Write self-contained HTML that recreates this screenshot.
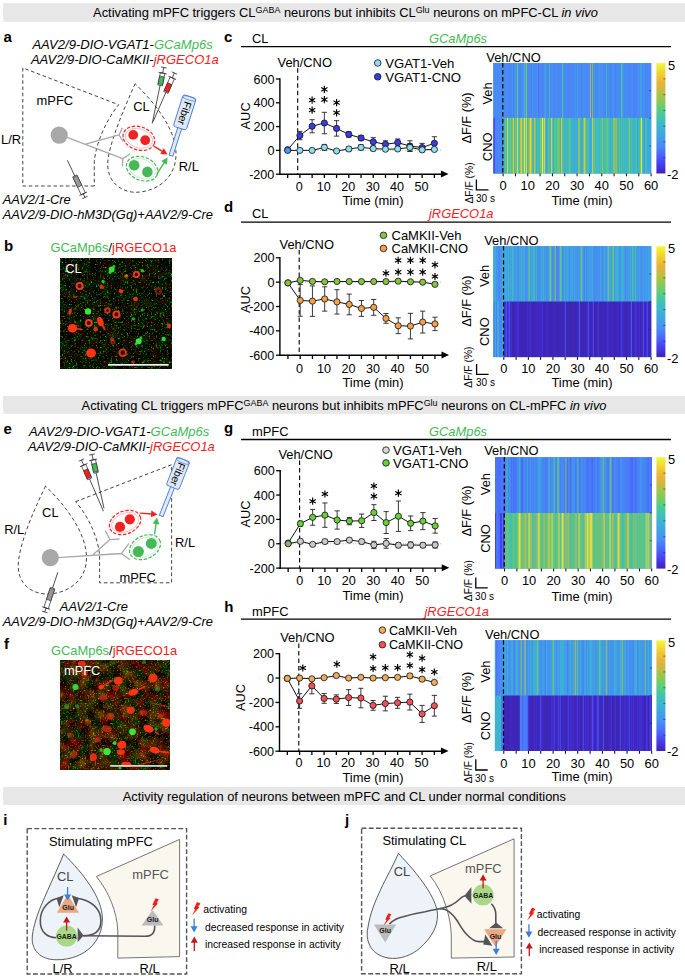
<!DOCTYPE html>
<html><head><meta charset="utf-8"><title>Figure</title>
<style>
html,body{margin:0;padding:0;background:#fff;}
body{width:685px;height:976px;overflow:hidden;font-family:"Liberation Sans",sans-serif;}
svg{display:block;font-family:"Liberation Sans",sans-serif;}
</style></head><body>
<svg width="685" height="976" viewBox="0 0 685 976">
<rect width="685" height="976" fill="#fff"/>
<rect x="3.20" y="3.20" width="682.00" height="18.70" fill="#e7e7e7"/>
<text x="93.10" y="17.15" font-size="12.89">Activating mPFC triggers CL<tspan font-size="8.95" dy="-3.7">GABA</tspan><tspan dy="3.7" font-size="12.89"> neurons but inhibits CL</tspan><tspan font-size="8.95" dy="-3.7">Glu</tspan><tspan dy="3.7" font-size="12.89"> neurons on mPFC-CL <tspan font-style="italic">in vivo</tspan></tspan></text>
<rect x="3.20" y="395.90" width="682.00" height="18.00" fill="#e7e7e7"/>
<text x="81.60" y="409.50" font-size="12.89">Activating CL triggers mPFC<tspan font-size="8.95" dy="-3.7">GABA</tspan><tspan dy="3.7" font-size="12.89"> neurons but inhibits mPFC</tspan><tspan font-size="8.95" dy="-3.7">Glu</tspan><tspan dy="3.7" font-size="12.89"> neurons on CL-mPFC <tspan font-style="italic">in vivo</tspan></tspan></text>
<rect x="3.20" y="787.00" width="682.00" height="17.90" fill="#e7e7e7"/>
<text x="122.70" y="800.55" font-size="12.89">Activity regulation of neurons between mPFC and CL under normal conditions</text>
<text x="224.00" y="42.20" font-size="15" font-weight="bold">c</text>
<text x="252.00" y="42.62" font-size="12.9">CL</text>
<text x="429.00" y="42.62" font-size="12.9" font-style="italic" fill="#45b957">GCaMp6s</text>
<line x1="241.00" y1="46.60" x2="671.00" y2="46.60" stroke="#000" stroke-width="1.3"/>
<line x1="279.90" y1="150.40" x2="441.71" y2="150.40" stroke="#999" stroke-width="0.7" stroke-dasharray="1 1.5"/>
<line x1="279.90" y1="78.30" x2="279.90" y2="174.90" stroke="#000" stroke-width="1.4"/>
<line x1="279.20" y1="174.20" x2="442.93" y2="174.20" stroke="#000" stroke-width="1.4"/>
<path d="M440.93 170.40 L448.53 173.90 L440.93 177.40Z" fill="#000"/>
<line x1="275.90" y1="79.00" x2="279.90" y2="79.00" stroke="#000" stroke-width="1.3"/>
<text x="274.40" y="83.51" font-size="12.6" text-anchor="end">600</text>
<line x1="275.90" y1="102.80" x2="279.90" y2="102.80" stroke="#000" stroke-width="1.3"/>
<text x="274.40" y="107.31" font-size="12.6" text-anchor="end">400</text>
<line x1="275.90" y1="126.60" x2="279.90" y2="126.60" stroke="#000" stroke-width="1.3"/>
<text x="274.40" y="131.11" font-size="12.6" text-anchor="end">200</text>
<line x1="275.90" y1="150.40" x2="279.90" y2="150.40" stroke="#000" stroke-width="1.3"/>
<text x="274.40" y="154.91" font-size="12.6" text-anchor="end">0</text>
<line x1="275.90" y1="174.20" x2="279.90" y2="174.20" stroke="#000" stroke-width="1.3"/>
<text x="274.40" y="178.71" font-size="12.6" text-anchor="end">-200</text>
<line x1="287.67" y1="174.20" x2="287.67" y2="178.00" stroke="#000" stroke-width="1.3"/>
<line x1="299.90" y1="174.20" x2="299.90" y2="178.00" stroke="#000" stroke-width="1.3"/>
<line x1="312.12" y1="174.20" x2="312.12" y2="178.00" stroke="#000" stroke-width="1.3"/>
<line x1="324.35" y1="174.20" x2="324.35" y2="178.00" stroke="#000" stroke-width="1.3"/>
<line x1="336.57" y1="174.20" x2="336.57" y2="178.00" stroke="#000" stroke-width="1.3"/>
<line x1="348.80" y1="174.20" x2="348.80" y2="178.00" stroke="#000" stroke-width="1.3"/>
<line x1="361.02" y1="174.20" x2="361.02" y2="178.00" stroke="#000" stroke-width="1.3"/>
<line x1="373.25" y1="174.20" x2="373.25" y2="178.00" stroke="#000" stroke-width="1.3"/>
<line x1="385.47" y1="174.20" x2="385.47" y2="178.00" stroke="#000" stroke-width="1.3"/>
<line x1="397.70" y1="174.20" x2="397.70" y2="178.00" stroke="#000" stroke-width="1.3"/>
<line x1="409.92" y1="174.20" x2="409.92" y2="178.00" stroke="#000" stroke-width="1.3"/>
<line x1="422.15" y1="174.20" x2="422.15" y2="178.00" stroke="#000" stroke-width="1.3"/>
<line x1="434.38" y1="174.20" x2="434.38" y2="178.00" stroke="#000" stroke-width="1.3"/>
<text x="299.30" y="191.11" font-size="12.6" text-anchor="middle">0</text>
<text x="323.75" y="191.11" font-size="12.6" text-anchor="middle">10</text>
<text x="348.20" y="191.11" font-size="12.6" text-anchor="middle">20</text>
<text x="372.65" y="191.11" font-size="12.6" text-anchor="middle">30</text>
<text x="397.10" y="191.11" font-size="12.6" text-anchor="middle">40</text>
<text x="421.55" y="191.11" font-size="12.6" text-anchor="middle">50</text>
<text x="342.40" y="205.12" font-size="12.9">Time (min)</text>
<text x="249.62" y="115.90" font-size="12.9" text-anchor="middle" transform="rotate(-90 249.62 115.90)">AUC</text>
<text x="277.50" y="66.92" font-size="12.9">Veh/CNO</text>
<line x1="297.70" y1="68.30" x2="297.70" y2="174.20" stroke="#000" stroke-width="1.1" stroke-dasharray="4.5 3"/>
<circle cx="377.70" cy="63.00" r="3.3" fill="#8fe0ee" stroke="#111" stroke-width="0.8"/>
<text x="385.20" y="67.71" font-size="13.15">VGAT1-Veh</text>
<circle cx="377.70" cy="76.80" r="3.3" fill="#3b3be6" stroke="#111" stroke-width="0.8"/>
<text x="385.20" y="81.51" font-size="13.15">VGAT1-CNO</text>
<line x1="299.90" y1="131.36" x2="299.90" y2="139.69" stroke="#222" stroke-width="0.9"/>
<line x1="297.30" y1="131.36" x2="302.50" y2="131.36" stroke="#222" stroke-width="0.9"/>
<line x1="297.30" y1="139.69" x2="302.50" y2="139.69" stroke="#222" stroke-width="0.9"/>
<line x1="312.12" y1="119.70" x2="312.12" y2="132.79" stroke="#222" stroke-width="0.9"/>
<line x1="309.52" y1="119.70" x2="314.73" y2="119.70" stroke="#222" stroke-width="0.9"/>
<line x1="309.52" y1="132.79" x2="314.73" y2="132.79" stroke="#222" stroke-width="0.9"/>
<line x1="324.35" y1="112.32" x2="324.35" y2="133.74" stroke="#222" stroke-width="0.9"/>
<line x1="321.75" y1="112.32" x2="326.95" y2="112.32" stroke="#222" stroke-width="0.9"/>
<line x1="321.75" y1="133.74" x2="326.95" y2="133.74" stroke="#222" stroke-width="0.9"/>
<line x1="336.57" y1="120.65" x2="336.57" y2="136.12" stroke="#222" stroke-width="0.9"/>
<line x1="333.97" y1="120.65" x2="339.18" y2="120.65" stroke="#222" stroke-width="0.9"/>
<line x1="333.97" y1="136.12" x2="339.18" y2="136.12" stroke="#222" stroke-width="0.9"/>
<line x1="348.80" y1="131.84" x2="348.80" y2="137.07" stroke="#222" stroke-width="0.9"/>
<line x1="346.20" y1="131.84" x2="351.40" y2="131.84" stroke="#222" stroke-width="0.9"/>
<line x1="346.20" y1="137.07" x2="351.40" y2="137.07" stroke="#222" stroke-width="0.9"/>
<line x1="361.02" y1="135.41" x2="361.02" y2="140.64" stroke="#222" stroke-width="0.9"/>
<line x1="358.42" y1="135.41" x2="363.62" y2="135.41" stroke="#222" stroke-width="0.9"/>
<line x1="358.42" y1="140.64" x2="363.62" y2="140.64" stroke="#222" stroke-width="0.9"/>
<line x1="373.25" y1="137.67" x2="373.25" y2="146.00" stroke="#222" stroke-width="0.9"/>
<line x1="370.65" y1="137.67" x2="375.85" y2="137.67" stroke="#222" stroke-width="0.9"/>
<line x1="370.65" y1="146.00" x2="375.85" y2="146.00" stroke="#222" stroke-width="0.9"/>
<line x1="385.47" y1="140.76" x2="385.47" y2="147.90" stroke="#222" stroke-width="0.9"/>
<line x1="382.87" y1="140.76" x2="388.07" y2="140.76" stroke="#222" stroke-width="0.9"/>
<line x1="382.87" y1="147.90" x2="388.07" y2="147.90" stroke="#222" stroke-width="0.9"/>
<line x1="397.70" y1="138.98" x2="397.70" y2="146.12" stroke="#222" stroke-width="0.9"/>
<line x1="395.10" y1="138.98" x2="400.30" y2="138.98" stroke="#222" stroke-width="0.9"/>
<line x1="395.10" y1="146.12" x2="400.30" y2="146.12" stroke="#222" stroke-width="0.9"/>
<line x1="409.92" y1="140.76" x2="409.92" y2="151.47" stroke="#222" stroke-width="0.9"/>
<line x1="407.32" y1="140.76" x2="412.52" y2="140.76" stroke="#222" stroke-width="0.9"/>
<line x1="407.32" y1="151.47" x2="412.52" y2="151.47" stroke="#222" stroke-width="0.9"/>
<line x1="422.15" y1="143.38" x2="422.15" y2="151.71" stroke="#222" stroke-width="0.9"/>
<line x1="419.55" y1="143.38" x2="424.75" y2="143.38" stroke="#222" stroke-width="0.9"/>
<line x1="419.55" y1="151.71" x2="424.75" y2="151.71" stroke="#222" stroke-width="0.9"/>
<line x1="434.38" y1="136.72" x2="434.38" y2="149.81" stroke="#222" stroke-width="0.9"/>
<line x1="431.77" y1="136.72" x2="436.98" y2="136.72" stroke="#222" stroke-width="0.9"/>
<line x1="431.77" y1="149.81" x2="436.98" y2="149.81" stroke="#222" stroke-width="0.9"/>
<polyline points="287.67,149.69 299.90,135.52 312.12,126.24 324.35,123.03 336.57,128.38 348.80,134.45 361.02,138.02 373.25,141.83 385.47,144.33 397.70,142.55 409.92,146.12 422.15,147.54 434.38,143.26" fill="none" stroke="#111" stroke-width="1"/>
<circle cx="287.67" cy="149.69" r="3.1" fill="#4a9ae4" stroke="#111" stroke-width="0.8"/>
<circle cx="299.90" cy="135.52" r="3.1" fill="#3b3be6" stroke="#111" stroke-width="0.8"/>
<circle cx="312.12" cy="126.24" r="3.1" fill="#3b3be6" stroke="#111" stroke-width="0.8"/>
<circle cx="324.35" cy="123.03" r="3.1" fill="#3b3be6" stroke="#111" stroke-width="0.8"/>
<circle cx="336.57" cy="128.38" r="3.1" fill="#3b3be6" stroke="#111" stroke-width="0.8"/>
<circle cx="348.80" cy="134.45" r="3.1" fill="#3b3be6" stroke="#111" stroke-width="0.8"/>
<circle cx="361.02" cy="138.02" r="3.1" fill="#3b3be6" stroke="#111" stroke-width="0.8"/>
<circle cx="373.25" cy="141.83" r="3.1" fill="#3b3be6" stroke="#111" stroke-width="0.8"/>
<circle cx="385.47" cy="144.33" r="3.1" fill="#3b3be6" stroke="#111" stroke-width="0.8"/>
<circle cx="397.70" cy="142.55" r="3.1" fill="#3b3be6" stroke="#111" stroke-width="0.8"/>
<circle cx="409.92" cy="146.12" r="3.1" fill="#3b3be6" stroke="#111" stroke-width="0.8"/>
<circle cx="422.15" cy="147.54" r="3.1" fill="#3b3be6" stroke="#111" stroke-width="0.8"/>
<circle cx="434.38" cy="143.26" r="3.1" fill="#3b3be6" stroke="#111" stroke-width="0.8"/>
<line x1="299.90" y1="149.45" x2="299.90" y2="151.35" stroke="#222" stroke-width="0.9"/>
<line x1="297.30" y1="149.45" x2="302.50" y2="149.45" stroke="#222" stroke-width="0.9"/>
<line x1="297.30" y1="151.35" x2="302.50" y2="151.35" stroke="#222" stroke-width="0.9"/>
<line x1="312.12" y1="149.45" x2="312.12" y2="151.35" stroke="#222" stroke-width="0.9"/>
<line x1="309.52" y1="149.45" x2="314.73" y2="149.45" stroke="#222" stroke-width="0.9"/>
<line x1="309.52" y1="151.35" x2="314.73" y2="151.35" stroke="#222" stroke-width="0.9"/>
<line x1="324.35" y1="144.45" x2="324.35" y2="150.40" stroke="#222" stroke-width="0.9"/>
<line x1="321.75" y1="144.45" x2="326.95" y2="144.45" stroke="#222" stroke-width="0.9"/>
<line x1="321.75" y1="150.40" x2="326.95" y2="150.40" stroke="#222" stroke-width="0.9"/>
<line x1="336.57" y1="149.57" x2="336.57" y2="152.42" stroke="#222" stroke-width="0.9"/>
<line x1="333.97" y1="149.57" x2="339.18" y2="149.57" stroke="#222" stroke-width="0.9"/>
<line x1="333.97" y1="152.42" x2="339.18" y2="152.42" stroke="#222" stroke-width="0.9"/>
<line x1="348.80" y1="146.83" x2="348.80" y2="151.11" stroke="#222" stroke-width="0.9"/>
<line x1="346.20" y1="146.83" x2="351.40" y2="146.83" stroke="#222" stroke-width="0.9"/>
<line x1="346.20" y1="151.11" x2="351.40" y2="151.11" stroke="#222" stroke-width="0.9"/>
<line x1="361.02" y1="144.81" x2="361.02" y2="150.04" stroke="#222" stroke-width="0.9"/>
<line x1="358.42" y1="144.81" x2="363.62" y2="144.81" stroke="#222" stroke-width="0.9"/>
<line x1="358.42" y1="150.04" x2="363.62" y2="150.04" stroke="#222" stroke-width="0.9"/>
<line x1="373.25" y1="146.47" x2="373.25" y2="150.76" stroke="#222" stroke-width="0.9"/>
<line x1="370.65" y1="146.47" x2="375.85" y2="146.47" stroke="#222" stroke-width="0.9"/>
<line x1="370.65" y1="150.76" x2="375.85" y2="150.76" stroke="#222" stroke-width="0.9"/>
<line x1="385.47" y1="147.07" x2="385.47" y2="151.35" stroke="#222" stroke-width="0.9"/>
<line x1="382.87" y1="147.07" x2="388.07" y2="147.07" stroke="#222" stroke-width="0.9"/>
<line x1="382.87" y1="151.35" x2="388.07" y2="151.35" stroke="#222" stroke-width="0.9"/>
<line x1="397.70" y1="147.19" x2="397.70" y2="150.76" stroke="#222" stroke-width="0.9"/>
<line x1="395.10" y1="147.19" x2="400.30" y2="147.19" stroke="#222" stroke-width="0.9"/>
<line x1="395.10" y1="150.76" x2="400.30" y2="150.76" stroke="#222" stroke-width="0.9"/>
<line x1="409.92" y1="143.85" x2="409.92" y2="151.00" stroke="#222" stroke-width="0.9"/>
<line x1="407.32" y1="143.85" x2="412.52" y2="143.85" stroke="#222" stroke-width="0.9"/>
<line x1="407.32" y1="151.00" x2="412.52" y2="151.00" stroke="#222" stroke-width="0.9"/>
<line x1="422.15" y1="148.02" x2="422.15" y2="151.59" stroke="#222" stroke-width="0.9"/>
<line x1="419.55" y1="148.02" x2="424.75" y2="148.02" stroke="#222" stroke-width="0.9"/>
<line x1="419.55" y1="151.59" x2="424.75" y2="151.59" stroke="#222" stroke-width="0.9"/>
<line x1="434.38" y1="148.02" x2="434.38" y2="150.88" stroke="#222" stroke-width="0.9"/>
<line x1="431.77" y1="148.02" x2="436.98" y2="148.02" stroke="#222" stroke-width="0.9"/>
<line x1="431.77" y1="150.88" x2="436.98" y2="150.88" stroke="#222" stroke-width="0.9"/>
<polyline points="287.67,150.40 299.90,150.40 312.12,150.40 324.35,147.42 336.57,151.00 348.80,148.97 361.02,147.42 373.25,148.61 385.47,149.21 397.70,148.97 409.92,147.42 422.15,149.81 434.38,149.45" fill="none" stroke="#111" stroke-width="1"/>
<circle cx="287.67" cy="150.40" r="3.1" fill="#4a9ae4" stroke="#111" stroke-width="0.8"/>
<circle cx="299.90" cy="150.40" r="3.1" fill="#8fe0ee" stroke="#111" stroke-width="0.8"/>
<circle cx="312.12" cy="150.40" r="3.1" fill="#8fe0ee" stroke="#111" stroke-width="0.8"/>
<circle cx="324.35" cy="147.42" r="3.1" fill="#8fe0ee" stroke="#111" stroke-width="0.8"/>
<circle cx="336.57" cy="151.00" r="3.1" fill="#8fe0ee" stroke="#111" stroke-width="0.8"/>
<circle cx="348.80" cy="148.97" r="3.1" fill="#8fe0ee" stroke="#111" stroke-width="0.8"/>
<circle cx="361.02" cy="147.42" r="3.1" fill="#8fe0ee" stroke="#111" stroke-width="0.8"/>
<circle cx="373.25" cy="148.61" r="3.1" fill="#8fe0ee" stroke="#111" stroke-width="0.8"/>
<circle cx="385.47" cy="149.21" r="3.1" fill="#8fe0ee" stroke="#111" stroke-width="0.8"/>
<circle cx="397.70" cy="148.97" r="3.1" fill="#8fe0ee" stroke="#111" stroke-width="0.8"/>
<circle cx="409.92" cy="147.42" r="3.1" fill="#8fe0ee" stroke="#111" stroke-width="0.8"/>
<circle cx="422.15" cy="149.81" r="3.1" fill="#8fe0ee" stroke="#111" stroke-width="0.8"/>
<circle cx="434.38" cy="149.45" r="3.1" fill="#8fe0ee" stroke="#111" stroke-width="0.8"/>
<path d="M312.12 96.50 L312.12 103.70 M309.01 98.30 L315.24 101.90 M315.24 98.30 L309.01 101.90 " stroke="#000" stroke-width="1.15" fill="none"/>
<path d="M312.12 106.50 L312.12 113.70 M309.01 108.30 L315.24 111.90 M315.24 108.30 L309.01 111.90 " stroke="#000" stroke-width="1.15" fill="none"/>
<path d="M324.35 85.80 L324.35 93.00 M321.23 87.60 L327.47 91.20 M327.47 87.60 L321.23 91.20 " stroke="#000" stroke-width="1.15" fill="none"/>
<path d="M324.35 96.00 L324.35 103.20 M321.23 97.80 L327.47 101.40 M327.47 97.80 L321.23 101.40 " stroke="#000" stroke-width="1.15" fill="none"/>
<path d="M336.57 99.00 L336.57 106.20 M333.46 100.80 L339.69 104.40 M339.69 100.80 L333.46 104.40 " stroke="#000" stroke-width="1.15" fill="none"/>
<path d="M336.57 109.20 L336.57 116.40 M333.46 111.00 L339.69 114.60 M339.69 111.00 L333.46 114.60 " stroke="#000" stroke-width="1.15" fill="none"/>
<text x="224.00" y="212.20" font-size="15" font-weight="bold">d</text>
<text x="252.00" y="218.42" font-size="12.9">CL</text>
<text x="429.00" y="218.42" font-size="12.9" font-style="italic" fill="#f02222">jRGECO1a</text>
<line x1="241.00" y1="222.20" x2="671.00" y2="222.20" stroke="#000" stroke-width="1.3"/>
<line x1="279.90" y1="282.15" x2="442.30" y2="282.15" stroke="#999" stroke-width="0.7" stroke-dasharray="1 1.5"/>
<line x1="279.90" y1="257.10" x2="279.90" y2="355.90" stroke="#000" stroke-width="1.4"/>
<line x1="279.20" y1="355.20" x2="443.52" y2="355.20" stroke="#000" stroke-width="1.4"/>
<path d="M441.52 351.40 L449.12 354.90 L441.52 358.40Z" fill="#000"/>
<line x1="275.90" y1="257.80" x2="279.90" y2="257.80" stroke="#000" stroke-width="1.3"/>
<text x="274.40" y="262.31" font-size="12.6" text-anchor="end">200</text>
<line x1="275.90" y1="282.15" x2="279.90" y2="282.15" stroke="#000" stroke-width="1.3"/>
<text x="274.40" y="286.66" font-size="12.6" text-anchor="end">0</text>
<line x1="275.90" y1="306.50" x2="279.90" y2="306.50" stroke="#000" stroke-width="1.3"/>
<text x="274.40" y="311.01" font-size="12.6" text-anchor="end">-200</text>
<line x1="275.90" y1="330.85" x2="279.90" y2="330.85" stroke="#000" stroke-width="1.3"/>
<text x="274.40" y="335.36" font-size="12.6" text-anchor="end">-400</text>
<line x1="275.90" y1="355.20" x2="279.90" y2="355.20" stroke="#000" stroke-width="1.3"/>
<text x="274.40" y="359.71" font-size="12.6" text-anchor="end">-600</text>
<line x1="287.95" y1="355.20" x2="287.95" y2="359.00" stroke="#000" stroke-width="1.3"/>
<line x1="300.20" y1="355.20" x2="300.20" y2="359.00" stroke="#000" stroke-width="1.3"/>
<line x1="312.45" y1="355.20" x2="312.45" y2="359.00" stroke="#000" stroke-width="1.3"/>
<line x1="324.70" y1="355.20" x2="324.70" y2="359.00" stroke="#000" stroke-width="1.3"/>
<line x1="336.95" y1="355.20" x2="336.95" y2="359.00" stroke="#000" stroke-width="1.3"/>
<line x1="349.20" y1="355.20" x2="349.20" y2="359.00" stroke="#000" stroke-width="1.3"/>
<line x1="361.45" y1="355.20" x2="361.45" y2="359.00" stroke="#000" stroke-width="1.3"/>
<line x1="373.70" y1="355.20" x2="373.70" y2="359.00" stroke="#000" stroke-width="1.3"/>
<line x1="385.95" y1="355.20" x2="385.95" y2="359.00" stroke="#000" stroke-width="1.3"/>
<line x1="398.20" y1="355.20" x2="398.20" y2="359.00" stroke="#000" stroke-width="1.3"/>
<line x1="410.45" y1="355.20" x2="410.45" y2="359.00" stroke="#000" stroke-width="1.3"/>
<line x1="422.70" y1="355.20" x2="422.70" y2="359.00" stroke="#000" stroke-width="1.3"/>
<line x1="434.95" y1="355.20" x2="434.95" y2="359.00" stroke="#000" stroke-width="1.3"/>
<text x="299.60" y="372.51" font-size="12.6" text-anchor="middle">0</text>
<text x="324.10" y="372.51" font-size="12.6" text-anchor="middle">10</text>
<text x="348.60" y="372.51" font-size="12.6" text-anchor="middle">20</text>
<text x="373.10" y="372.51" font-size="12.6" text-anchor="middle">30</text>
<text x="397.60" y="372.51" font-size="12.6" text-anchor="middle">40</text>
<text x="422.10" y="372.51" font-size="12.6" text-anchor="middle">50</text>
<text x="342.40" y="386.92" font-size="12.9">Time (min)</text>
<text x="249.62" y="299.50" font-size="12.9" text-anchor="middle" transform="rotate(-90 249.62 299.50)">AUC</text>
<text x="279.50" y="248.62" font-size="12.9">Veh/CNO</text>
<line x1="299.20" y1="250.00" x2="299.20" y2="355.20" stroke="#000" stroke-width="1.1" stroke-dasharray="4.5 3"/>
<circle cx="383.50" cy="235.30" r="3.3" fill="#86c440" stroke="#111" stroke-width="0.8"/>
<text x="391.50" y="239.95" font-size="13.0">CaMKII-Veh</text>
<circle cx="383.50" cy="248.40" r="3.3" fill="#f6a04a" stroke="#111" stroke-width="0.8"/>
<text x="391.50" y="253.05" font-size="13.0">CaMKII-CNO</text>
<line x1="300.20" y1="284.59" x2="300.20" y2="316.24" stroke="#222" stroke-width="0.9"/>
<line x1="297.60" y1="284.59" x2="302.80" y2="284.59" stroke="#222" stroke-width="0.9"/>
<line x1="297.60" y1="316.24" x2="302.80" y2="316.24" stroke="#222" stroke-width="0.9"/>
<line x1="312.45" y1="285.92" x2="312.45" y2="316.36" stroke="#222" stroke-width="0.9"/>
<line x1="309.85" y1="285.92" x2="315.05" y2="285.92" stroke="#222" stroke-width="0.9"/>
<line x1="309.85" y1="316.36" x2="315.05" y2="316.36" stroke="#222" stroke-width="0.9"/>
<line x1="324.70" y1="286.78" x2="324.70" y2="311.13" stroke="#222" stroke-width="0.9"/>
<line x1="322.10" y1="286.78" x2="327.30" y2="286.78" stroke="#222" stroke-width="0.9"/>
<line x1="322.10" y1="311.13" x2="327.30" y2="311.13" stroke="#222" stroke-width="0.9"/>
<line x1="336.95" y1="289.70" x2="336.95" y2="314.05" stroke="#222" stroke-width="0.9"/>
<line x1="334.35" y1="289.70" x2="339.55" y2="289.70" stroke="#222" stroke-width="0.9"/>
<line x1="334.35" y1="314.05" x2="339.55" y2="314.05" stroke="#222" stroke-width="0.9"/>
<line x1="349.20" y1="294.08" x2="349.20" y2="314.78" stroke="#222" stroke-width="0.9"/>
<line x1="346.60" y1="294.08" x2="351.80" y2="294.08" stroke="#222" stroke-width="0.9"/>
<line x1="346.60" y1="314.78" x2="351.80" y2="314.78" stroke="#222" stroke-width="0.9"/>
<line x1="361.45" y1="300.53" x2="361.45" y2="316.36" stroke="#222" stroke-width="0.9"/>
<line x1="358.85" y1="300.53" x2="364.05" y2="300.53" stroke="#222" stroke-width="0.9"/>
<line x1="358.85" y1="316.36" x2="364.05" y2="316.36" stroke="#222" stroke-width="0.9"/>
<line x1="373.70" y1="299.44" x2="373.70" y2="315.27" stroke="#222" stroke-width="0.9"/>
<line x1="371.10" y1="299.44" x2="376.30" y2="299.44" stroke="#222" stroke-width="0.9"/>
<line x1="371.10" y1="315.27" x2="376.30" y2="315.27" stroke="#222" stroke-width="0.9"/>
<line x1="385.95" y1="313.56" x2="385.95" y2="323.30" stroke="#222" stroke-width="0.9"/>
<line x1="383.35" y1="313.56" x2="388.55" y2="313.56" stroke="#222" stroke-width="0.9"/>
<line x1="383.35" y1="323.30" x2="388.55" y2="323.30" stroke="#222" stroke-width="0.9"/>
<line x1="398.20" y1="317.82" x2="398.20" y2="333.65" stroke="#222" stroke-width="0.9"/>
<line x1="395.60" y1="317.82" x2="400.80" y2="317.82" stroke="#222" stroke-width="0.9"/>
<line x1="395.60" y1="333.65" x2="400.80" y2="333.65" stroke="#222" stroke-width="0.9"/>
<line x1="410.45" y1="313.32" x2="410.45" y2="338.89" stroke="#222" stroke-width="0.9"/>
<line x1="407.85" y1="313.32" x2="413.05" y2="313.32" stroke="#222" stroke-width="0.9"/>
<line x1="407.85" y1="338.89" x2="413.05" y2="338.89" stroke="#222" stroke-width="0.9"/>
<line x1="422.70" y1="311.13" x2="422.70" y2="333.04" stroke="#222" stroke-width="0.9"/>
<line x1="420.10" y1="311.13" x2="425.30" y2="311.13" stroke="#222" stroke-width="0.9"/>
<line x1="420.10" y1="333.04" x2="425.30" y2="333.04" stroke="#222" stroke-width="0.9"/>
<line x1="434.95" y1="317.21" x2="434.95" y2="330.61" stroke="#222" stroke-width="0.9"/>
<line x1="432.35" y1="317.21" x2="437.55" y2="317.21" stroke="#222" stroke-width="0.9"/>
<line x1="432.35" y1="330.61" x2="437.55" y2="330.61" stroke="#222" stroke-width="0.9"/>
<polyline points="287.95,282.88 300.20,300.41 312.45,301.14 324.70,298.95 336.95,301.87 349.20,304.43 361.45,308.45 373.70,307.35 385.95,318.43 398.20,325.74 410.45,326.10 422.70,322.08 434.95,323.91" fill="none" stroke="#111" stroke-width="1"/>
<circle cx="287.95" cy="282.88" r="3.1" fill="#f6a04a" stroke="#111" stroke-width="0.8"/>
<circle cx="300.20" cy="300.41" r="3.1" fill="#f6a04a" stroke="#111" stroke-width="0.8"/>
<circle cx="312.45" cy="301.14" r="3.1" fill="#f6a04a" stroke="#111" stroke-width="0.8"/>
<circle cx="324.70" cy="298.95" r="3.1" fill="#f6a04a" stroke="#111" stroke-width="0.8"/>
<circle cx="336.95" cy="301.87" r="3.1" fill="#f6a04a" stroke="#111" stroke-width="0.8"/>
<circle cx="349.20" cy="304.43" r="3.1" fill="#f6a04a" stroke="#111" stroke-width="0.8"/>
<circle cx="361.45" cy="308.45" r="3.1" fill="#f6a04a" stroke="#111" stroke-width="0.8"/>
<circle cx="373.70" cy="307.35" r="3.1" fill="#f6a04a" stroke="#111" stroke-width="0.8"/>
<circle cx="385.95" cy="318.43" r="3.1" fill="#f6a04a" stroke="#111" stroke-width="0.8"/>
<circle cx="398.20" cy="325.74" r="3.1" fill="#f6a04a" stroke="#111" stroke-width="0.8"/>
<circle cx="410.45" cy="326.10" r="3.1" fill="#f6a04a" stroke="#111" stroke-width="0.8"/>
<circle cx="422.70" cy="322.08" r="3.1" fill="#f6a04a" stroke="#111" stroke-width="0.8"/>
<circle cx="434.95" cy="323.91" r="3.1" fill="#f6a04a" stroke="#111" stroke-width="0.8"/>
<line x1="300.20" y1="279.11" x2="300.20" y2="281.54" stroke="#222" stroke-width="0.9"/>
<line x1="297.60" y1="279.11" x2="302.80" y2="279.11" stroke="#222" stroke-width="0.9"/>
<line x1="297.60" y1="281.54" x2="302.80" y2="281.54" stroke="#222" stroke-width="0.9"/>
<line x1="312.45" y1="280.45" x2="312.45" y2="282.39" stroke="#222" stroke-width="0.9"/>
<line x1="309.85" y1="280.45" x2="315.05" y2="280.45" stroke="#222" stroke-width="0.9"/>
<line x1="309.85" y1="282.39" x2="315.05" y2="282.39" stroke="#222" stroke-width="0.9"/>
<line x1="324.70" y1="280.81" x2="324.70" y2="282.76" stroke="#222" stroke-width="0.9"/>
<line x1="322.10" y1="280.81" x2="327.30" y2="280.81" stroke="#222" stroke-width="0.9"/>
<line x1="322.10" y1="282.76" x2="327.30" y2="282.76" stroke="#222" stroke-width="0.9"/>
<line x1="336.95" y1="280.45" x2="336.95" y2="282.39" stroke="#222" stroke-width="0.9"/>
<line x1="334.35" y1="280.45" x2="339.55" y2="280.45" stroke="#222" stroke-width="0.9"/>
<line x1="334.35" y1="282.39" x2="339.55" y2="282.39" stroke="#222" stroke-width="0.9"/>
<line x1="349.20" y1="280.57" x2="349.20" y2="282.52" stroke="#222" stroke-width="0.9"/>
<line x1="346.60" y1="280.57" x2="351.80" y2="280.57" stroke="#222" stroke-width="0.9"/>
<line x1="346.60" y1="282.52" x2="351.80" y2="282.52" stroke="#222" stroke-width="0.9"/>
<line x1="361.45" y1="280.57" x2="361.45" y2="282.52" stroke="#222" stroke-width="0.9"/>
<line x1="358.85" y1="280.57" x2="364.05" y2="280.57" stroke="#222" stroke-width="0.9"/>
<line x1="358.85" y1="282.52" x2="364.05" y2="282.52" stroke="#222" stroke-width="0.9"/>
<line x1="373.70" y1="280.57" x2="373.70" y2="282.52" stroke="#222" stroke-width="0.9"/>
<line x1="371.10" y1="280.57" x2="376.30" y2="280.57" stroke="#222" stroke-width="0.9"/>
<line x1="371.10" y1="282.52" x2="376.30" y2="282.52" stroke="#222" stroke-width="0.9"/>
<line x1="385.95" y1="280.57" x2="385.95" y2="282.52" stroke="#222" stroke-width="0.9"/>
<line x1="383.35" y1="280.57" x2="388.55" y2="280.57" stroke="#222" stroke-width="0.9"/>
<line x1="383.35" y1="282.52" x2="388.55" y2="282.52" stroke="#222" stroke-width="0.9"/>
<line x1="398.20" y1="280.20" x2="398.20" y2="282.15" stroke="#222" stroke-width="0.9"/>
<line x1="395.60" y1="280.20" x2="400.80" y2="280.20" stroke="#222" stroke-width="0.9"/>
<line x1="395.60" y1="282.15" x2="400.80" y2="282.15" stroke="#222" stroke-width="0.9"/>
<line x1="410.45" y1="280.81" x2="410.45" y2="282.76" stroke="#222" stroke-width="0.9"/>
<line x1="407.85" y1="280.81" x2="413.05" y2="280.81" stroke="#222" stroke-width="0.9"/>
<line x1="407.85" y1="282.76" x2="413.05" y2="282.76" stroke="#222" stroke-width="0.9"/>
<line x1="422.70" y1="281.18" x2="422.70" y2="283.12" stroke="#222" stroke-width="0.9"/>
<line x1="420.10" y1="281.18" x2="425.30" y2="281.18" stroke="#222" stroke-width="0.9"/>
<line x1="420.10" y1="283.12" x2="425.30" y2="283.12" stroke="#222" stroke-width="0.9"/>
<line x1="434.95" y1="283.12" x2="434.95" y2="285.56" stroke="#222" stroke-width="0.9"/>
<line x1="432.35" y1="283.12" x2="437.55" y2="283.12" stroke="#222" stroke-width="0.9"/>
<line x1="432.35" y1="285.56" x2="437.55" y2="285.56" stroke="#222" stroke-width="0.9"/>
<polyline points="287.95,282.88 300.20,280.32 312.45,281.42 324.70,281.78 336.95,281.42 349.20,281.54 361.45,281.54 373.70,281.54 385.95,281.54 398.20,281.18 410.45,281.78 422.70,282.15 434.95,284.34" fill="none" stroke="#111" stroke-width="1"/>
<circle cx="287.95" cy="282.88" r="3.1" fill="#86c440" stroke="#111" stroke-width="0.8"/>
<circle cx="300.20" cy="280.32" r="3.1" fill="#86c440" stroke="#111" stroke-width="0.8"/>
<circle cx="312.45" cy="281.42" r="3.1" fill="#86c440" stroke="#111" stroke-width="0.8"/>
<circle cx="324.70" cy="281.78" r="3.1" fill="#86c440" stroke="#111" stroke-width="0.8"/>
<circle cx="336.95" cy="281.42" r="3.1" fill="#86c440" stroke="#111" stroke-width="0.8"/>
<circle cx="349.20" cy="281.54" r="3.1" fill="#86c440" stroke="#111" stroke-width="0.8"/>
<circle cx="361.45" cy="281.54" r="3.1" fill="#86c440" stroke="#111" stroke-width="0.8"/>
<circle cx="373.70" cy="281.54" r="3.1" fill="#86c440" stroke="#111" stroke-width="0.8"/>
<circle cx="385.95" cy="281.54" r="3.1" fill="#86c440" stroke="#111" stroke-width="0.8"/>
<circle cx="398.20" cy="281.18" r="3.1" fill="#86c440" stroke="#111" stroke-width="0.8"/>
<circle cx="410.45" cy="281.78" r="3.1" fill="#86c440" stroke="#111" stroke-width="0.8"/>
<circle cx="422.70" cy="282.15" r="3.1" fill="#86c440" stroke="#111" stroke-width="0.8"/>
<circle cx="434.95" cy="284.34" r="3.1" fill="#86c440" stroke="#111" stroke-width="0.8"/>
<path d="M385.95 269.60 L385.95 276.80 M382.83 271.40 L389.07 275.00 M389.07 271.40 L382.83 275.00 " stroke="#000" stroke-width="1.15" fill="none"/>
<path d="M398.20 256.80 L398.20 264.00 M395.08 258.60 L401.32 262.20 M401.32 258.60 L395.08 262.20 " stroke="#000" stroke-width="1.15" fill="none"/>
<path d="M398.20 268.50 L398.20 275.70 M395.08 270.30 L401.32 273.90 M401.32 270.30 L395.08 273.90 " stroke="#000" stroke-width="1.15" fill="none"/>
<path d="M410.45 256.80 L410.45 264.00 M407.33 258.60 L413.57 262.20 M413.57 258.60 L407.33 262.20 " stroke="#000" stroke-width="1.15" fill="none"/>
<path d="M410.45 268.50 L410.45 275.70 M407.33 270.30 L413.57 273.90 M413.57 270.30 L407.33 273.90 " stroke="#000" stroke-width="1.15" fill="none"/>
<path d="M422.70 256.80 L422.70 264.00 M419.58 258.60 L425.82 262.20 M425.82 258.60 L419.58 262.20 " stroke="#000" stroke-width="1.15" fill="none"/>
<path d="M422.70 268.50 L422.70 275.70 M419.58 270.30 L425.82 273.90 M425.82 270.30 L419.58 273.90 " stroke="#000" stroke-width="1.15" fill="none"/>
<path d="M434.95 261.20 L434.95 268.40 M431.83 263.00 L438.07 266.60 M438.07 263.00 L431.83 266.60 " stroke="#000" stroke-width="1.15" fill="none"/>
<path d="M434.95 272.90 L434.95 280.10 M431.83 274.70 L438.07 278.30 M438.07 274.70 L431.83 278.30 " stroke="#000" stroke-width="1.15" fill="none"/>
<text x="224.00" y="433.40" font-size="15" font-weight="bold">g</text>
<text x="252.00" y="435.82" font-size="12.9">mPFC</text>
<text x="429.00" y="435.82" font-size="12.9" font-style="italic" fill="#45b957">GCaMp6s</text>
<line x1="241.00" y1="439.50" x2="671.00" y2="439.50" stroke="#000" stroke-width="1.3"/>
<line x1="280.20" y1="543.75" x2="442.50" y2="543.75" stroke="#999" stroke-width="0.7" stroke-dasharray="1 1.5"/>
<line x1="280.20" y1="470.00" x2="280.20" y2="568.80" stroke="#000" stroke-width="1.4"/>
<line x1="279.50" y1="568.10" x2="443.73" y2="568.10" stroke="#000" stroke-width="1.4"/>
<path d="M441.73 564.30 L449.33 567.80 L441.73 571.30Z" fill="#000"/>
<line x1="276.20" y1="470.70" x2="280.20" y2="470.70" stroke="#000" stroke-width="1.3"/>
<text x="274.70" y="475.21" font-size="12.6" text-anchor="end">600</text>
<line x1="276.20" y1="495.05" x2="280.20" y2="495.05" stroke="#000" stroke-width="1.3"/>
<text x="274.70" y="499.56" font-size="12.6" text-anchor="end">400</text>
<line x1="276.20" y1="519.40" x2="280.20" y2="519.40" stroke="#000" stroke-width="1.3"/>
<text x="274.70" y="523.91" font-size="12.6" text-anchor="end">200</text>
<line x1="276.20" y1="543.75" x2="280.20" y2="543.75" stroke="#000" stroke-width="1.3"/>
<text x="274.70" y="548.26" font-size="12.6" text-anchor="end">0</text>
<line x1="276.20" y1="568.10" x2="280.20" y2="568.10" stroke="#000" stroke-width="1.3"/>
<text x="274.70" y="572.61" font-size="12.6" text-anchor="end">-200</text>
<line x1="288.15" y1="568.10" x2="288.15" y2="571.90" stroke="#000" stroke-width="1.3"/>
<line x1="300.40" y1="568.10" x2="300.40" y2="571.90" stroke="#000" stroke-width="1.3"/>
<line x1="312.65" y1="568.10" x2="312.65" y2="571.90" stroke="#000" stroke-width="1.3"/>
<line x1="324.90" y1="568.10" x2="324.90" y2="571.90" stroke="#000" stroke-width="1.3"/>
<line x1="337.15" y1="568.10" x2="337.15" y2="571.90" stroke="#000" stroke-width="1.3"/>
<line x1="349.40" y1="568.10" x2="349.40" y2="571.90" stroke="#000" stroke-width="1.3"/>
<line x1="361.65" y1="568.10" x2="361.65" y2="571.90" stroke="#000" stroke-width="1.3"/>
<line x1="373.90" y1="568.10" x2="373.90" y2="571.90" stroke="#000" stroke-width="1.3"/>
<line x1="386.15" y1="568.10" x2="386.15" y2="571.90" stroke="#000" stroke-width="1.3"/>
<line x1="398.40" y1="568.10" x2="398.40" y2="571.90" stroke="#000" stroke-width="1.3"/>
<line x1="410.65" y1="568.10" x2="410.65" y2="571.90" stroke="#000" stroke-width="1.3"/>
<line x1="422.90" y1="568.10" x2="422.90" y2="571.90" stroke="#000" stroke-width="1.3"/>
<line x1="435.15" y1="568.10" x2="435.15" y2="571.90" stroke="#000" stroke-width="1.3"/>
<text x="299.80" y="584.91" font-size="12.6" text-anchor="middle">0</text>
<text x="324.30" y="584.91" font-size="12.6" text-anchor="middle">10</text>
<text x="348.80" y="584.91" font-size="12.6" text-anchor="middle">20</text>
<text x="373.30" y="584.91" font-size="12.6" text-anchor="middle">30</text>
<text x="397.80" y="584.91" font-size="12.6" text-anchor="middle">40</text>
<text x="422.30" y="584.91" font-size="12.6" text-anchor="middle">50</text>
<text x="342.40" y="600.02" font-size="12.9">Time (min)</text>
<text x="249.62" y="514.00" font-size="12.9" text-anchor="middle" transform="rotate(-90 249.62 514.00)">AUC</text>
<text x="278.40" y="459.12" font-size="12.9">Veh/CNO</text>
<line x1="299.60" y1="460.50" x2="299.60" y2="568.10" stroke="#000" stroke-width="1.1" stroke-dasharray="4.5 3"/>
<circle cx="386.00" cy="450.10" r="3.3" fill="#d6d6d6" stroke="#111" stroke-width="0.8"/>
<text x="393.00" y="454.79" font-size="13.1">VGAT1-Veh</text>
<circle cx="386.00" cy="462.90" r="3.3" fill="#67d038" stroke="#111" stroke-width="0.8"/>
<text x="393.00" y="467.59" font-size="13.1">VGAT1-CNO</text>
<line x1="300.40" y1="521.23" x2="300.40" y2="526.10" stroke="#222" stroke-width="0.9"/>
<line x1="297.80" y1="521.23" x2="303.00" y2="521.23" stroke="#222" stroke-width="0.9"/>
<line x1="297.80" y1="526.10" x2="303.00" y2="526.10" stroke="#222" stroke-width="0.9"/>
<line x1="312.65" y1="509.42" x2="312.65" y2="525.24" stroke="#222" stroke-width="0.9"/>
<line x1="310.05" y1="509.42" x2="315.25" y2="509.42" stroke="#222" stroke-width="0.9"/>
<line x1="310.05" y1="525.24" x2="315.25" y2="525.24" stroke="#222" stroke-width="0.9"/>
<line x1="324.90" y1="502.96" x2="324.90" y2="527.31" stroke="#222" stroke-width="0.9"/>
<line x1="322.30" y1="502.96" x2="327.50" y2="502.96" stroke="#222" stroke-width="0.9"/>
<line x1="322.30" y1="527.31" x2="327.50" y2="527.31" stroke="#222" stroke-width="0.9"/>
<line x1="337.15" y1="510.88" x2="337.15" y2="529.14" stroke="#222" stroke-width="0.9"/>
<line x1="334.55" y1="510.88" x2="339.75" y2="510.88" stroke="#222" stroke-width="0.9"/>
<line x1="334.55" y1="529.14" x2="339.75" y2="529.14" stroke="#222" stroke-width="0.9"/>
<line x1="349.40" y1="517.45" x2="349.40" y2="524.76" stroke="#222" stroke-width="0.9"/>
<line x1="346.80" y1="517.45" x2="352.00" y2="517.45" stroke="#222" stroke-width="0.9"/>
<line x1="346.80" y1="524.76" x2="352.00" y2="524.76" stroke="#222" stroke-width="0.9"/>
<line x1="361.65" y1="514.04" x2="361.65" y2="527.44" stroke="#222" stroke-width="0.9"/>
<line x1="359.05" y1="514.04" x2="364.25" y2="514.04" stroke="#222" stroke-width="0.9"/>
<line x1="359.05" y1="527.44" x2="364.25" y2="527.44" stroke="#222" stroke-width="0.9"/>
<line x1="373.90" y1="504.67" x2="373.90" y2="520.50" stroke="#222" stroke-width="0.9"/>
<line x1="371.30" y1="504.67" x2="376.50" y2="504.67" stroke="#222" stroke-width="0.9"/>
<line x1="371.30" y1="520.50" x2="376.50" y2="520.50" stroke="#222" stroke-width="0.9"/>
<line x1="386.15" y1="511.61" x2="386.15" y2="533.52" stroke="#222" stroke-width="0.9"/>
<line x1="383.55" y1="511.61" x2="388.75" y2="511.61" stroke="#222" stroke-width="0.9"/>
<line x1="383.55" y1="533.52" x2="388.75" y2="533.52" stroke="#222" stroke-width="0.9"/>
<line x1="398.40" y1="501.02" x2="398.40" y2="531.45" stroke="#222" stroke-width="0.9"/>
<line x1="395.80" y1="501.02" x2="401.00" y2="501.02" stroke="#222" stroke-width="0.9"/>
<line x1="395.80" y1="531.45" x2="401.00" y2="531.45" stroke="#222" stroke-width="0.9"/>
<line x1="410.65" y1="515.99" x2="410.65" y2="530.60" stroke="#222" stroke-width="0.9"/>
<line x1="408.05" y1="515.99" x2="413.25" y2="515.99" stroke="#222" stroke-width="0.9"/>
<line x1="408.05" y1="530.60" x2="413.25" y2="530.60" stroke="#222" stroke-width="0.9"/>
<line x1="422.90" y1="512.58" x2="422.90" y2="529.63" stroke="#222" stroke-width="0.9"/>
<line x1="420.30" y1="512.58" x2="425.50" y2="512.58" stroke="#222" stroke-width="0.9"/>
<line x1="420.30" y1="529.63" x2="425.50" y2="529.63" stroke="#222" stroke-width="0.9"/>
<line x1="435.15" y1="518.55" x2="435.15" y2="533.16" stroke="#222" stroke-width="0.9"/>
<line x1="432.55" y1="518.55" x2="437.75" y2="518.55" stroke="#222" stroke-width="0.9"/>
<line x1="432.55" y1="533.16" x2="437.75" y2="533.16" stroke="#222" stroke-width="0.9"/>
<polyline points="288.15,543.02 300.40,523.66 312.65,517.33 324.90,515.14 337.15,520.01 349.40,521.10 361.65,520.74 373.90,512.58 386.15,522.57 398.40,516.23 410.65,523.30 422.90,521.10 435.15,525.85" fill="none" stroke="#111" stroke-width="1"/>
<circle cx="288.15" cy="543.02" r="3.1" fill="#8fb07a" stroke="#111" stroke-width="0.8"/>
<circle cx="300.40" cy="523.66" r="3.1" fill="#67d038" stroke="#111" stroke-width="0.8"/>
<circle cx="312.65" cy="517.33" r="3.1" fill="#67d038" stroke="#111" stroke-width="0.8"/>
<circle cx="324.90" cy="515.14" r="3.1" fill="#67d038" stroke="#111" stroke-width="0.8"/>
<circle cx="337.15" cy="520.01" r="3.1" fill="#67d038" stroke="#111" stroke-width="0.8"/>
<circle cx="349.40" cy="521.10" r="3.1" fill="#67d038" stroke="#111" stroke-width="0.8"/>
<circle cx="361.65" cy="520.74" r="3.1" fill="#67d038" stroke="#111" stroke-width="0.8"/>
<circle cx="373.90" cy="512.58" r="3.1" fill="#67d038" stroke="#111" stroke-width="0.8"/>
<circle cx="386.15" cy="522.57" r="3.1" fill="#67d038" stroke="#111" stroke-width="0.8"/>
<circle cx="398.40" cy="516.23" r="3.1" fill="#67d038" stroke="#111" stroke-width="0.8"/>
<circle cx="410.65" cy="523.30" r="3.1" fill="#67d038" stroke="#111" stroke-width="0.8"/>
<circle cx="422.90" cy="521.10" r="3.1" fill="#67d038" stroke="#111" stroke-width="0.8"/>
<circle cx="435.15" cy="525.85" r="3.1" fill="#67d038" stroke="#111" stroke-width="0.8"/>
<line x1="300.40" y1="539.49" x2="300.40" y2="543.14" stroke="#222" stroke-width="0.9"/>
<line x1="297.80" y1="539.49" x2="303.00" y2="539.49" stroke="#222" stroke-width="0.9"/>
<line x1="297.80" y1="543.14" x2="303.00" y2="543.14" stroke="#222" stroke-width="0.9"/>
<line x1="312.65" y1="542.90" x2="312.65" y2="545.82" stroke="#222" stroke-width="0.9"/>
<line x1="310.05" y1="542.90" x2="315.25" y2="542.90" stroke="#222" stroke-width="0.9"/>
<line x1="310.05" y1="545.82" x2="315.25" y2="545.82" stroke="#222" stroke-width="0.9"/>
<line x1="324.90" y1="539.73" x2="324.90" y2="543.38" stroke="#222" stroke-width="0.9"/>
<line x1="322.30" y1="539.73" x2="327.50" y2="539.73" stroke="#222" stroke-width="0.9"/>
<line x1="322.30" y1="543.38" x2="327.50" y2="543.38" stroke="#222" stroke-width="0.9"/>
<line x1="337.15" y1="539.73" x2="337.15" y2="543.38" stroke="#222" stroke-width="0.9"/>
<line x1="334.55" y1="539.73" x2="339.75" y2="539.73" stroke="#222" stroke-width="0.9"/>
<line x1="334.55" y1="543.38" x2="339.75" y2="543.38" stroke="#222" stroke-width="0.9"/>
<line x1="349.40" y1="538.27" x2="349.40" y2="541.92" stroke="#222" stroke-width="0.9"/>
<line x1="346.80" y1="538.27" x2="352.00" y2="538.27" stroke="#222" stroke-width="0.9"/>
<line x1="346.80" y1="541.92" x2="352.00" y2="541.92" stroke="#222" stroke-width="0.9"/>
<line x1="361.65" y1="539.37" x2="361.65" y2="543.75" stroke="#222" stroke-width="0.9"/>
<line x1="359.05" y1="539.37" x2="364.25" y2="539.37" stroke="#222" stroke-width="0.9"/>
<line x1="359.05" y1="543.75" x2="364.25" y2="543.75" stroke="#222" stroke-width="0.9"/>
<line x1="373.90" y1="541.32" x2="373.90" y2="548.62" stroke="#222" stroke-width="0.9"/>
<line x1="371.30" y1="541.32" x2="376.50" y2="541.32" stroke="#222" stroke-width="0.9"/>
<line x1="371.30" y1="548.62" x2="376.50" y2="548.62" stroke="#222" stroke-width="0.9"/>
<line x1="386.15" y1="538.51" x2="386.15" y2="548.25" stroke="#222" stroke-width="0.9"/>
<line x1="383.55" y1="538.51" x2="388.75" y2="538.51" stroke="#222" stroke-width="0.9"/>
<line x1="383.55" y1="548.25" x2="388.75" y2="548.25" stroke="#222" stroke-width="0.9"/>
<line x1="398.40" y1="542.78" x2="398.40" y2="547.65" stroke="#222" stroke-width="0.9"/>
<line x1="395.80" y1="542.78" x2="401.00" y2="542.78" stroke="#222" stroke-width="0.9"/>
<line x1="395.80" y1="547.65" x2="401.00" y2="547.65" stroke="#222" stroke-width="0.9"/>
<line x1="410.65" y1="541.92" x2="410.65" y2="548.01" stroke="#222" stroke-width="0.9"/>
<line x1="408.05" y1="541.92" x2="413.25" y2="541.92" stroke="#222" stroke-width="0.9"/>
<line x1="408.05" y1="548.01" x2="413.25" y2="548.01" stroke="#222" stroke-width="0.9"/>
<line x1="422.90" y1="542.78" x2="422.90" y2="547.65" stroke="#222" stroke-width="0.9"/>
<line x1="420.30" y1="542.78" x2="425.50" y2="542.78" stroke="#222" stroke-width="0.9"/>
<line x1="420.30" y1="547.65" x2="425.50" y2="547.65" stroke="#222" stroke-width="0.9"/>
<line x1="435.15" y1="541.92" x2="435.15" y2="548.01" stroke="#222" stroke-width="0.9"/>
<line x1="432.55" y1="541.92" x2="437.75" y2="541.92" stroke="#222" stroke-width="0.9"/>
<line x1="432.55" y1="548.01" x2="437.75" y2="548.01" stroke="#222" stroke-width="0.9"/>
<polyline points="288.15,543.75 300.40,541.32 312.65,544.36 324.90,541.56 337.15,541.56 349.40,540.10 361.65,541.56 373.90,544.97 386.15,543.38 398.40,545.21 410.65,544.97 422.90,545.21 435.15,544.97" fill="none" stroke="#111" stroke-width="1"/>
<circle cx="288.15" cy="543.75" r="3.1" fill="#8fb07a" stroke="#111" stroke-width="0.8"/>
<circle cx="300.40" cy="541.32" r="3.1" fill="#c9c9c9" stroke="#111" stroke-width="0.8"/>
<circle cx="312.65" cy="544.36" r="3.1" fill="#c9c9c9" stroke="#111" stroke-width="0.8"/>
<circle cx="324.90" cy="541.56" r="3.1" fill="#c9c9c9" stroke="#111" stroke-width="0.8"/>
<circle cx="337.15" cy="541.56" r="3.1" fill="#c9c9c9" stroke="#111" stroke-width="0.8"/>
<circle cx="349.40" cy="540.10" r="3.1" fill="#c9c9c9" stroke="#111" stroke-width="0.8"/>
<circle cx="361.65" cy="541.56" r="3.1" fill="#c9c9c9" stroke="#111" stroke-width="0.8"/>
<circle cx="373.90" cy="544.97" r="3.1" fill="#c9c9c9" stroke="#111" stroke-width="0.8"/>
<circle cx="386.15" cy="543.38" r="3.1" fill="#c9c9c9" stroke="#111" stroke-width="0.8"/>
<circle cx="398.40" cy="545.21" r="3.1" fill="#c9c9c9" stroke="#111" stroke-width="0.8"/>
<circle cx="410.65" cy="544.97" r="3.1" fill="#c9c9c9" stroke="#111" stroke-width="0.8"/>
<circle cx="422.90" cy="545.21" r="3.1" fill="#c9c9c9" stroke="#111" stroke-width="0.8"/>
<circle cx="435.15" cy="544.97" r="3.1" fill="#c9c9c9" stroke="#111" stroke-width="0.8"/>
<path d="M312.65 497.60 L312.65 504.80 M309.53 499.40 L315.77 503.00 M315.77 499.40 L309.53 503.00 " stroke="#000" stroke-width="1.15" fill="none"/>
<path d="M324.90 490.40 L324.90 497.60 M321.78 492.20 L328.02 495.80 M328.02 492.20 L321.78 495.80 " stroke="#000" stroke-width="1.15" fill="none"/>
<path d="M373.90 482.40 L373.90 489.60 M370.78 484.20 L377.02 487.80 M377.02 484.20 L370.78 487.80 " stroke="#000" stroke-width="1.15" fill="none"/>
<path d="M373.90 492.60 L373.90 499.80 M370.78 494.40 L377.02 498.00 M377.02 494.40 L370.78 498.00 " stroke="#000" stroke-width="1.15" fill="none"/>
<path d="M398.40 489.60 L398.40 496.80 M395.28 491.40 L401.52 495.00 M401.52 491.40 L395.28 495.00 " stroke="#000" stroke-width="1.15" fill="none"/>
<text x="224.20" y="611.60" font-size="15" font-weight="bold">h</text>
<text x="252.00" y="615.52" font-size="12.9">mPFC</text>
<text x="424.50" y="615.52" font-size="12.9" font-style="italic" fill="#f02222">jRGECO1a</text>
<line x1="241.00" y1="619.20" x2="671.00" y2="619.20" stroke="#000" stroke-width="1.3"/>
<line x1="279.50" y1="678.08" x2="441.70" y2="678.08" stroke="#999" stroke-width="0.7" stroke-dasharray="1 1.5"/>
<line x1="279.50" y1="653.00" x2="279.50" y2="751.90" stroke="#000" stroke-width="1.4"/>
<line x1="278.80" y1="751.20" x2="442.93" y2="751.20" stroke="#000" stroke-width="1.4"/>
<path d="M440.93 747.40 L448.53 750.90 L440.93 754.40Z" fill="#000"/>
<line x1="275.50" y1="653.70" x2="279.50" y2="653.70" stroke="#000" stroke-width="1.3"/>
<text x="274.00" y="658.21" font-size="12.6" text-anchor="end">200</text>
<line x1="275.50" y1="678.08" x2="279.50" y2="678.08" stroke="#000" stroke-width="1.3"/>
<text x="274.00" y="682.59" font-size="12.6" text-anchor="end">0</text>
<line x1="275.50" y1="702.45" x2="279.50" y2="702.45" stroke="#000" stroke-width="1.3"/>
<text x="274.00" y="706.96" font-size="12.6" text-anchor="end">-200</text>
<line x1="275.50" y1="726.83" x2="279.50" y2="726.83" stroke="#000" stroke-width="1.3"/>
<text x="274.00" y="731.34" font-size="12.6" text-anchor="end">-400</text>
<line x1="275.50" y1="751.20" x2="279.50" y2="751.20" stroke="#000" stroke-width="1.3"/>
<text x="274.00" y="755.71" font-size="12.6" text-anchor="end">-600</text>
<line x1="287.35" y1="751.20" x2="287.35" y2="755.00" stroke="#000" stroke-width="1.3"/>
<line x1="299.60" y1="751.20" x2="299.60" y2="755.00" stroke="#000" stroke-width="1.3"/>
<line x1="311.85" y1="751.20" x2="311.85" y2="755.00" stroke="#000" stroke-width="1.3"/>
<line x1="324.10" y1="751.20" x2="324.10" y2="755.00" stroke="#000" stroke-width="1.3"/>
<line x1="336.35" y1="751.20" x2="336.35" y2="755.00" stroke="#000" stroke-width="1.3"/>
<line x1="348.60" y1="751.20" x2="348.60" y2="755.00" stroke="#000" stroke-width="1.3"/>
<line x1="360.85" y1="751.20" x2="360.85" y2="755.00" stroke="#000" stroke-width="1.3"/>
<line x1="373.10" y1="751.20" x2="373.10" y2="755.00" stroke="#000" stroke-width="1.3"/>
<line x1="385.35" y1="751.20" x2="385.35" y2="755.00" stroke="#000" stroke-width="1.3"/>
<line x1="397.60" y1="751.20" x2="397.60" y2="755.00" stroke="#000" stroke-width="1.3"/>
<line x1="409.85" y1="751.20" x2="409.85" y2="755.00" stroke="#000" stroke-width="1.3"/>
<line x1="422.10" y1="751.20" x2="422.10" y2="755.00" stroke="#000" stroke-width="1.3"/>
<line x1="434.35" y1="751.20" x2="434.35" y2="755.00" stroke="#000" stroke-width="1.3"/>
<text x="299.00" y="766.81" font-size="12.6" text-anchor="middle">0</text>
<text x="323.50" y="766.81" font-size="12.6" text-anchor="middle">10</text>
<text x="348.00" y="766.81" font-size="12.6" text-anchor="middle">20</text>
<text x="372.50" y="766.81" font-size="12.6" text-anchor="middle">30</text>
<text x="397.00" y="766.81" font-size="12.6" text-anchor="middle">40</text>
<text x="421.50" y="766.81" font-size="12.6" text-anchor="middle">50</text>
<text x="342.40" y="781.52" font-size="12.9">Time (min)</text>
<text x="244.62" y="697.45" font-size="12.9" text-anchor="middle" transform="rotate(-90 244.62 697.45)">AUC</text>
<text x="280.20" y="642.02" font-size="12.9">Veh/CNO</text>
<line x1="298.80" y1="643.40" x2="298.80" y2="751.20" stroke="#000" stroke-width="1.1" stroke-dasharray="4.5 3"/>
<circle cx="382.40" cy="630.10" r="3.3" fill="#eead58" stroke="#111" stroke-width="0.8"/>
<text x="389.00" y="634.61" font-size="12.6">CaMKII-Veh</text>
<circle cx="382.40" cy="644.70" r="3.3" fill="#f05058" stroke="#111" stroke-width="0.8"/>
<text x="389.00" y="649.21" font-size="12.6">CaMKII-CNO</text>
<line x1="299.60" y1="693.68" x2="299.60" y2="708.30" stroke="#222" stroke-width="0.9"/>
<line x1="297.00" y1="693.68" x2="302.20" y2="693.68" stroke="#222" stroke-width="0.9"/>
<line x1="297.00" y1="708.30" x2="302.20" y2="708.30" stroke="#222" stroke-width="0.9"/>
<line x1="311.85" y1="677.95" x2="311.85" y2="693.80" stroke="#222" stroke-width="0.9"/>
<line x1="309.25" y1="677.95" x2="314.45" y2="677.95" stroke="#222" stroke-width="0.9"/>
<line x1="309.25" y1="693.80" x2="314.45" y2="693.80" stroke="#222" stroke-width="0.9"/>
<line x1="324.10" y1="693.55" x2="324.10" y2="703.30" stroke="#222" stroke-width="0.9"/>
<line x1="321.50" y1="693.55" x2="326.70" y2="693.55" stroke="#222" stroke-width="0.9"/>
<line x1="321.50" y1="703.30" x2="326.70" y2="703.30" stroke="#222" stroke-width="0.9"/>
<line x1="336.35" y1="694.89" x2="336.35" y2="703.43" stroke="#222" stroke-width="0.9"/>
<line x1="333.75" y1="694.89" x2="338.95" y2="694.89" stroke="#222" stroke-width="0.9"/>
<line x1="333.75" y1="703.43" x2="338.95" y2="703.43" stroke="#222" stroke-width="0.9"/>
<line x1="348.60" y1="689.65" x2="348.60" y2="705.50" stroke="#222" stroke-width="0.9"/>
<line x1="346.00" y1="689.65" x2="351.20" y2="689.65" stroke="#222" stroke-width="0.9"/>
<line x1="346.00" y1="705.50" x2="351.20" y2="705.50" stroke="#222" stroke-width="0.9"/>
<line x1="360.85" y1="688.31" x2="360.85" y2="707.81" stroke="#222" stroke-width="0.9"/>
<line x1="358.25" y1="688.31" x2="363.45" y2="688.31" stroke="#222" stroke-width="0.9"/>
<line x1="358.25" y1="707.81" x2="363.45" y2="707.81" stroke="#222" stroke-width="0.9"/>
<line x1="373.10" y1="700.50" x2="373.10" y2="710.25" stroke="#222" stroke-width="0.9"/>
<line x1="370.50" y1="700.50" x2="375.70" y2="700.50" stroke="#222" stroke-width="0.9"/>
<line x1="370.50" y1="710.25" x2="375.70" y2="710.25" stroke="#222" stroke-width="0.9"/>
<line x1="385.35" y1="696.23" x2="385.35" y2="710.86" stroke="#222" stroke-width="0.9"/>
<line x1="382.75" y1="696.23" x2="387.95" y2="696.23" stroke="#222" stroke-width="0.9"/>
<line x1="382.75" y1="710.86" x2="387.95" y2="710.86" stroke="#222" stroke-width="0.9"/>
<line x1="397.60" y1="697.33" x2="397.60" y2="708.30" stroke="#222" stroke-width="0.9"/>
<line x1="395.00" y1="697.33" x2="400.20" y2="697.33" stroke="#222" stroke-width="0.9"/>
<line x1="395.00" y1="708.30" x2="400.20" y2="708.30" stroke="#222" stroke-width="0.9"/>
<line x1="409.85" y1="694.16" x2="409.85" y2="710.01" stroke="#222" stroke-width="0.9"/>
<line x1="407.25" y1="694.16" x2="412.45" y2="694.16" stroke="#222" stroke-width="0.9"/>
<line x1="407.25" y1="710.01" x2="412.45" y2="710.01" stroke="#222" stroke-width="0.9"/>
<line x1="422.10" y1="705.38" x2="422.10" y2="722.44" stroke="#222" stroke-width="0.9"/>
<line x1="419.50" y1="705.38" x2="424.70" y2="705.38" stroke="#222" stroke-width="0.9"/>
<line x1="419.50" y1="722.44" x2="424.70" y2="722.44" stroke="#222" stroke-width="0.9"/>
<line x1="434.35" y1="695.38" x2="434.35" y2="716.10" stroke="#222" stroke-width="0.9"/>
<line x1="431.75" y1="695.38" x2="436.95" y2="695.38" stroke="#222" stroke-width="0.9"/>
<line x1="431.75" y1="716.10" x2="436.95" y2="716.10" stroke="#222" stroke-width="0.9"/>
<polyline points="287.35,678.44 299.60,700.99 311.85,685.88 324.10,698.43 336.35,699.16 348.60,697.58 360.85,698.06 373.10,705.38 385.35,703.55 397.60,702.82 409.85,702.08 422.10,713.91 434.35,705.74" fill="none" stroke="#111" stroke-width="1"/>
<circle cx="287.35" cy="678.44" r="3.1" fill="#f05058" stroke="#111" stroke-width="0.8"/>
<circle cx="299.60" cy="700.99" r="3.1" fill="#f05058" stroke="#111" stroke-width="0.8"/>
<circle cx="311.85" cy="685.88" r="3.1" fill="#f05058" stroke="#111" stroke-width="0.8"/>
<circle cx="324.10" cy="698.43" r="3.1" fill="#f05058" stroke="#111" stroke-width="0.8"/>
<circle cx="336.35" cy="699.16" r="3.1" fill="#f05058" stroke="#111" stroke-width="0.8"/>
<circle cx="348.60" cy="697.58" r="3.1" fill="#f05058" stroke="#111" stroke-width="0.8"/>
<circle cx="360.85" cy="698.06" r="3.1" fill="#f05058" stroke="#111" stroke-width="0.8"/>
<circle cx="373.10" cy="705.38" r="3.1" fill="#f05058" stroke="#111" stroke-width="0.8"/>
<circle cx="385.35" cy="703.55" r="3.1" fill="#f05058" stroke="#111" stroke-width="0.8"/>
<circle cx="397.60" cy="702.82" r="3.1" fill="#f05058" stroke="#111" stroke-width="0.8"/>
<circle cx="409.85" cy="702.08" r="3.1" fill="#f05058" stroke="#111" stroke-width="0.8"/>
<circle cx="422.10" cy="713.91" r="3.1" fill="#f05058" stroke="#111" stroke-width="0.8"/>
<circle cx="434.35" cy="705.74" r="3.1" fill="#f05058" stroke="#111" stroke-width="0.8"/>
<line x1="299.60" y1="676.86" x2="299.60" y2="679.29" stroke="#222" stroke-width="0.9"/>
<line x1="297.00" y1="676.86" x2="302.20" y2="676.86" stroke="#222" stroke-width="0.9"/>
<line x1="297.00" y1="679.29" x2="302.20" y2="679.29" stroke="#222" stroke-width="0.9"/>
<line x1="311.85" y1="677.59" x2="311.85" y2="680.03" stroke="#222" stroke-width="0.9"/>
<line x1="309.25" y1="677.59" x2="314.45" y2="677.59" stroke="#222" stroke-width="0.9"/>
<line x1="309.25" y1="680.03" x2="314.45" y2="680.03" stroke="#222" stroke-width="0.9"/>
<line x1="324.10" y1="676.49" x2="324.10" y2="678.93" stroke="#222" stroke-width="0.9"/>
<line x1="321.50" y1="676.49" x2="326.70" y2="676.49" stroke="#222" stroke-width="0.9"/>
<line x1="321.50" y1="678.93" x2="326.70" y2="678.93" stroke="#222" stroke-width="0.9"/>
<line x1="336.35" y1="673.69" x2="336.35" y2="677.34" stroke="#222" stroke-width="0.9"/>
<line x1="333.75" y1="673.69" x2="338.95" y2="673.69" stroke="#222" stroke-width="0.9"/>
<line x1="333.75" y1="677.34" x2="338.95" y2="677.34" stroke="#222" stroke-width="0.9"/>
<line x1="348.60" y1="676.86" x2="348.60" y2="679.29" stroke="#222" stroke-width="0.9"/>
<line x1="346.00" y1="676.86" x2="351.20" y2="676.86" stroke="#222" stroke-width="0.9"/>
<line x1="346.00" y1="679.29" x2="351.20" y2="679.29" stroke="#222" stroke-width="0.9"/>
<line x1="360.85" y1="676.12" x2="360.85" y2="678.56" stroke="#222" stroke-width="0.9"/>
<line x1="358.25" y1="676.12" x2="363.45" y2="676.12" stroke="#222" stroke-width="0.9"/>
<line x1="358.25" y1="678.56" x2="363.45" y2="678.56" stroke="#222" stroke-width="0.9"/>
<line x1="373.10" y1="676.86" x2="373.10" y2="679.29" stroke="#222" stroke-width="0.9"/>
<line x1="370.50" y1="676.86" x2="375.70" y2="676.86" stroke="#222" stroke-width="0.9"/>
<line x1="370.50" y1="679.29" x2="375.70" y2="679.29" stroke="#222" stroke-width="0.9"/>
<line x1="385.35" y1="676.49" x2="385.35" y2="678.93" stroke="#222" stroke-width="0.9"/>
<line x1="382.75" y1="676.49" x2="387.95" y2="676.49" stroke="#222" stroke-width="0.9"/>
<line x1="382.75" y1="678.93" x2="387.95" y2="678.93" stroke="#222" stroke-width="0.9"/>
<line x1="397.60" y1="676.12" x2="397.60" y2="678.56" stroke="#222" stroke-width="0.9"/>
<line x1="395.00" y1="676.12" x2="400.20" y2="676.12" stroke="#222" stroke-width="0.9"/>
<line x1="395.00" y1="678.56" x2="400.20" y2="678.56" stroke="#222" stroke-width="0.9"/>
<line x1="409.85" y1="673.69" x2="409.85" y2="678.08" stroke="#222" stroke-width="0.9"/>
<line x1="407.25" y1="673.69" x2="412.45" y2="673.69" stroke="#222" stroke-width="0.9"/>
<line x1="407.25" y1="678.08" x2="412.45" y2="678.08" stroke="#222" stroke-width="0.9"/>
<line x1="422.10" y1="677.34" x2="422.10" y2="681.00" stroke="#222" stroke-width="0.9"/>
<line x1="419.50" y1="677.34" x2="424.70" y2="677.34" stroke="#222" stroke-width="0.9"/>
<line x1="419.50" y1="681.00" x2="424.70" y2="681.00" stroke="#222" stroke-width="0.9"/>
<line x1="434.35" y1="680.63" x2="434.35" y2="684.29" stroke="#222" stroke-width="0.9"/>
<line x1="431.75" y1="680.63" x2="436.95" y2="680.63" stroke="#222" stroke-width="0.9"/>
<line x1="431.75" y1="684.29" x2="436.95" y2="684.29" stroke="#222" stroke-width="0.9"/>
<polyline points="287.35,678.44 299.60,678.08 311.85,678.81 324.10,677.71 336.35,675.52 348.60,678.08 360.85,677.34 373.10,678.08 385.35,677.71 397.60,677.34 409.85,675.88 422.10,679.17 434.35,682.46" fill="none" stroke="#111" stroke-width="1"/>
<circle cx="287.35" cy="678.44" r="3.1" fill="#eead58" stroke="#111" stroke-width="0.8"/>
<circle cx="299.60" cy="678.08" r="3.1" fill="#eead58" stroke="#111" stroke-width="0.8"/>
<circle cx="311.85" cy="678.81" r="3.1" fill="#eead58" stroke="#111" stroke-width="0.8"/>
<circle cx="324.10" cy="677.71" r="3.1" fill="#eead58" stroke="#111" stroke-width="0.8"/>
<circle cx="336.35" cy="675.52" r="3.1" fill="#eead58" stroke="#111" stroke-width="0.8"/>
<circle cx="348.60" cy="678.08" r="3.1" fill="#eead58" stroke="#111" stroke-width="0.8"/>
<circle cx="360.85" cy="677.34" r="3.1" fill="#eead58" stroke="#111" stroke-width="0.8"/>
<circle cx="373.10" cy="678.08" r="3.1" fill="#eead58" stroke="#111" stroke-width="0.8"/>
<circle cx="385.35" cy="677.71" r="3.1" fill="#eead58" stroke="#111" stroke-width="0.8"/>
<circle cx="397.60" cy="677.34" r="3.1" fill="#eead58" stroke="#111" stroke-width="0.8"/>
<circle cx="409.85" cy="675.88" r="3.1" fill="#eead58" stroke="#111" stroke-width="0.8"/>
<circle cx="422.10" cy="679.17" r="3.1" fill="#eead58" stroke="#111" stroke-width="0.8"/>
<circle cx="434.35" cy="682.46" r="3.1" fill="#eead58" stroke="#111" stroke-width="0.8"/>
<path d="M302.79 664.40 L302.79 671.60 M299.67 666.20 L305.90 669.80 M305.90 666.20 L299.67 669.80 " stroke="#000" stroke-width="1.15" fill="none"/>
<path d="M336.84 660.50 L336.84 667.70 M333.72 662.30 L339.96 665.90 M339.96 662.30 L333.72 665.90 " stroke="#000" stroke-width="1.15" fill="none"/>
<path d="M373.10 653.20 L373.10 660.40 M369.98 655.00 L376.22 658.60 M376.22 655.00 L369.98 658.60 " stroke="#000" stroke-width="1.15" fill="none"/>
<path d="M373.10 664.90 L373.10 672.10 M369.98 666.70 L376.22 670.30 M376.22 666.70 L369.98 670.30 " stroke="#000" stroke-width="1.15" fill="none"/>
<path d="M385.35 664.10 L385.35 671.30 M382.23 665.90 L388.47 669.50 M388.47 665.90 L382.23 669.50 " stroke="#000" stroke-width="1.15" fill="none"/>
<path d="M397.60 664.10 L397.60 671.30 M394.48 665.90 L400.72 669.50 M400.72 665.90 L394.48 669.50 " stroke="#000" stroke-width="1.15" fill="none"/>
<path d="M409.85 651.00 L409.85 658.20 M406.73 652.80 L412.97 656.40 M412.97 652.80 L406.73 656.40 " stroke="#000" stroke-width="1.15" fill="none"/>
<path d="M409.85 661.90 L409.85 669.10 M406.73 663.70 L412.97 667.30 M412.97 663.70 L406.73 667.30 " stroke="#000" stroke-width="1.15" fill="none"/>
<path d="M422.10 654.60 L422.10 661.80 M418.98 656.40 L425.22 660.00 M425.22 656.40 L418.98 660.00 " stroke="#000" stroke-width="1.15" fill="none"/>
<path d="M422.10 666.00 L422.10 673.20 M418.98 667.80 L425.22 671.40 M425.22 667.80 L418.98 671.40 " stroke="#000" stroke-width="1.15" fill="none"/>
<path d="M434.35 668.40 L434.35 675.60 M431.23 670.20 L437.47 673.80 M437.47 670.20 L431.23 673.80 " stroke="#000" stroke-width="1.15" fill="none"/>
<defs><linearGradient id="pg" x1="0" y1="1" x2="0" y2="0"><stop offset="0.0" stop-color="#3e26b2"/><stop offset="0.03" stop-color="#422acd"/><stop offset="0.07" stop-color="#4638ea"/><stop offset="0.12" stop-color="#484cf8"/><stop offset="0.18" stop-color="#4b6afc"/><stop offset="0.25" stop-color="#4a8af5"/><stop offset="0.33" stop-color="#40a0e8"/><stop offset="0.42" stop-color="#3cb4d2"/><stop offset="0.5" stop-color="#40c3af"/><stop offset="0.58" stop-color="#5acd7d"/><stop offset="0.66" stop-color="#8cc855"/><stop offset="0.74" stop-color="#bebe41"/><stop offset="0.82" stop-color="#e8b23e"/><stop offset="0.9" stop-color="#f0cd32"/><stop offset="1.0" stop-color="#f2f837"/></linearGradient></defs>
<rect x="493.30" y="63.10" width="157.80" height="110.40" fill="#4a8af5"/>
<rect x="493.30" y="63.10" width="0.95" height="54.80" fill="#4a8af5"/>
<rect x="494.00" y="63.10" width="1.25" height="54.80" fill="#498cf4"/>
<rect x="495.00" y="63.10" width="1.25" height="54.80" fill="#4a87f6"/>
<rect x="496.00" y="63.10" width="1.25" height="54.80" fill="#498cf4"/>
<rect x="497.00" y="63.10" width="1.25" height="54.80" fill="#4a89f5"/>
<rect x="498.00" y="63.10" width="1.25" height="54.80" fill="#4a89f5"/>
<rect x="499.00" y="63.10" width="1.25" height="54.80" fill="#498df3"/>
<rect x="500.00" y="63.10" width="1.25" height="54.80" fill="#4a8af5"/>
<rect x="501.00" y="63.10" width="1.25" height="54.80" fill="#4a8af5"/>
<rect x="502.00" y="63.10" width="1.25" height="54.80" fill="#498bf4"/>
<rect x="503.00" y="63.10" width="0.35" height="54.80" fill="#498cf4"/>
<rect x="503.10" y="63.10" width="1.25" height="54.80" fill="#40a0e8"/>
<rect x="504.10" y="63.10" width="1.25" height="54.80" fill="#4a88f5"/>
<rect x="505.10" y="63.10" width="1.25" height="54.80" fill="#4a88f6"/>
<rect x="506.10" y="63.10" width="1.25" height="54.80" fill="#4693f0"/>
<rect x="507.10" y="63.10" width="1.25" height="54.80" fill="#4a89f5"/>
<rect x="508.10" y="63.10" width="1.25" height="54.80" fill="#4a8af5"/>
<rect x="509.10" y="63.10" width="1.25" height="54.80" fill="#4a83f7"/>
<rect x="510.10" y="63.10" width="1.25" height="54.80" fill="#498cf4"/>
<rect x="511.10" y="63.10" width="1.25" height="54.80" fill="#4a85f6"/>
<rect x="512.10" y="63.10" width="1.25" height="54.80" fill="#429cea"/>
<rect x="513.10" y="63.10" width="1.25" height="54.80" fill="#4a7ef8"/>
<rect x="514.10" y="63.10" width="1.25" height="54.80" fill="#488ef3"/>
<rect x="515.10" y="63.10" width="1.25" height="54.80" fill="#3fa5e2"/>
<rect x="516.10" y="63.10" width="1.25" height="54.80" fill="#498cf4"/>
<rect x="517.10" y="63.10" width="1.25" height="54.80" fill="#68cc72"/>
<rect x="518.10" y="63.10" width="1.25" height="54.80" fill="#4a87f6"/>
<rect x="519.10" y="63.10" width="1.25" height="54.80" fill="#4a87f6"/>
<rect x="520.10" y="63.10" width="1.25" height="54.80" fill="#4a86f6"/>
<rect x="521.10" y="63.10" width="1.25" height="54.80" fill="#488ef3"/>
<rect x="522.10" y="63.10" width="1.25" height="54.80" fill="#4498ed"/>
<rect x="523.10" y="63.10" width="1.25" height="54.80" fill="#488ff2"/>
<rect x="524.10" y="63.10" width="1.25" height="54.80" fill="#47c6a1"/>
<rect x="525.10" y="63.10" width="1.25" height="54.80" fill="#429ceb"/>
<rect x="526.10" y="63.10" width="1.25" height="54.80" fill="#8ac856"/>
<rect x="527.10" y="63.10" width="1.25" height="54.80" fill="#4a86f6"/>
<rect x="528.10" y="63.10" width="1.25" height="54.80" fill="#498cf4"/>
<rect x="529.10" y="63.10" width="1.25" height="54.80" fill="#4a84f6"/>
<rect x="530.10" y="63.10" width="1.25" height="54.80" fill="#4790f1"/>
<rect x="531.10" y="63.10" width="1.25" height="54.80" fill="#4a7df8"/>
<rect x="532.10" y="63.10" width="1.25" height="54.80" fill="#429cea"/>
<rect x="533.10" y="63.10" width="1.25" height="54.80" fill="#4a8bf4"/>
<rect x="534.10" y="63.10" width="1.25" height="54.80" fill="#4a8bf5"/>
<rect x="535.10" y="63.10" width="1.25" height="54.80" fill="#4a89f5"/>
<rect x="536.10" y="63.10" width="1.25" height="54.80" fill="#4a89f5"/>
<rect x="537.10" y="63.10" width="1.25" height="54.80" fill="#4399ec"/>
<rect x="538.10" y="63.10" width="1.25" height="54.80" fill="#4b6efb"/>
<rect x="539.10" y="63.10" width="1.25" height="54.80" fill="#4a89f5"/>
<rect x="540.10" y="63.10" width="1.25" height="54.80" fill="#4a89f5"/>
<rect x="541.10" y="63.10" width="1.25" height="54.80" fill="#4a89f5"/>
<rect x="542.10" y="63.10" width="1.25" height="54.80" fill="#4a88f6"/>
<rect x="543.10" y="63.10" width="1.25" height="54.80" fill="#4a88f5"/>
<rect x="544.10" y="63.10" width="1.25" height="54.80" fill="#4498ed"/>
<rect x="545.10" y="63.10" width="1.25" height="54.80" fill="#3dafd7"/>
<rect x="546.10" y="63.10" width="1.25" height="54.80" fill="#4a84f6"/>
<rect x="547.10" y="63.10" width="1.25" height="54.80" fill="#4a8bf4"/>
<rect x="548.10" y="63.10" width="1.25" height="54.80" fill="#4a83f7"/>
<rect x="549.10" y="63.10" width="1.25" height="54.80" fill="#40c3af"/>
<rect x="550.10" y="63.10" width="1.25" height="54.80" fill="#4a82f7"/>
<rect x="551.10" y="63.10" width="1.25" height="54.80" fill="#498cf4"/>
<rect x="552.10" y="63.10" width="1.25" height="54.80" fill="#488ef3"/>
<rect x="553.10" y="63.10" width="1.25" height="54.80" fill="#4a89f5"/>
<rect x="554.10" y="63.10" width="1.25" height="54.80" fill="#4a84f6"/>
<rect x="555.10" y="63.10" width="1.25" height="54.80" fill="#498cf4"/>
<rect x="556.10" y="63.10" width="1.25" height="54.80" fill="#4a89f5"/>
<rect x="557.10" y="63.10" width="1.25" height="54.80" fill="#4a89f5"/>
<rect x="558.10" y="63.10" width="1.25" height="54.80" fill="#4a88f5"/>
<rect x="559.10" y="63.10" width="1.25" height="54.80" fill="#4a85f6"/>
<rect x="560.10" y="63.10" width="1.25" height="54.80" fill="#498bf4"/>
<rect x="561.10" y="63.10" width="1.25" height="54.80" fill="#4a8af5"/>
<rect x="562.10" y="63.10" width="1.25" height="54.80" fill="#50c990"/>
<rect x="563.10" y="63.10" width="1.25" height="54.80" fill="#488ef3"/>
<rect x="564.10" y="63.10" width="1.25" height="54.80" fill="#4a87f6"/>
<rect x="565.10" y="63.10" width="1.25" height="54.80" fill="#498cf4"/>
<rect x="566.10" y="63.10" width="1.25" height="54.80" fill="#4a88f5"/>
<rect x="567.10" y="63.10" width="1.25" height="54.80" fill="#498df3"/>
<rect x="568.10" y="63.10" width="1.25" height="54.80" fill="#4a82f7"/>
<rect x="569.10" y="63.10" width="1.25" height="54.80" fill="#4a86f6"/>
<rect x="570.10" y="63.10" width="1.25" height="54.80" fill="#4a8bf5"/>
<rect x="571.10" y="63.10" width="1.25" height="54.80" fill="#4a86f6"/>
<rect x="572.10" y="63.10" width="1.25" height="54.80" fill="#4a89f5"/>
<rect x="573.10" y="63.10" width="1.25" height="54.80" fill="#4a88f6"/>
<rect x="574.10" y="63.10" width="1.25" height="54.80" fill="#498cf4"/>
<rect x="575.10" y="63.10" width="1.25" height="54.80" fill="#4398ed"/>
<rect x="576.10" y="63.10" width="1.25" height="54.80" fill="#4a86f6"/>
<rect x="577.10" y="63.10" width="1.25" height="54.80" fill="#3ea8df"/>
<rect x="578.10" y="63.10" width="1.25" height="54.80" fill="#4a8af5"/>
<rect x="579.10" y="63.10" width="1.25" height="54.80" fill="#498cf4"/>
<rect x="580.10" y="63.10" width="1.25" height="54.80" fill="#498cf4"/>
<rect x="581.10" y="63.10" width="1.25" height="54.80" fill="#4a80f7"/>
<rect x="582.10" y="63.10" width="1.25" height="54.80" fill="#498cf4"/>
<rect x="583.10" y="63.10" width="1.25" height="54.80" fill="#4595ef"/>
<rect x="584.10" y="63.10" width="1.25" height="54.80" fill="#498cf4"/>
<rect x="585.10" y="63.10" width="1.25" height="54.80" fill="#498cf4"/>
<rect x="586.10" y="63.10" width="1.25" height="54.80" fill="#4a87f6"/>
<rect x="587.10" y="63.10" width="1.25" height="54.80" fill="#498df3"/>
<rect x="588.10" y="63.10" width="1.25" height="54.80" fill="#498cf4"/>
<rect x="589.10" y="63.10" width="1.25" height="54.80" fill="#4a88f5"/>
<rect x="590.10" y="63.10" width="1.25" height="54.80" fill="#cbba40"/>
<rect x="591.10" y="63.10" width="1.25" height="54.80" fill="#4a7ff7"/>
<rect x="592.10" y="63.10" width="1.25" height="54.80" fill="#6fcb6c"/>
<rect x="593.10" y="63.10" width="1.25" height="54.80" fill="#4a88f5"/>
<rect x="594.10" y="63.10" width="1.25" height="54.80" fill="#429beb"/>
<rect x="595.10" y="63.10" width="1.25" height="54.80" fill="#4a84f6"/>
<rect x="596.10" y="63.10" width="1.25" height="54.80" fill="#4a8af5"/>
<rect x="597.10" y="63.10" width="1.25" height="54.80" fill="#498bf4"/>
<rect x="598.10" y="63.10" width="1.25" height="54.80" fill="#4a8af5"/>
<rect x="599.10" y="63.10" width="1.25" height="54.80" fill="#419ee9"/>
<rect x="600.10" y="63.10" width="1.25" height="54.80" fill="#4790f1"/>
<rect x="601.10" y="63.10" width="1.25" height="54.80" fill="#4498ed"/>
<rect x="602.10" y="63.10" width="1.25" height="54.80" fill="#488ff2"/>
<rect x="603.10" y="63.10" width="1.25" height="54.80" fill="#4a8af5"/>
<rect x="604.10" y="63.10" width="1.25" height="54.80" fill="#4a87f6"/>
<rect x="605.10" y="63.10" width="1.25" height="54.80" fill="#4a84f6"/>
<rect x="606.10" y="63.10" width="1.25" height="54.80" fill="#3fbfb8"/>
<rect x="607.10" y="63.10" width="1.25" height="54.80" fill="#4a87f6"/>
<rect x="608.10" y="63.10" width="1.25" height="54.80" fill="#4692f0"/>
<rect x="609.10" y="63.10" width="1.25" height="54.80" fill="#4a8bf5"/>
<rect x="610.10" y="63.10" width="1.25" height="54.80" fill="#4a80f7"/>
<rect x="611.10" y="63.10" width="1.25" height="54.80" fill="#4a88f5"/>
<rect x="612.10" y="63.10" width="1.25" height="54.80" fill="#488ff2"/>
<rect x="613.10" y="63.10" width="1.25" height="54.80" fill="#4399ec"/>
<rect x="614.10" y="63.10" width="1.25" height="54.80" fill="#4a82f7"/>
<rect x="615.10" y="63.10" width="1.25" height="54.80" fill="#4a82f7"/>
<rect x="616.10" y="63.10" width="1.25" height="54.80" fill="#4a89f5"/>
<rect x="617.10" y="63.10" width="1.25" height="54.80" fill="#488ef3"/>
<rect x="618.10" y="63.10" width="1.25" height="54.80" fill="#4a8af5"/>
<rect x="619.10" y="63.10" width="1.25" height="54.80" fill="#4a8af5"/>
<rect x="620.10" y="63.10" width="1.25" height="54.80" fill="#4a8bf4"/>
<rect x="621.10" y="63.10" width="1.25" height="54.80" fill="#59cd7f"/>
<rect x="622.10" y="63.10" width="1.25" height="54.80" fill="#3fa7e1"/>
<rect x="623.10" y="63.10" width="1.25" height="54.80" fill="#498cf4"/>
<rect x="624.10" y="63.10" width="1.25" height="54.80" fill="#4a85f6"/>
<rect x="625.10" y="63.10" width="1.25" height="54.80" fill="#488ef3"/>
<rect x="626.10" y="63.10" width="1.25" height="54.80" fill="#4a8bf4"/>
<rect x="627.10" y="63.10" width="1.25" height="54.80" fill="#498df3"/>
<rect x="628.10" y="63.10" width="1.25" height="54.80" fill="#4a89f5"/>
<rect x="629.10" y="63.10" width="1.25" height="54.80" fill="#4a85f6"/>
<rect x="630.10" y="63.10" width="1.25" height="54.80" fill="#4a85f6"/>
<rect x="631.10" y="63.10" width="1.25" height="54.80" fill="#498df3"/>
<rect x="632.10" y="63.10" width="1.25" height="54.80" fill="#498bf4"/>
<rect x="633.10" y="63.10" width="1.25" height="54.80" fill="#4a83f7"/>
<rect x="634.10" y="63.10" width="1.25" height="54.80" fill="#4a81f7"/>
<rect x="635.10" y="63.10" width="1.25" height="54.80" fill="#4a8af5"/>
<rect x="636.10" y="63.10" width="1.25" height="54.80" fill="#4a86f6"/>
<rect x="637.10" y="63.10" width="1.25" height="54.80" fill="#4a8bf5"/>
<rect x="638.10" y="63.10" width="1.25" height="54.80" fill="#498df3"/>
<rect x="639.10" y="63.10" width="1.25" height="54.80" fill="#498cf4"/>
<rect x="640.10" y="63.10" width="1.25" height="54.80" fill="#3fa6e1"/>
<rect x="641.10" y="63.10" width="1.25" height="54.80" fill="#419dea"/>
<rect x="642.10" y="63.10" width="1.25" height="54.80" fill="#4a8af5"/>
<rect x="643.10" y="63.10" width="1.25" height="54.80" fill="#488ef3"/>
<rect x="644.10" y="63.10" width="1.25" height="54.80" fill="#4497ed"/>
<rect x="645.10" y="63.10" width="1.25" height="54.80" fill="#4a80f7"/>
<rect x="646.10" y="63.10" width="1.25" height="54.80" fill="#4a89f5"/>
<rect x="647.10" y="63.10" width="1.25" height="54.80" fill="#4a83f7"/>
<rect x="648.10" y="63.10" width="1.25" height="54.80" fill="#498cf4"/>
<rect x="649.10" y="63.10" width="1.25" height="54.80" fill="#4a8af5"/>
<rect x="650.10" y="63.10" width="1.25" height="54.80" fill="#498bf4"/>
<rect x="493.30" y="117.90" width="0.95" height="55.60" fill="#484cf8"/>
<rect x="494.00" y="117.90" width="1.25" height="55.60" fill="#484cf8"/>
<rect x="495.00" y="117.90" width="1.25" height="55.60" fill="#4a84f6"/>
<rect x="496.00" y="117.90" width="1.25" height="55.60" fill="#4a85f6"/>
<rect x="497.00" y="117.90" width="1.25" height="55.60" fill="#4a82f7"/>
<rect x="498.00" y="117.90" width="1.25" height="55.60" fill="#4a8af5"/>
<rect x="499.00" y="117.90" width="1.25" height="55.60" fill="#4a84f6"/>
<rect x="500.00" y="117.90" width="1.25" height="55.60" fill="#4a88f5"/>
<rect x="501.00" y="117.90" width="1.25" height="55.60" fill="#4a88f5"/>
<rect x="502.00" y="117.90" width="1.25" height="55.60" fill="#4a80f7"/>
<rect x="503.00" y="117.90" width="0.35" height="55.60" fill="#4a7df8"/>
<rect x="503.10" y="117.90" width="1.25" height="55.60" fill="#3fc0b6"/>
<rect x="504.10" y="117.90" width="1.25" height="55.60" fill="#3ebdbd"/>
<rect x="505.10" y="117.90" width="1.25" height="55.60" fill="#66cc73"/>
<rect x="506.10" y="117.90" width="1.25" height="55.60" fill="#3ebbc1"/>
<rect x="507.10" y="117.90" width="1.25" height="55.60" fill="#f1df34"/>
<rect x="508.10" y="117.90" width="1.25" height="55.60" fill="#44c4a8"/>
<rect x="509.10" y="117.90" width="1.25" height="55.60" fill="#53ca8a"/>
<rect x="510.10" y="117.90" width="1.25" height="55.60" fill="#82c95d"/>
<rect x="511.10" y="117.90" width="1.25" height="55.60" fill="#4ac79c"/>
<rect x="512.10" y="117.90" width="1.25" height="55.60" fill="#60cc78"/>
<rect x="513.10" y="117.90" width="1.25" height="55.60" fill="#f0d233"/>
<rect x="514.10" y="117.90" width="1.25" height="55.60" fill="#3cb5cf"/>
<rect x="515.10" y="117.90" width="1.25" height="55.60" fill="#9ac54f"/>
<rect x="516.10" y="117.90" width="1.25" height="55.60" fill="#49c69e"/>
<rect x="517.10" y="117.90" width="1.25" height="55.60" fill="#f1e535"/>
<rect x="518.10" y="117.90" width="1.25" height="55.60" fill="#45c5a5"/>
<rect x="519.10" y="117.90" width="1.25" height="55.60" fill="#4fc992"/>
<rect x="520.10" y="117.90" width="1.25" height="55.60" fill="#e8b43d"/>
<rect x="521.10" y="117.90" width="1.25" height="55.60" fill="#f0d032"/>
<rect x="522.10" y="117.90" width="1.25" height="55.60" fill="#59cd7f"/>
<rect x="523.10" y="117.90" width="1.25" height="55.60" fill="#77ca66"/>
<rect x="524.10" y="117.90" width="1.25" height="55.60" fill="#f2f036"/>
<rect x="525.10" y="117.90" width="1.25" height="55.60" fill="#62cc77"/>
<rect x="526.10" y="117.90" width="1.25" height="55.60" fill="#f1e234"/>
<rect x="527.10" y="117.90" width="1.25" height="55.60" fill="#3db0d7"/>
<rect x="528.10" y="117.90" width="1.25" height="55.60" fill="#6ecb6d"/>
<rect x="529.10" y="117.90" width="1.25" height="55.60" fill="#b4c045"/>
<rect x="530.10" y="117.90" width="1.25" height="55.60" fill="#f1e134"/>
<rect x="531.10" y="117.90" width="1.25" height="55.60" fill="#d4b83f"/>
<rect x="532.10" y="117.90" width="1.25" height="55.60" fill="#3fbdbc"/>
<rect x="533.10" y="117.90" width="1.25" height="55.60" fill="#3fbfb9"/>
<rect x="534.10" y="117.90" width="1.25" height="55.60" fill="#ecbe38"/>
<rect x="535.10" y="117.90" width="1.25" height="55.60" fill="#64cc75"/>
<rect x="536.10" y="117.90" width="1.25" height="55.60" fill="#3dadda"/>
<rect x="537.10" y="117.90" width="1.25" height="55.60" fill="#47c6a2"/>
<rect x="538.10" y="117.90" width="1.25" height="55.60" fill="#3ebcbf"/>
<rect x="539.10" y="117.90" width="1.25" height="55.60" fill="#40c2b1"/>
<rect x="540.10" y="117.90" width="1.25" height="55.60" fill="#97c651"/>
<rect x="541.10" y="117.90" width="1.25" height="55.60" fill="#5ecd7a"/>
<rect x="542.10" y="117.90" width="1.25" height="55.60" fill="#f2f837"/>
<rect x="543.10" y="117.90" width="1.25" height="55.60" fill="#88c858"/>
<rect x="544.10" y="117.90" width="1.25" height="55.60" fill="#f0d733"/>
<rect x="545.10" y="117.90" width="1.25" height="55.60" fill="#3cb6ce"/>
<rect x="546.10" y="117.90" width="1.25" height="55.60" fill="#40a1e7"/>
<rect x="547.10" y="117.90" width="1.25" height="55.60" fill="#3ebbc2"/>
<rect x="548.10" y="117.90" width="1.25" height="55.60" fill="#62cc76"/>
<rect x="549.10" y="117.90" width="1.25" height="55.60" fill="#3ebac4"/>
<rect x="550.10" y="117.90" width="1.25" height="55.60" fill="#3ebdbd"/>
<rect x="551.10" y="117.90" width="1.25" height="55.60" fill="#f0d433"/>
<rect x="552.10" y="117.90" width="1.25" height="55.60" fill="#58cc80"/>
<rect x="553.10" y="117.90" width="1.25" height="55.60" fill="#3fa6e1"/>
<rect x="554.10" y="117.90" width="1.25" height="55.60" fill="#52ca8c"/>
<rect x="555.10" y="117.90" width="1.25" height="55.60" fill="#57cc82"/>
<rect x="556.10" y="117.90" width="1.25" height="55.60" fill="#44c5a7"/>
<rect x="557.10" y="117.90" width="1.25" height="55.60" fill="#63cc76"/>
<rect x="558.10" y="117.90" width="1.25" height="55.60" fill="#8bc856"/>
<rect x="559.10" y="117.90" width="1.25" height="55.60" fill="#6bcb70"/>
<rect x="560.10" y="117.90" width="1.25" height="55.60" fill="#3ebac3"/>
<rect x="561.10" y="117.90" width="1.25" height="55.60" fill="#eec735"/>
<rect x="562.10" y="117.90" width="1.25" height="55.60" fill="#59cd7f"/>
<rect x="563.10" y="117.90" width="1.25" height="55.60" fill="#45c5a6"/>
<rect x="564.10" y="117.90" width="1.25" height="55.60" fill="#3cb4d2"/>
<rect x="565.10" y="117.90" width="1.25" height="55.60" fill="#3db8c8"/>
<rect x="566.10" y="117.90" width="1.25" height="55.60" fill="#43c4aa"/>
<rect x="567.10" y="117.90" width="1.25" height="55.60" fill="#3db7cb"/>
<rect x="568.10" y="117.90" width="1.25" height="55.60" fill="#3fc1b4"/>
<rect x="569.10" y="117.90" width="1.25" height="55.60" fill="#80c95e"/>
<rect x="570.10" y="117.90" width="1.25" height="55.60" fill="#3fbfb7"/>
<rect x="571.10" y="117.90" width="1.25" height="55.60" fill="#3dadda"/>
<rect x="572.10" y="117.90" width="1.25" height="55.60" fill="#3fbfb9"/>
<rect x="573.10" y="117.90" width="1.25" height="55.60" fill="#3cb3d3"/>
<rect x="574.10" y="117.90" width="1.25" height="55.60" fill="#3fa7e0"/>
<rect x="575.10" y="117.90" width="1.25" height="55.60" fill="#3cb5d0"/>
<rect x="576.10" y="117.90" width="1.25" height="55.60" fill="#3db0d6"/>
<rect x="577.10" y="117.90" width="1.25" height="55.60" fill="#3eaadd"/>
<rect x="578.10" y="117.90" width="1.25" height="55.60" fill="#b0c147"/>
<rect x="579.10" y="117.90" width="1.25" height="55.60" fill="#74ca68"/>
<rect x="580.10" y="117.90" width="1.25" height="55.60" fill="#3db6cc"/>
<rect x="581.10" y="117.90" width="1.25" height="55.60" fill="#3dadda"/>
<rect x="582.10" y="117.90" width="1.25" height="55.60" fill="#3eacdb"/>
<rect x="583.10" y="117.90" width="1.25" height="55.60" fill="#86c959"/>
<rect x="584.10" y="117.90" width="1.25" height="55.60" fill="#efc934"/>
<rect x="585.10" y="117.90" width="1.25" height="55.60" fill="#85c95b"/>
<rect x="586.10" y="117.90" width="1.25" height="55.60" fill="#3ebdbc"/>
<rect x="587.10" y="117.90" width="1.25" height="55.60" fill="#40c1b3"/>
<rect x="588.10" y="117.90" width="1.25" height="55.60" fill="#43c4a9"/>
<rect x="589.10" y="117.90" width="1.25" height="55.60" fill="#3dadd9"/>
<rect x="590.10" y="117.90" width="1.25" height="55.60" fill="#3fa5e3"/>
<rect x="591.10" y="117.90" width="1.25" height="55.60" fill="#3cb2d4"/>
<rect x="592.10" y="117.90" width="1.25" height="55.60" fill="#eec635"/>
<rect x="593.10" y="117.90" width="1.25" height="55.60" fill="#50c990"/>
<rect x="594.10" y="117.90" width="1.25" height="55.60" fill="#4ec993"/>
<rect x="595.10" y="117.90" width="1.25" height="55.60" fill="#42c4ab"/>
<rect x="596.10" y="117.90" width="1.25" height="55.60" fill="#3fbebb"/>
<rect x="597.10" y="117.90" width="1.25" height="55.60" fill="#3fbeba"/>
<rect x="598.10" y="117.90" width="1.25" height="55.60" fill="#46c5a4"/>
<rect x="599.10" y="117.90" width="1.25" height="55.60" fill="#3cb4d2"/>
<rect x="600.10" y="117.90" width="1.25" height="55.60" fill="#41c3ad"/>
<rect x="601.10" y="117.90" width="1.25" height="55.60" fill="#50c98f"/>
<rect x="602.10" y="117.90" width="1.25" height="55.60" fill="#9ec44e"/>
<rect x="603.10" y="117.90" width="1.25" height="55.60" fill="#3fbdbc"/>
<rect x="604.10" y="117.90" width="1.25" height="55.60" fill="#42c4ac"/>
<rect x="605.10" y="117.90" width="1.25" height="55.60" fill="#40c2b1"/>
<rect x="606.10" y="117.90" width="1.25" height="55.60" fill="#51ca8e"/>
<rect x="607.10" y="117.90" width="1.25" height="55.60" fill="#67cc73"/>
<rect x="608.10" y="117.90" width="1.25" height="55.60" fill="#46c5a3"/>
<rect x="609.10" y="117.90" width="1.25" height="55.60" fill="#3db9c7"/>
<rect x="610.10" y="117.90" width="1.25" height="55.60" fill="#3eabdc"/>
<rect x="611.10" y="117.90" width="1.25" height="55.60" fill="#42c4ab"/>
<rect x="612.10" y="117.90" width="1.25" height="55.60" fill="#3cb4d1"/>
<rect x="613.10" y="117.90" width="1.25" height="55.60" fill="#91c753"/>
<rect x="614.10" y="117.90" width="1.25" height="55.60" fill="#c4bc41"/>
<rect x="615.10" y="117.90" width="1.25" height="55.60" fill="#58cc82"/>
<rect x="616.10" y="117.90" width="1.25" height="55.60" fill="#97c651"/>
<rect x="617.10" y="117.90" width="1.25" height="55.60" fill="#3db9c6"/>
<rect x="618.10" y="117.90" width="1.25" height="55.60" fill="#3db8c8"/>
<rect x="619.10" y="117.90" width="1.25" height="55.60" fill="#63cc76"/>
<rect x="620.10" y="117.90" width="1.25" height="55.60" fill="#3dafd7"/>
<rect x="621.10" y="117.90" width="1.25" height="55.60" fill="#54cb88"/>
<rect x="622.10" y="117.90" width="1.25" height="55.60" fill="#3cb6ce"/>
<rect x="623.10" y="117.90" width="1.25" height="55.60" fill="#3fc1b4"/>
<rect x="624.10" y="117.90" width="1.25" height="55.60" fill="#3db6cc"/>
<rect x="625.10" y="117.90" width="1.25" height="55.60" fill="#40c3b0"/>
<rect x="626.10" y="117.90" width="1.25" height="55.60" fill="#3dafd7"/>
<rect x="627.10" y="117.90" width="1.25" height="55.60" fill="#43c4aa"/>
<rect x="628.10" y="117.90" width="1.25" height="55.60" fill="#42c4ab"/>
<rect x="629.10" y="117.90" width="1.25" height="55.60" fill="#97c651"/>
<rect x="630.10" y="117.90" width="1.25" height="55.60" fill="#3ebac4"/>
<rect x="631.10" y="117.90" width="1.25" height="55.60" fill="#47c6a1"/>
<rect x="632.10" y="117.90" width="1.25" height="55.60" fill="#40c2b2"/>
<rect x="633.10" y="117.90" width="1.25" height="55.60" fill="#3cb2d4"/>
<rect x="634.10" y="117.90" width="1.25" height="55.60" fill="#3cb5cf"/>
<rect x="635.10" y="117.90" width="1.25" height="55.60" fill="#45c5a5"/>
<rect x="636.10" y="117.90" width="1.25" height="55.60" fill="#4dc896"/>
<rect x="637.10" y="117.90" width="1.25" height="55.60" fill="#40a2e6"/>
<rect x="638.10" y="117.90" width="1.25" height="55.60" fill="#3db9c7"/>
<rect x="639.10" y="117.90" width="1.25" height="55.60" fill="#44c4a8"/>
<rect x="640.10" y="117.90" width="1.25" height="55.60" fill="#7ec960"/>
<rect x="641.10" y="117.90" width="1.25" height="55.60" fill="#f2ef36"/>
<rect x="642.10" y="117.90" width="1.25" height="55.60" fill="#3db8ca"/>
<rect x="643.10" y="117.90" width="1.25" height="55.60" fill="#3cb3d3"/>
<rect x="644.10" y="117.90" width="1.25" height="55.60" fill="#439aeb"/>
<rect x="645.10" y="117.90" width="1.25" height="55.60" fill="#4bc79a"/>
<rect x="646.10" y="117.90" width="1.25" height="55.60" fill="#3db8c8"/>
<rect x="647.10" y="117.90" width="1.25" height="55.60" fill="#3db1d5"/>
<rect x="648.10" y="117.90" width="1.25" height="55.60" fill="#3dadd9"/>
<rect x="649.10" y="117.90" width="1.25" height="55.60" fill="#3db1d6"/>
<rect x="650.10" y="117.90" width="1.25" height="55.60" fill="#3fa6e1"/>
<line x1="502.80" y1="63.10" x2="502.80" y2="173.50" stroke="#000" stroke-width="1.2" stroke-dasharray="4.4 2.6"/>
<rect x="656.40" y="63.10" width="9.00" height="110.40" fill="url(#pg)"/>
<text x="668.00" y="70.22" font-size="12.9">5</text>
<text x="667.00" y="178.92" font-size="12.9">-2</text>
<line x1="663.40" y1="78.87" x2="665.40" y2="78.87" stroke="#222" stroke-width="0.6"/>
<line x1="663.40" y1="94.64" x2="665.40" y2="94.64" stroke="#222" stroke-width="0.6"/>
<line x1="663.40" y1="110.41" x2="665.40" y2="110.41" stroke="#222" stroke-width="0.6"/>
<line x1="663.40" y1="126.19" x2="665.40" y2="126.19" stroke="#222" stroke-width="0.6"/>
<line x1="663.40" y1="141.96" x2="665.40" y2="141.96" stroke="#222" stroke-width="0.6"/>
<line x1="663.40" y1="157.73" x2="665.40" y2="157.73" stroke="#222" stroke-width="0.6"/>
<line x1="649.30" y1="90.70" x2="651.10" y2="90.70" stroke="#222" stroke-width="0.6"/>
<line x1="649.30" y1="118.30" x2="651.10" y2="118.30" stroke="#222" stroke-width="0.6"/>
<line x1="649.30" y1="145.90" x2="651.10" y2="145.90" stroke="#222" stroke-width="0.6"/>
<line x1="503.10" y1="173.50" x2="503.10" y2="176.30" stroke="#000" stroke-width="1.0"/>
<line x1="515.43" y1="173.50" x2="515.43" y2="176.30" stroke="#000" stroke-width="1.0"/>
<line x1="527.77" y1="173.50" x2="527.77" y2="176.30" stroke="#000" stroke-width="1.0"/>
<line x1="540.10" y1="173.50" x2="540.10" y2="176.30" stroke="#000" stroke-width="1.0"/>
<line x1="552.43" y1="173.50" x2="552.43" y2="176.30" stroke="#000" stroke-width="1.0"/>
<line x1="564.77" y1="173.50" x2="564.77" y2="176.30" stroke="#000" stroke-width="1.0"/>
<line x1="577.10" y1="173.50" x2="577.10" y2="176.30" stroke="#000" stroke-width="1.0"/>
<line x1="589.43" y1="173.50" x2="589.43" y2="176.30" stroke="#000" stroke-width="1.0"/>
<line x1="601.77" y1="173.50" x2="601.77" y2="176.30" stroke="#000" stroke-width="1.0"/>
<line x1="614.10" y1="173.50" x2="614.10" y2="176.30" stroke="#000" stroke-width="1.0"/>
<line x1="626.43" y1="173.50" x2="626.43" y2="176.30" stroke="#000" stroke-width="1.0"/>
<line x1="638.77" y1="173.50" x2="638.77" y2="176.30" stroke="#000" stroke-width="1.0"/>
<line x1="651.10" y1="173.50" x2="651.10" y2="176.30" stroke="#000" stroke-width="1.0"/>
<text x="503.10" y="189.82" font-size="12.9" text-anchor="middle">0</text>
<text x="527.77" y="189.82" font-size="12.9" text-anchor="middle">10</text>
<text x="552.43" y="189.82" font-size="12.9" text-anchor="middle">20</text>
<text x="577.10" y="189.82" font-size="12.9" text-anchor="middle">30</text>
<text x="601.77" y="189.82" font-size="12.9" text-anchor="middle">40</text>
<text x="626.43" y="189.82" font-size="12.9" text-anchor="middle">50</text>
<text x="651.10" y="189.82" font-size="12.9" text-anchor="middle">60</text>
<text x="582.00" y="204.92" font-size="12.9" text-anchor="middle">Time (min)</text>
<text x="486.30" y="61.62" font-size="12.9">Veh/CNO</text>
<text x="471.18" y="118.00" font-size="12.8" text-anchor="middle" transform="rotate(-90 471.18 118.00)">&#916;F/F (%)</text>
<text x="491.62" y="93.40" font-size="12.9" text-anchor="middle" transform="rotate(-90 491.62 93.40)">Veh</text>
<text x="491.62" y="146.80" font-size="12.9" text-anchor="middle" transform="rotate(-90 491.62 146.80)">CNO</text>
<text x="473.19" y="183.00" font-size="10.3" text-anchor="middle" transform="rotate(-90 473.19 183.00)">&#916;F/F (%)</text>
<path d="M476.4 179.6 V189.9 H488.5" fill="none" stroke="#000" stroke-width="1.3"/>
<text x="476.00" y="202.18" font-size="10">30 s</text>
<rect x="493.30" y="246.20" width="157.80" height="110.90" fill="#4a8af5"/>
<rect x="493.30" y="246.20" width="0.95" height="55.40" fill="#3dafd8"/>
<rect x="494.00" y="246.20" width="1.25" height="55.40" fill="#40a0e8"/>
<rect x="495.00" y="246.20" width="1.25" height="55.40" fill="#3db1d5"/>
<rect x="496.00" y="246.20" width="1.25" height="55.40" fill="#498cf4"/>
<rect x="497.00" y="246.20" width="1.25" height="55.40" fill="#3fa4e3"/>
<rect x="498.00" y="246.20" width="1.25" height="55.40" fill="#4a7ff7"/>
<rect x="499.00" y="246.20" width="1.25" height="55.40" fill="#498df3"/>
<rect x="500.00" y="246.20" width="1.25" height="55.40" fill="#4694ef"/>
<rect x="501.00" y="246.20" width="1.25" height="55.40" fill="#488ef3"/>
<rect x="502.00" y="246.20" width="1.25" height="55.40" fill="#3db6cd"/>
<rect x="503.00" y="246.20" width="1.05" height="55.40" fill="#3db7ca"/>
<rect x="503.80" y="246.20" width="1.25" height="55.40" fill="#439aec"/>
<rect x="504.80" y="246.20" width="1.25" height="55.40" fill="#3daed9"/>
<rect x="505.80" y="246.20" width="1.25" height="55.40" fill="#3daed9"/>
<rect x="506.80" y="246.20" width="1.25" height="55.40" fill="#4694ef"/>
<rect x="507.80" y="246.20" width="1.25" height="55.40" fill="#40c3ae"/>
<rect x="508.80" y="246.20" width="1.25" height="55.40" fill="#4498ed"/>
<rect x="509.80" y="246.20" width="1.25" height="55.40" fill="#3eabdc"/>
<rect x="510.80" y="246.20" width="1.25" height="55.40" fill="#4399ec"/>
<rect x="511.80" y="246.20" width="1.25" height="55.40" fill="#42c4ac"/>
<rect x="512.80" y="246.20" width="1.25" height="55.40" fill="#3eabdc"/>
<rect x="513.80" y="246.20" width="1.25" height="55.40" fill="#4596ee"/>
<rect x="514.80" y="246.20" width="1.25" height="55.40" fill="#4595ef"/>
<rect x="515.80" y="246.20" width="1.25" height="55.40" fill="#3db0d6"/>
<rect x="516.80" y="246.20" width="1.25" height="55.40" fill="#498df3"/>
<rect x="517.80" y="246.20" width="1.25" height="55.40" fill="#4a8af5"/>
<rect x="518.80" y="246.20" width="1.25" height="55.40" fill="#3fa6e2"/>
<rect x="519.80" y="246.20" width="1.25" height="55.40" fill="#4790f1"/>
<rect x="520.80" y="246.20" width="1.25" height="55.40" fill="#40c1b3"/>
<rect x="521.80" y="246.20" width="1.25" height="55.40" fill="#4596ee"/>
<rect x="522.80" y="246.20" width="1.25" height="55.40" fill="#3daed8"/>
<rect x="523.80" y="246.20" width="1.25" height="55.40" fill="#3eacdb"/>
<rect x="524.80" y="246.20" width="1.25" height="55.40" fill="#488ff2"/>
<rect x="525.80" y="246.20" width="1.25" height="55.40" fill="#488ff2"/>
<rect x="526.80" y="246.20" width="1.25" height="55.40" fill="#4694ef"/>
<rect x="527.80" y="246.20" width="1.25" height="55.40" fill="#3eacdb"/>
<rect x="528.80" y="246.20" width="1.25" height="55.40" fill="#72cb6a"/>
<rect x="529.80" y="246.20" width="1.25" height="55.40" fill="#498df3"/>
<rect x="530.80" y="246.20" width="1.25" height="55.40" fill="#3daed9"/>
<rect x="531.80" y="246.20" width="1.25" height="55.40" fill="#3ea9de"/>
<rect x="532.80" y="246.20" width="1.25" height="55.40" fill="#3dafd8"/>
<rect x="533.80" y="246.20" width="1.25" height="55.40" fill="#4bc79a"/>
<rect x="534.80" y="246.20" width="1.25" height="55.40" fill="#4a8af5"/>
<rect x="535.80" y="246.20" width="1.25" height="55.40" fill="#3db7cb"/>
<rect x="536.80" y="246.20" width="1.25" height="55.40" fill="#4497ed"/>
<rect x="537.80" y="246.20" width="1.25" height="55.40" fill="#498cf4"/>
<rect x="538.80" y="246.20" width="1.25" height="55.40" fill="#4791f1"/>
<rect x="539.80" y="246.20" width="1.25" height="55.40" fill="#4692f0"/>
<rect x="540.80" y="246.20" width="1.25" height="55.40" fill="#3cb3d4"/>
<rect x="541.80" y="246.20" width="1.25" height="55.40" fill="#488ff2"/>
<rect x="542.80" y="246.20" width="1.25" height="55.40" fill="#3fbdbc"/>
<rect x="543.80" y="246.20" width="1.25" height="55.40" fill="#488ef3"/>
<rect x="544.80" y="246.20" width="1.25" height="55.40" fill="#3cb2d4"/>
<rect x="545.80" y="246.20" width="1.25" height="55.40" fill="#4a88f5"/>
<rect x="546.80" y="246.20" width="1.25" height="55.40" fill="#4791f1"/>
<rect x="547.80" y="246.20" width="1.25" height="55.40" fill="#488ff2"/>
<rect x="548.80" y="246.20" width="1.25" height="55.40" fill="#3db7cc"/>
<rect x="549.80" y="246.20" width="1.25" height="55.40" fill="#83c95d"/>
<rect x="550.80" y="246.20" width="1.25" height="55.40" fill="#3daed8"/>
<rect x="551.80" y="246.20" width="1.25" height="55.40" fill="#498cf4"/>
<rect x="552.80" y="246.20" width="1.25" height="55.40" fill="#4693f0"/>
<rect x="553.80" y="246.20" width="1.25" height="55.40" fill="#4a8bf5"/>
<rect x="554.80" y="246.20" width="1.25" height="55.40" fill="#99c550"/>
<rect x="555.80" y="246.20" width="1.25" height="55.40" fill="#4a7af8"/>
<rect x="556.80" y="246.20" width="1.25" height="55.40" fill="#488ef2"/>
<rect x="557.80" y="246.20" width="1.25" height="55.40" fill="#4a86f6"/>
<rect x="558.80" y="246.20" width="1.25" height="55.40" fill="#4694ef"/>
<rect x="559.80" y="246.20" width="1.25" height="55.40" fill="#6ecb6d"/>
<rect x="560.80" y="246.20" width="1.25" height="55.40" fill="#3fc0b6"/>
<rect x="561.80" y="246.20" width="1.25" height="55.40" fill="#4a8af5"/>
<rect x="562.80" y="246.20" width="1.25" height="55.40" fill="#488ef3"/>
<rect x="563.80" y="246.20" width="1.25" height="55.40" fill="#3ebbc1"/>
<rect x="564.80" y="246.20" width="1.25" height="55.40" fill="#4692f0"/>
<rect x="565.80" y="246.20" width="1.25" height="55.40" fill="#419ee9"/>
<rect x="566.80" y="246.20" width="1.25" height="55.40" fill="#3daed9"/>
<rect x="567.80" y="246.20" width="1.25" height="55.40" fill="#3fa5e3"/>
<rect x="568.80" y="246.20" width="1.25" height="55.40" fill="#4a80f7"/>
<rect x="569.80" y="246.20" width="1.25" height="55.40" fill="#3dafd8"/>
<rect x="570.80" y="246.20" width="1.25" height="55.40" fill="#4399ec"/>
<rect x="571.80" y="246.20" width="1.25" height="55.40" fill="#3ea9de"/>
<rect x="572.80" y="246.20" width="1.25" height="55.40" fill="#4a8bf5"/>
<rect x="573.80" y="246.20" width="1.25" height="55.40" fill="#3eabdb"/>
<rect x="574.80" y="246.20" width="1.25" height="55.40" fill="#4694ef"/>
<rect x="575.80" y="246.20" width="1.25" height="55.40" fill="#40a2e6"/>
<rect x="576.80" y="246.20" width="1.25" height="55.40" fill="#4a88f6"/>
<rect x="577.80" y="246.20" width="1.25" height="55.40" fill="#40a2e6"/>
<rect x="578.80" y="246.20" width="1.25" height="55.40" fill="#4497ed"/>
<rect x="579.80" y="246.20" width="1.25" height="55.40" fill="#419ee9"/>
<rect x="580.80" y="246.20" width="1.25" height="55.40" fill="#81c95d"/>
<rect x="581.80" y="246.20" width="1.25" height="55.40" fill="#3eaadd"/>
<rect x="582.80" y="246.20" width="1.25" height="55.40" fill="#4498ed"/>
<rect x="583.80" y="246.20" width="1.25" height="55.40" fill="#4a7cf8"/>
<rect x="584.80" y="246.20" width="1.25" height="55.40" fill="#3eabdc"/>
<rect x="585.80" y="246.20" width="1.25" height="55.40" fill="#4a81f7"/>
<rect x="586.80" y="246.20" width="1.25" height="55.40" fill="#40a2e6"/>
<rect x="587.80" y="246.20" width="1.25" height="55.40" fill="#4a8bf5"/>
<rect x="588.80" y="246.20" width="1.25" height="55.40" fill="#3dafd7"/>
<rect x="589.80" y="246.20" width="1.25" height="55.40" fill="#40a1e7"/>
<rect x="590.80" y="246.20" width="1.25" height="55.40" fill="#4693ef"/>
<rect x="591.80" y="246.20" width="1.25" height="55.40" fill="#3cb5cf"/>
<rect x="592.80" y="246.20" width="1.25" height="55.40" fill="#498cf4"/>
<rect x="593.80" y="246.20" width="1.25" height="55.40" fill="#4a84f6"/>
<rect x="594.80" y="246.20" width="1.25" height="55.40" fill="#4790f2"/>
<rect x="595.80" y="246.20" width="1.25" height="55.40" fill="#4692f0"/>
<rect x="596.80" y="246.20" width="1.25" height="55.40" fill="#4791f1"/>
<rect x="597.80" y="246.20" width="1.25" height="55.40" fill="#4694ef"/>
<rect x="598.80" y="246.20" width="1.25" height="55.40" fill="#4a88f6"/>
<rect x="599.80" y="246.20" width="1.25" height="55.40" fill="#3cb5cf"/>
<rect x="600.80" y="246.20" width="1.25" height="55.40" fill="#4790f2"/>
<rect x="601.80" y="246.20" width="1.25" height="55.40" fill="#488ff2"/>
<rect x="602.80" y="246.20" width="1.25" height="55.40" fill="#498df3"/>
<rect x="603.80" y="246.20" width="1.25" height="55.40" fill="#3db0d7"/>
<rect x="604.80" y="246.20" width="1.25" height="55.40" fill="#4399ec"/>
<rect x="605.80" y="246.20" width="1.25" height="55.40" fill="#4792f0"/>
<rect x="606.80" y="246.20" width="1.25" height="55.40" fill="#3fa7e0"/>
<rect x="607.80" y="246.20" width="1.25" height="55.40" fill="#7fc95f"/>
<rect x="608.80" y="246.20" width="1.25" height="55.40" fill="#409fe9"/>
<rect x="609.80" y="246.20" width="1.25" height="55.40" fill="#3cb5d0"/>
<rect x="610.80" y="246.20" width="1.25" height="55.40" fill="#4595ee"/>
<rect x="611.80" y="246.20" width="1.25" height="55.40" fill="#3db6cd"/>
<rect x="612.80" y="246.20" width="1.25" height="55.40" fill="#8ac856"/>
<rect x="613.80" y="246.20" width="1.25" height="55.40" fill="#488ef3"/>
<rect x="614.80" y="246.20" width="1.25" height="55.40" fill="#3cb2d5"/>
<rect x="615.80" y="246.20" width="1.25" height="55.40" fill="#3dadd9"/>
<rect x="616.80" y="246.20" width="1.25" height="55.40" fill="#3cb5cf"/>
<rect x="617.80" y="246.20" width="1.25" height="55.40" fill="#3db7cc"/>
<rect x="618.80" y="246.20" width="1.25" height="55.40" fill="#4a8bf4"/>
<rect x="619.80" y="246.20" width="1.25" height="55.40" fill="#4792f1"/>
<rect x="620.80" y="246.20" width="1.25" height="55.40" fill="#3db0d7"/>
<rect x="621.80" y="246.20" width="1.25" height="55.40" fill="#3ebbc1"/>
<rect x="622.80" y="246.20" width="1.25" height="55.40" fill="#3eacdb"/>
<rect x="623.80" y="246.20" width="1.25" height="55.40" fill="#40a2e5"/>
<rect x="624.80" y="246.20" width="1.25" height="55.40" fill="#4a85f6"/>
<rect x="625.80" y="246.20" width="1.25" height="55.40" fill="#40a1e7"/>
<rect x="626.80" y="246.20" width="1.25" height="55.40" fill="#498cf4"/>
<rect x="627.80" y="246.20" width="1.25" height="55.40" fill="#3daed9"/>
<rect x="628.80" y="246.20" width="1.25" height="55.40" fill="#498cf4"/>
<rect x="629.80" y="246.20" width="1.25" height="55.40" fill="#3ebbc2"/>
<rect x="630.80" y="246.20" width="1.25" height="55.40" fill="#4a8af5"/>
<rect x="631.80" y="246.20" width="1.25" height="55.40" fill="#4cc898"/>
<rect x="632.80" y="246.20" width="1.25" height="55.40" fill="#3daed9"/>
<rect x="633.80" y="246.20" width="1.25" height="55.40" fill="#4595ef"/>
<rect x="634.80" y="246.20" width="1.25" height="55.40" fill="#47c6a2"/>
<rect x="635.80" y="246.20" width="1.25" height="55.40" fill="#4399ec"/>
<rect x="636.80" y="246.20" width="1.25" height="55.40" fill="#40a2e6"/>
<rect x="637.80" y="246.20" width="1.25" height="55.40" fill="#4a88f6"/>
<rect x="638.80" y="246.20" width="1.25" height="55.40" fill="#3eaadd"/>
<rect x="639.80" y="246.20" width="1.25" height="55.40" fill="#4498ed"/>
<rect x="640.80" y="246.20" width="1.25" height="55.40" fill="#4a87f6"/>
<rect x="641.80" y="246.20" width="1.25" height="55.40" fill="#488ef3"/>
<rect x="642.80" y="246.20" width="1.25" height="55.40" fill="#3eabdc"/>
<rect x="643.80" y="246.20" width="1.25" height="55.40" fill="#488ef2"/>
<rect x="644.80" y="246.20" width="1.25" height="55.40" fill="#429cea"/>
<rect x="645.80" y="246.20" width="1.25" height="55.40" fill="#3fa4e4"/>
<rect x="646.80" y="246.20" width="1.25" height="55.40" fill="#4791f1"/>
<rect x="647.80" y="246.20" width="1.25" height="55.40" fill="#3fa4e4"/>
<rect x="648.80" y="246.20" width="1.25" height="55.40" fill="#3fa6e1"/>
<rect x="649.80" y="246.20" width="1.25" height="55.40" fill="#3fa6e2"/>
<rect x="650.80" y="246.20" width="0.55" height="55.40" fill="#4a82f7"/>
<rect x="493.30" y="301.60" width="0.95" height="55.50" fill="#488ef3"/>
<rect x="494.00" y="301.60" width="1.25" height="55.50" fill="#4a87f6"/>
<rect x="495.00" y="301.60" width="1.25" height="55.50" fill="#3ea8df"/>
<rect x="496.00" y="301.60" width="1.25" height="55.50" fill="#4a7ff7"/>
<rect x="497.00" y="301.60" width="1.25" height="55.50" fill="#3daed8"/>
<rect x="498.00" y="301.60" width="1.25" height="55.50" fill="#3db1d5"/>
<rect x="499.00" y="301.60" width="1.25" height="55.50" fill="#498cf4"/>
<rect x="500.00" y="301.60" width="1.25" height="55.50" fill="#4a83f7"/>
<rect x="501.00" y="301.60" width="1.25" height="55.50" fill="#4a8af5"/>
<rect x="502.00" y="301.60" width="1.25" height="55.50" fill="#3db1d5"/>
<rect x="503.00" y="301.60" width="1.05" height="55.50" fill="#3daed9"/>
<rect x="503.80" y="301.60" width="1.25" height="55.50" fill="#432dd3"/>
<rect x="504.80" y="301.60" width="1.25" height="55.50" fill="#432cd2"/>
<rect x="505.80" y="301.60" width="1.25" height="55.50" fill="#4a63fb"/>
<rect x="506.80" y="301.60" width="1.25" height="55.50" fill="#3f27b6"/>
<rect x="507.80" y="301.60" width="1.25" height="55.50" fill="#432fd7"/>
<rect x="508.80" y="301.60" width="1.25" height="55.50" fill="#4a61fb"/>
<rect x="509.80" y="301.60" width="1.25" height="55.50" fill="#3f27b9"/>
<rect x="510.80" y="301.60" width="1.25" height="55.50" fill="#4431db"/>
<rect x="511.80" y="301.60" width="1.25" height="55.50" fill="#3e26b2"/>
<rect x="512.80" y="301.60" width="1.25" height="55.50" fill="#3e26b2"/>
<rect x="513.80" y="301.60" width="1.25" height="55.50" fill="#3f27b8"/>
<rect x="514.80" y="301.60" width="1.25" height="55.50" fill="#3f27b6"/>
<rect x="515.80" y="301.60" width="1.25" height="55.50" fill="#4028bc"/>
<rect x="516.80" y="301.60" width="1.25" height="55.50" fill="#4430d9"/>
<rect x="517.80" y="301.60" width="1.25" height="55.50" fill="#4431dc"/>
<rect x="518.80" y="301.60" width="1.25" height="55.50" fill="#3f27ba"/>
<rect x="519.80" y="301.60" width="1.25" height="55.50" fill="#3e26b2"/>
<rect x="520.80" y="301.60" width="1.25" height="55.50" fill="#3f27b6"/>
<rect x="521.80" y="301.60" width="1.25" height="55.50" fill="#3e26b5"/>
<rect x="522.80" y="301.60" width="1.25" height="55.50" fill="#3e26b3"/>
<rect x="523.80" y="301.60" width="1.25" height="55.50" fill="#3f27bb"/>
<rect x="524.80" y="301.60" width="1.25" height="55.50" fill="#3e26b2"/>
<rect x="525.80" y="301.60" width="1.25" height="55.50" fill="#3e26b2"/>
<rect x="526.80" y="301.60" width="1.25" height="55.50" fill="#432cd2"/>
<rect x="527.80" y="301.60" width="1.25" height="55.50" fill="#3f27b8"/>
<rect x="528.80" y="301.60" width="1.25" height="55.50" fill="#3f27b9"/>
<rect x="529.80" y="301.60" width="1.25" height="55.50" fill="#4431dc"/>
<rect x="530.80" y="301.60" width="1.25" height="55.50" fill="#4028bd"/>
<rect x="531.80" y="301.60" width="1.25" height="55.50" fill="#3e26b4"/>
<rect x="532.80" y="301.60" width="1.25" height="55.50" fill="#3e26b4"/>
<rect x="533.80" y="301.60" width="1.25" height="55.50" fill="#3f27b6"/>
<rect x="534.80" y="301.60" width="1.25" height="55.50" fill="#4028c1"/>
<rect x="535.80" y="301.60" width="1.25" height="55.50" fill="#3f27b6"/>
<rect x="536.80" y="301.60" width="1.25" height="55.50" fill="#432cd2"/>
<rect x="537.80" y="301.60" width="1.25" height="55.50" fill="#4028bd"/>
<rect x="538.80" y="301.60" width="1.25" height="55.50" fill="#4028c0"/>
<rect x="539.80" y="301.60" width="1.25" height="55.50" fill="#4028c0"/>
<rect x="540.80" y="301.60" width="1.25" height="55.50" fill="#4028bf"/>
<rect x="541.80" y="301.60" width="1.25" height="55.50" fill="#4432de"/>
<rect x="542.80" y="301.60" width="1.25" height="55.50" fill="#3f27bb"/>
<rect x="543.80" y="301.60" width="1.25" height="55.50" fill="#3e26b2"/>
<rect x="544.80" y="301.60" width="1.25" height="55.50" fill="#3f27bc"/>
<rect x="545.80" y="301.60" width="1.25" height="55.50" fill="#4028bc"/>
<rect x="546.80" y="301.60" width="1.25" height="55.50" fill="#4028bd"/>
<rect x="547.80" y="301.60" width="1.25" height="55.50" fill="#4028be"/>
<rect x="548.80" y="301.60" width="1.25" height="55.50" fill="#3f27ba"/>
<rect x="549.80" y="301.60" width="1.25" height="55.50" fill="#3e26b2"/>
<rect x="550.80" y="301.60" width="1.25" height="55.50" fill="#3e26b2"/>
<rect x="551.80" y="301.60" width="1.25" height="55.50" fill="#3f27b9"/>
<rect x="552.80" y="301.60" width="1.25" height="55.50" fill="#3f27b6"/>
<rect x="553.80" y="301.60" width="1.25" height="55.50" fill="#4028bf"/>
<rect x="554.80" y="301.60" width="1.25" height="55.50" fill="#3f27b7"/>
<rect x="555.80" y="301.60" width="1.25" height="55.50" fill="#3f27bb"/>
<rect x="556.80" y="301.60" width="1.25" height="55.50" fill="#3e26b2"/>
<rect x="557.80" y="301.60" width="1.25" height="55.50" fill="#3f27b8"/>
<rect x="558.80" y="301.60" width="1.25" height="55.50" fill="#3f27b7"/>
<rect x="559.80" y="301.60" width="1.25" height="55.50" fill="#3e26b2"/>
<rect x="560.80" y="301.60" width="1.25" height="55.50" fill="#4028bd"/>
<rect x="561.80" y="301.60" width="1.25" height="55.50" fill="#3e26b5"/>
<rect x="562.80" y="301.60" width="1.25" height="55.50" fill="#3f27b9"/>
<rect x="563.80" y="301.60" width="1.25" height="55.50" fill="#3e26b4"/>
<rect x="564.80" y="301.60" width="1.25" height="55.50" fill="#484cf8"/>
<rect x="565.80" y="301.60" width="1.25" height="55.50" fill="#4028bd"/>
<rect x="566.80" y="301.60" width="1.25" height="55.50" fill="#3e26b2"/>
<rect x="567.80" y="301.60" width="1.25" height="55.50" fill="#3f27b8"/>
<rect x="568.80" y="301.60" width="1.25" height="55.50" fill="#3e26b5"/>
<rect x="569.80" y="301.60" width="1.25" height="55.50" fill="#3e26b2"/>
<rect x="570.80" y="301.60" width="1.25" height="55.50" fill="#3e26b2"/>
<rect x="571.80" y="301.60" width="1.25" height="55.50" fill="#3f27b9"/>
<rect x="572.80" y="301.60" width="1.25" height="55.50" fill="#3f27b6"/>
<rect x="573.80" y="301.60" width="1.25" height="55.50" fill="#3f27bb"/>
<rect x="574.80" y="301.60" width="1.25" height="55.50" fill="#3e26b5"/>
<rect x="575.80" y="301.60" width="1.25" height="55.50" fill="#3e26b4"/>
<rect x="576.80" y="301.60" width="1.25" height="55.50" fill="#4028be"/>
<rect x="577.80" y="301.60" width="1.25" height="55.50" fill="#3f27b6"/>
<rect x="578.80" y="301.60" width="1.25" height="55.50" fill="#4a62fb"/>
<rect x="579.80" y="301.60" width="1.25" height="55.50" fill="#3e26b2"/>
<rect x="580.80" y="301.60" width="1.25" height="55.50" fill="#3f27bc"/>
<rect x="581.80" y="301.60" width="1.25" height="55.50" fill="#3f27b7"/>
<rect x="582.80" y="301.60" width="1.25" height="55.50" fill="#3e26b2"/>
<rect x="583.80" y="301.60" width="1.25" height="55.50" fill="#3f27bc"/>
<rect x="584.80" y="301.60" width="1.25" height="55.50" fill="#3e26b5"/>
<rect x="585.80" y="301.60" width="1.25" height="55.50" fill="#4028c0"/>
<rect x="586.80" y="301.60" width="1.25" height="55.50" fill="#3f27bb"/>
<rect x="587.80" y="301.60" width="1.25" height="55.50" fill="#4957f9"/>
<rect x="588.80" y="301.60" width="1.25" height="55.50" fill="#3f27b7"/>
<rect x="589.80" y="301.60" width="1.25" height="55.50" fill="#3f27b9"/>
<rect x="590.80" y="301.60" width="1.25" height="55.50" fill="#3f27b7"/>
<rect x="591.80" y="301.60" width="1.25" height="55.50" fill="#3f27b7"/>
<rect x="592.80" y="301.60" width="1.25" height="55.50" fill="#484df8"/>
<rect x="593.80" y="301.60" width="1.25" height="55.50" fill="#3e26b2"/>
<rect x="594.80" y="301.60" width="1.25" height="55.50" fill="#3e26b5"/>
<rect x="595.80" y="301.60" width="1.25" height="55.50" fill="#3e26b5"/>
<rect x="596.80" y="301.60" width="1.25" height="55.50" fill="#3f27b8"/>
<rect x="597.80" y="301.60" width="1.25" height="55.50" fill="#4639ea"/>
<rect x="598.80" y="301.60" width="1.25" height="55.50" fill="#3e26b2"/>
<rect x="599.80" y="301.60" width="1.25" height="55.50" fill="#3e26b2"/>
<rect x="600.80" y="301.60" width="1.25" height="55.50" fill="#3e26b4"/>
<rect x="601.80" y="301.60" width="1.25" height="55.50" fill="#3e26b2"/>
<rect x="602.80" y="301.60" width="1.25" height="55.50" fill="#4129c7"/>
<rect x="603.80" y="301.60" width="1.25" height="55.50" fill="#3e26b2"/>
<rect x="604.80" y="301.60" width="1.25" height="55.50" fill="#3f27b9"/>
<rect x="605.80" y="301.60" width="1.25" height="55.50" fill="#3e26b5"/>
<rect x="606.80" y="301.60" width="1.25" height="55.50" fill="#4430d9"/>
<rect x="607.80" y="301.60" width="1.25" height="55.50" fill="#432cd2"/>
<rect x="608.80" y="301.60" width="1.25" height="55.50" fill="#3f27b8"/>
<rect x="609.80" y="301.60" width="1.25" height="55.50" fill="#3f27bb"/>
<rect x="610.80" y="301.60" width="1.25" height="55.50" fill="#3f27b8"/>
<rect x="611.80" y="301.60" width="1.25" height="55.50" fill="#4028bd"/>
<rect x="612.80" y="301.60" width="1.25" height="55.50" fill="#3f27b9"/>
<rect x="613.80" y="301.60" width="1.25" height="55.50" fill="#3e26b4"/>
<rect x="614.80" y="301.60" width="1.25" height="55.50" fill="#3f27bb"/>
<rect x="615.80" y="301.60" width="1.25" height="55.50" fill="#3e26b2"/>
<rect x="616.80" y="301.60" width="1.25" height="55.50" fill="#4028be"/>
<rect x="617.80" y="301.60" width="1.25" height="55.50" fill="#4129c9"/>
<rect x="618.80" y="301.60" width="1.25" height="55.50" fill="#3e26b2"/>
<rect x="619.80" y="301.60" width="1.25" height="55.50" fill="#3f27b9"/>
<rect x="620.80" y="301.60" width="1.25" height="55.50" fill="#463ced"/>
<rect x="621.80" y="301.60" width="1.25" height="55.50" fill="#432cd2"/>
<rect x="622.80" y="301.60" width="1.25" height="55.50" fill="#422acc"/>
<rect x="623.80" y="301.60" width="1.25" height="55.50" fill="#3f27b7"/>
<rect x="624.80" y="301.60" width="1.25" height="55.50" fill="#3f27b7"/>
<rect x="625.80" y="301.60" width="1.25" height="55.50" fill="#3e26b4"/>
<rect x="626.80" y="301.60" width="1.25" height="55.50" fill="#3e26b2"/>
<rect x="627.80" y="301.60" width="1.25" height="55.50" fill="#432cd2"/>
<rect x="628.80" y="301.60" width="1.25" height="55.50" fill="#3e26b5"/>
<rect x="629.80" y="301.60" width="1.25" height="55.50" fill="#3e26b2"/>
<rect x="630.80" y="301.60" width="1.25" height="55.50" fill="#4a63fb"/>
<rect x="631.80" y="301.60" width="1.25" height="55.50" fill="#3f27b6"/>
<rect x="632.80" y="301.60" width="1.25" height="55.50" fill="#3f27bb"/>
<rect x="633.80" y="301.60" width="1.25" height="55.50" fill="#4028bd"/>
<rect x="634.80" y="301.60" width="1.25" height="55.50" fill="#432ed5"/>
<rect x="635.80" y="301.60" width="1.25" height="55.50" fill="#4533df"/>
<rect x="636.80" y="301.60" width="1.25" height="55.50" fill="#3f27b9"/>
<rect x="637.80" y="301.60" width="1.25" height="55.50" fill="#3e26b2"/>
<rect x="638.80" y="301.60" width="1.25" height="55.50" fill="#4432dd"/>
<rect x="639.80" y="301.60" width="1.25" height="55.50" fill="#3e26b2"/>
<rect x="640.80" y="301.60" width="1.25" height="55.50" fill="#4028c1"/>
<rect x="641.80" y="301.60" width="1.25" height="55.50" fill="#3e26b2"/>
<rect x="642.80" y="301.60" width="1.25" height="55.50" fill="#4955f9"/>
<rect x="643.80" y="301.60" width="1.25" height="55.50" fill="#4028bd"/>
<rect x="644.80" y="301.60" width="1.25" height="55.50" fill="#3e26b4"/>
<rect x="645.80" y="301.60" width="1.25" height="55.50" fill="#432cd1"/>
<rect x="646.80" y="301.60" width="1.25" height="55.50" fill="#484ef8"/>
<rect x="647.80" y="301.60" width="1.25" height="55.50" fill="#3e26b2"/>
<rect x="648.80" y="301.60" width="1.25" height="55.50" fill="#422bce"/>
<rect x="649.80" y="301.60" width="1.25" height="55.50" fill="#3f27b7"/>
<rect x="650.80" y="301.60" width="0.55" height="55.50" fill="#3f27ba"/>
<line x1="503.50" y1="246.20" x2="503.50" y2="357.10" stroke="#000" stroke-width="1.2" stroke-dasharray="4.4 2.6"/>
<rect x="656.40" y="246.20" width="9.00" height="110.90" fill="url(#pg)"/>
<text x="668.00" y="253.32" font-size="12.9">5</text>
<text x="667.00" y="362.52" font-size="12.9">-2</text>
<line x1="663.40" y1="262.04" x2="665.40" y2="262.04" stroke="#222" stroke-width="0.6"/>
<line x1="663.40" y1="277.89" x2="665.40" y2="277.89" stroke="#222" stroke-width="0.6"/>
<line x1="663.40" y1="293.73" x2="665.40" y2="293.73" stroke="#222" stroke-width="0.6"/>
<line x1="663.40" y1="309.57" x2="665.40" y2="309.57" stroke="#222" stroke-width="0.6"/>
<line x1="663.40" y1="325.41" x2="665.40" y2="325.41" stroke="#222" stroke-width="0.6"/>
<line x1="663.40" y1="341.26" x2="665.40" y2="341.26" stroke="#222" stroke-width="0.6"/>
<line x1="649.30" y1="273.93" x2="651.10" y2="273.93" stroke="#222" stroke-width="0.6"/>
<line x1="649.30" y1="301.65" x2="651.10" y2="301.65" stroke="#222" stroke-width="0.6"/>
<line x1="649.30" y1="329.38" x2="651.10" y2="329.38" stroke="#222" stroke-width="0.6"/>
<line x1="503.80" y1="357.10" x2="503.80" y2="359.90" stroke="#000" stroke-width="1.0"/>
<line x1="516.08" y1="357.10" x2="516.08" y2="359.90" stroke="#000" stroke-width="1.0"/>
<line x1="528.35" y1="357.10" x2="528.35" y2="359.90" stroke="#000" stroke-width="1.0"/>
<line x1="540.62" y1="357.10" x2="540.62" y2="359.90" stroke="#000" stroke-width="1.0"/>
<line x1="552.90" y1="357.10" x2="552.90" y2="359.90" stroke="#000" stroke-width="1.0"/>
<line x1="565.17" y1="357.10" x2="565.17" y2="359.90" stroke="#000" stroke-width="1.0"/>
<line x1="577.45" y1="357.10" x2="577.45" y2="359.90" stroke="#000" stroke-width="1.0"/>
<line x1="589.73" y1="357.10" x2="589.73" y2="359.90" stroke="#000" stroke-width="1.0"/>
<line x1="602.00" y1="357.10" x2="602.00" y2="359.90" stroke="#000" stroke-width="1.0"/>
<line x1="614.27" y1="357.10" x2="614.27" y2="359.90" stroke="#000" stroke-width="1.0"/>
<line x1="626.55" y1="357.10" x2="626.55" y2="359.90" stroke="#000" stroke-width="1.0"/>
<line x1="638.83" y1="357.10" x2="638.83" y2="359.90" stroke="#000" stroke-width="1.0"/>
<line x1="651.10" y1="357.10" x2="651.10" y2="359.90" stroke="#000" stroke-width="1.0"/>
<text x="503.80" y="372.92" font-size="12.9" text-anchor="middle">0</text>
<text x="528.35" y="372.92" font-size="12.9" text-anchor="middle">10</text>
<text x="552.90" y="372.92" font-size="12.9" text-anchor="middle">20</text>
<text x="577.45" y="372.92" font-size="12.9" text-anchor="middle">30</text>
<text x="602.00" y="372.92" font-size="12.9" text-anchor="middle">40</text>
<text x="626.55" y="372.92" font-size="12.9" text-anchor="middle">50</text>
<text x="651.10" y="372.92" font-size="12.9" text-anchor="middle">60</text>
<text x="582.00" y="387.02" font-size="12.9" text-anchor="middle">Time (min)</text>
<text x="484.20" y="244.62" font-size="12.9">Veh/CNO</text>
<text x="471.28" y="301.10" font-size="12.8" text-anchor="middle" transform="rotate(-90 471.28 301.10)">&#916;F/F (%)</text>
<text x="488.92" y="275.90" font-size="12.9" text-anchor="middle" transform="rotate(-90 488.92 275.90)">Veh</text>
<text x="488.92" y="331.60" font-size="12.9" text-anchor="middle" transform="rotate(-90 488.92 331.60)">CNO</text>
<text x="472.49" y="367.10" font-size="10.3" text-anchor="middle" transform="rotate(-90 472.49 367.10)">&#916;F/F (%)</text>
<path d="M476.6 363.9 V374.4 H488.6" fill="none" stroke="#000" stroke-width="1.3"/>
<text x="476.00" y="386.38" font-size="10">30 s</text>
<rect x="495.10" y="457.20" width="156.60" height="111.40" fill="#4a8af5"/>
<rect x="495.10" y="457.20" width="1.15" height="55.80" fill="#4b71fa"/>
<rect x="496.00" y="457.20" width="1.25" height="55.80" fill="#4b77f9"/>
<rect x="497.00" y="457.20" width="1.25" height="55.80" fill="#4b72fa"/>
<rect x="498.00" y="457.20" width="1.25" height="55.80" fill="#4b71fa"/>
<rect x="499.00" y="457.20" width="1.25" height="55.80" fill="#4b6dfb"/>
<rect x="500.00" y="457.20" width="1.25" height="55.80" fill="#4b72fa"/>
<rect x="501.00" y="457.20" width="1.25" height="55.80" fill="#4a7bf8"/>
<rect x="502.00" y="457.20" width="1.25" height="55.80" fill="#4b76f9"/>
<rect x="503.00" y="457.20" width="1.25" height="55.80" fill="#4a7af8"/>
<rect x="504.00" y="457.20" width="0.85" height="55.80" fill="#4b75fa"/>
<rect x="504.60" y="457.20" width="1.25" height="55.80" fill="#4b74fa"/>
<rect x="505.60" y="457.20" width="1.25" height="55.80" fill="#4a8bf5"/>
<rect x="506.60" y="457.20" width="1.25" height="55.80" fill="#44c4a8"/>
<rect x="507.60" y="457.20" width="1.25" height="55.80" fill="#4a7ff7"/>
<rect x="508.60" y="457.20" width="1.25" height="55.80" fill="#4a86f6"/>
<rect x="509.60" y="457.20" width="1.25" height="55.80" fill="#3eaadd"/>
<rect x="510.60" y="457.20" width="1.25" height="55.80" fill="#4b65fb"/>
<rect x="511.60" y="457.20" width="1.25" height="55.80" fill="#4a7cf8"/>
<rect x="512.60" y="457.20" width="1.25" height="55.80" fill="#4a7ff7"/>
<rect x="513.60" y="457.20" width="1.25" height="55.80" fill="#4a63fb"/>
<rect x="514.60" y="457.20" width="1.25" height="55.80" fill="#4a87f6"/>
<rect x="515.60" y="457.20" width="1.25" height="55.80" fill="#4a5ffb"/>
<rect x="516.60" y="457.20" width="1.25" height="55.80" fill="#3fa6e2"/>
<rect x="517.60" y="457.20" width="1.25" height="55.80" fill="#4a7cf8"/>
<rect x="518.60" y="457.20" width="1.25" height="55.80" fill="#3dadda"/>
<rect x="519.60" y="457.20" width="1.25" height="55.80" fill="#3dafd7"/>
<rect x="520.60" y="457.20" width="1.25" height="55.80" fill="#4b6efb"/>
<rect x="521.60" y="457.20" width="1.25" height="55.80" fill="#4b65fb"/>
<rect x="522.60" y="457.20" width="1.25" height="55.80" fill="#4b73fa"/>
<rect x="523.60" y="457.20" width="1.25" height="55.80" fill="#4692f0"/>
<rect x="524.60" y="457.20" width="1.25" height="55.80" fill="#4693ef"/>
<rect x="525.60" y="457.20" width="1.25" height="55.80" fill="#4b6cfc"/>
<rect x="526.60" y="457.20" width="1.25" height="55.80" fill="#3db0d6"/>
<rect x="527.60" y="457.20" width="1.25" height="55.80" fill="#4a85f6"/>
<rect x="528.60" y="457.20" width="1.25" height="55.80" fill="#4b6efb"/>
<rect x="529.60" y="457.20" width="1.25" height="55.80" fill="#3eacdb"/>
<rect x="530.60" y="457.20" width="1.25" height="55.80" fill="#4b73fa"/>
<rect x="531.60" y="457.20" width="1.25" height="55.80" fill="#40a1e7"/>
<rect x="532.60" y="457.20" width="1.25" height="55.80" fill="#4b77f9"/>
<rect x="533.60" y="457.20" width="1.25" height="55.80" fill="#488ff2"/>
<rect x="534.60" y="457.20" width="1.25" height="55.80" fill="#4a84f6"/>
<rect x="535.60" y="457.20" width="1.25" height="55.80" fill="#498cf4"/>
<rect x="536.60" y="457.20" width="1.25" height="55.80" fill="#4a7bf8"/>
<rect x="537.60" y="457.20" width="1.25" height="55.80" fill="#3dafd7"/>
<rect x="538.60" y="457.20" width="1.25" height="55.80" fill="#3fa5e2"/>
<rect x="539.60" y="457.20" width="1.25" height="55.80" fill="#3fa4e4"/>
<rect x="540.60" y="457.20" width="1.25" height="55.80" fill="#40a0e8"/>
<rect x="541.60" y="457.20" width="1.25" height="55.80" fill="#4a85f6"/>
<rect x="542.60" y="457.20" width="1.25" height="55.80" fill="#4a82f7"/>
<rect x="543.60" y="457.20" width="1.25" height="55.80" fill="#4a88f5"/>
<rect x="544.60" y="457.20" width="1.25" height="55.80" fill="#4a86f6"/>
<rect x="545.60" y="457.20" width="1.25" height="55.80" fill="#4b6efb"/>
<rect x="546.60" y="457.20" width="1.25" height="55.80" fill="#4a83f7"/>
<rect x="547.60" y="457.20" width="1.25" height="55.80" fill="#4a8bf4"/>
<rect x="548.60" y="457.20" width="1.25" height="55.80" fill="#3fc1b4"/>
<rect x="549.60" y="457.20" width="1.25" height="55.80" fill="#4a83f7"/>
<rect x="550.60" y="457.20" width="1.25" height="55.80" fill="#4a86f6"/>
<rect x="551.60" y="457.20" width="1.25" height="55.80" fill="#429ceb"/>
<rect x="552.60" y="457.20" width="1.25" height="55.80" fill="#4a81f7"/>
<rect x="553.60" y="457.20" width="1.25" height="55.80" fill="#63cc76"/>
<rect x="554.60" y="457.20" width="1.25" height="55.80" fill="#3fa6e1"/>
<rect x="555.60" y="457.20" width="1.25" height="55.80" fill="#4b71fb"/>
<rect x="556.60" y="457.20" width="1.25" height="55.80" fill="#3fa4e4"/>
<rect x="557.60" y="457.20" width="1.25" height="55.80" fill="#8dc854"/>
<rect x="558.60" y="457.20" width="1.25" height="55.80" fill="#3dadda"/>
<rect x="559.60" y="457.20" width="1.25" height="55.80" fill="#4b77f9"/>
<rect x="560.60" y="457.20" width="1.25" height="55.80" fill="#4a8af5"/>
<rect x="561.60" y="457.20" width="1.25" height="55.80" fill="#4a82f7"/>
<rect x="562.60" y="457.20" width="1.25" height="55.80" fill="#4595ef"/>
<rect x="563.60" y="457.20" width="1.25" height="55.80" fill="#4b79f9"/>
<rect x="564.60" y="457.20" width="1.25" height="55.80" fill="#4a82f7"/>
<rect x="565.60" y="457.20" width="1.25" height="55.80" fill="#8ec854"/>
<rect x="566.60" y="457.20" width="1.25" height="55.80" fill="#4a62fb"/>
<rect x="567.60" y="457.20" width="1.25" height="55.80" fill="#4b77f9"/>
<rect x="568.60" y="457.20" width="1.25" height="55.80" fill="#3fa7e1"/>
<rect x="569.60" y="457.20" width="1.25" height="55.80" fill="#4a61fb"/>
<rect x="570.60" y="457.20" width="1.25" height="55.80" fill="#4b71fb"/>
<rect x="571.60" y="457.20" width="1.25" height="55.80" fill="#419fe9"/>
<rect x="572.60" y="457.20" width="1.25" height="55.80" fill="#4a87f6"/>
<rect x="573.60" y="457.20" width="1.25" height="55.80" fill="#3eaadd"/>
<rect x="574.60" y="457.20" width="1.25" height="55.80" fill="#4b74fa"/>
<rect x="575.60" y="457.20" width="1.25" height="55.80" fill="#4a80f7"/>
<rect x="576.60" y="457.20" width="1.25" height="55.80" fill="#4a8af5"/>
<rect x="577.60" y="457.20" width="1.25" height="55.80" fill="#58cc81"/>
<rect x="578.60" y="457.20" width="1.25" height="55.80" fill="#4b6cfc"/>
<rect x="579.60" y="457.20" width="1.25" height="55.80" fill="#4a7df8"/>
<rect x="580.60" y="457.20" width="1.25" height="55.80" fill="#4a80f7"/>
<rect x="581.60" y="457.20" width="1.25" height="55.80" fill="#3fa7e0"/>
<rect x="582.60" y="457.20" width="1.25" height="55.80" fill="#4b74fa"/>
<rect x="583.60" y="457.20" width="1.25" height="55.80" fill="#4497ed"/>
<rect x="584.60" y="457.20" width="1.25" height="55.80" fill="#4a80f7"/>
<rect x="585.60" y="457.20" width="1.25" height="55.80" fill="#4a81f7"/>
<rect x="586.60" y="457.20" width="1.25" height="55.80" fill="#4b6efb"/>
<rect x="587.60" y="457.20" width="1.25" height="55.80" fill="#4b71fa"/>
<rect x="588.60" y="457.20" width="1.25" height="55.80" fill="#4b76f9"/>
<rect x="589.60" y="457.20" width="1.25" height="55.80" fill="#4a7df8"/>
<rect x="590.60" y="457.20" width="1.25" height="55.80" fill="#4a82f7"/>
<rect x="591.60" y="457.20" width="1.25" height="55.80" fill="#4a61fb"/>
<rect x="592.60" y="457.20" width="1.25" height="55.80" fill="#4a7bf8"/>
<rect x="593.60" y="457.20" width="1.25" height="55.80" fill="#4a7cf8"/>
<rect x="594.60" y="457.20" width="1.25" height="55.80" fill="#4b71fb"/>
<rect x="595.60" y="457.20" width="1.25" height="55.80" fill="#3eaadd"/>
<rect x="596.60" y="457.20" width="1.25" height="55.80" fill="#4b6ffb"/>
<rect x="597.60" y="457.20" width="1.25" height="55.80" fill="#4a7bf8"/>
<rect x="598.60" y="457.20" width="1.25" height="55.80" fill="#4a85f6"/>
<rect x="599.60" y="457.20" width="1.25" height="55.80" fill="#4a83f7"/>
<rect x="600.60" y="457.20" width="1.25" height="55.80" fill="#3dafd8"/>
<rect x="601.60" y="457.20" width="1.25" height="55.80" fill="#4a8af5"/>
<rect x="602.60" y="457.20" width="1.25" height="55.80" fill="#84c95c"/>
<rect x="603.60" y="457.20" width="1.25" height="55.80" fill="#488ef2"/>
<rect x="604.60" y="457.20" width="1.25" height="55.80" fill="#3eacdb"/>
<rect x="605.60" y="457.20" width="1.25" height="55.80" fill="#4a87f6"/>
<rect x="606.60" y="457.20" width="1.25" height="55.80" fill="#4a81f7"/>
<rect x="607.60" y="457.20" width="1.25" height="55.80" fill="#4a80f7"/>
<rect x="608.60" y="457.20" width="1.25" height="55.80" fill="#4a7bf8"/>
<rect x="609.60" y="457.20" width="1.25" height="55.80" fill="#3fc0b7"/>
<rect x="610.60" y="457.20" width="1.25" height="55.80" fill="#8dc854"/>
<rect x="611.60" y="457.20" width="1.25" height="55.80" fill="#4b6dfb"/>
<rect x="612.60" y="457.20" width="1.25" height="55.80" fill="#4b74fa"/>
<rect x="613.60" y="457.20" width="1.25" height="55.80" fill="#498cf4"/>
<rect x="614.60" y="457.20" width="1.25" height="55.80" fill="#4594ef"/>
<rect x="615.60" y="457.20" width="1.25" height="55.80" fill="#4a7cf8"/>
<rect x="616.60" y="457.20" width="1.25" height="55.80" fill="#498df3"/>
<rect x="617.60" y="457.20" width="1.25" height="55.80" fill="#4b71fa"/>
<rect x="618.60" y="457.20" width="1.25" height="55.80" fill="#4b76f9"/>
<rect x="619.60" y="457.20" width="1.25" height="55.80" fill="#4a86f6"/>
<rect x="620.60" y="457.20" width="1.25" height="55.80" fill="#40a0e8"/>
<rect x="621.60" y="457.20" width="1.25" height="55.80" fill="#4a84f6"/>
<rect x="622.60" y="457.20" width="1.25" height="55.80" fill="#4a85f6"/>
<rect x="623.60" y="457.20" width="1.25" height="55.80" fill="#4a82f7"/>
<rect x="624.60" y="457.20" width="1.25" height="55.80" fill="#4a7df8"/>
<rect x="625.60" y="457.20" width="1.25" height="55.80" fill="#4a81f7"/>
<rect x="626.60" y="457.20" width="1.25" height="55.80" fill="#4a80f7"/>
<rect x="627.60" y="457.20" width="1.25" height="55.80" fill="#4b78f9"/>
<rect x="628.60" y="457.20" width="1.25" height="55.80" fill="#4a87f6"/>
<rect x="629.60" y="457.20" width="1.25" height="55.80" fill="#4a63fb"/>
<rect x="630.60" y="457.20" width="1.25" height="55.80" fill="#4b79f9"/>
<rect x="631.60" y="457.20" width="1.25" height="55.80" fill="#4956f9"/>
<rect x="632.60" y="457.20" width="1.25" height="55.80" fill="#4a7cf8"/>
<rect x="633.60" y="457.20" width="1.25" height="55.80" fill="#4a84f6"/>
<rect x="634.60" y="457.20" width="1.25" height="55.80" fill="#4b6afc"/>
<rect x="635.60" y="457.20" width="1.25" height="55.80" fill="#4b6efb"/>
<rect x="636.60" y="457.20" width="1.25" height="55.80" fill="#4a80f7"/>
<rect x="637.60" y="457.20" width="1.25" height="55.80" fill="#4a86f6"/>
<rect x="638.60" y="457.20" width="1.25" height="55.80" fill="#4a7ff7"/>
<rect x="639.60" y="457.20" width="1.25" height="55.80" fill="#488ff2"/>
<rect x="640.60" y="457.20" width="1.25" height="55.80" fill="#419dea"/>
<rect x="641.60" y="457.20" width="1.25" height="55.80" fill="#4a87f6"/>
<rect x="642.60" y="457.20" width="1.25" height="55.80" fill="#4a83f6"/>
<rect x="643.60" y="457.20" width="1.25" height="55.80" fill="#4a89f5"/>
<rect x="644.60" y="457.20" width="1.25" height="55.80" fill="#4a82f7"/>
<rect x="645.60" y="457.20" width="1.25" height="55.80" fill="#4a81f7"/>
<rect x="646.60" y="457.20" width="1.25" height="55.80" fill="#4a81f7"/>
<rect x="647.60" y="457.20" width="1.25" height="55.80" fill="#4a5ffb"/>
<rect x="648.60" y="457.20" width="1.25" height="55.80" fill="#4a85f6"/>
<rect x="649.60" y="457.20" width="1.25" height="55.80" fill="#4a80f7"/>
<rect x="650.60" y="457.20" width="1.25" height="55.80" fill="#4b71fa"/>
<rect x="651.60" y="457.20" width="0.35" height="55.80" fill="#4a63fb"/>
<rect x="495.10" y="513.00" width="1.15" height="55.60" fill="#4536e6"/>
<rect x="496.00" y="513.00" width="1.25" height="55.60" fill="#4b72fa"/>
<rect x="497.00" y="513.00" width="1.25" height="55.60" fill="#4b79f9"/>
<rect x="498.00" y="513.00" width="1.25" height="55.60" fill="#4b68fc"/>
<rect x="499.00" y="513.00" width="1.25" height="55.60" fill="#4b71fb"/>
<rect x="500.00" y="513.00" width="1.25" height="55.60" fill="#463ced"/>
<rect x="501.00" y="513.00" width="1.25" height="55.60" fill="#4740f0"/>
<rect x="502.00" y="513.00" width="1.25" height="55.60" fill="#4b76f9"/>
<rect x="503.00" y="513.00" width="1.25" height="55.60" fill="#4638ea"/>
<rect x="504.00" y="513.00" width="0.85" height="55.60" fill="#4b6afc"/>
<rect x="504.60" y="513.00" width="1.25" height="55.60" fill="#7bca63"/>
<rect x="505.60" y="513.00" width="1.25" height="55.60" fill="#4dc897"/>
<rect x="506.60" y="513.00" width="1.25" height="55.60" fill="#6bcb6f"/>
<rect x="507.60" y="513.00" width="1.25" height="55.60" fill="#59cc80"/>
<rect x="508.60" y="513.00" width="1.25" height="55.60" fill="#68cc72"/>
<rect x="509.60" y="513.00" width="1.25" height="55.60" fill="#3fc1b4"/>
<rect x="510.60" y="513.00" width="1.25" height="55.60" fill="#42c4ab"/>
<rect x="511.60" y="513.00" width="1.25" height="55.60" fill="#50c991"/>
<rect x="512.60" y="513.00" width="1.25" height="55.60" fill="#6ccb6f"/>
<rect x="513.60" y="513.00" width="1.25" height="55.60" fill="#57cc82"/>
<rect x="514.60" y="513.00" width="1.25" height="55.60" fill="#51ca8e"/>
<rect x="515.60" y="513.00" width="1.25" height="55.60" fill="#50c990"/>
<rect x="516.60" y="513.00" width="1.25" height="55.60" fill="#5fcd79"/>
<rect x="517.60" y="513.00" width="1.25" height="55.60" fill="#70cb6c"/>
<rect x="518.60" y="513.00" width="1.25" height="55.60" fill="#f2f136"/>
<rect x="519.60" y="513.00" width="1.25" height="55.60" fill="#f1e034"/>
<rect x="520.60" y="513.00" width="1.25" height="55.60" fill="#7ec960"/>
<rect x="521.60" y="513.00" width="1.25" height="55.60" fill="#62cc76"/>
<rect x="522.60" y="513.00" width="1.25" height="55.60" fill="#7bca63"/>
<rect x="523.60" y="513.00" width="1.25" height="55.60" fill="#68cc72"/>
<rect x="524.60" y="513.00" width="1.25" height="55.60" fill="#e3b43e"/>
<rect x="525.60" y="513.00" width="1.25" height="55.60" fill="#a8c24a"/>
<rect x="526.60" y="513.00" width="1.25" height="55.60" fill="#50c991"/>
<rect x="527.60" y="513.00" width="1.25" height="55.60" fill="#64cc75"/>
<rect x="528.60" y="513.00" width="1.25" height="55.60" fill="#f2f837"/>
<rect x="529.60" y="513.00" width="1.25" height="55.60" fill="#6dcb6e"/>
<rect x="530.60" y="513.00" width="1.25" height="55.60" fill="#e9b43d"/>
<rect x="531.60" y="513.00" width="1.25" height="55.60" fill="#5fcc79"/>
<rect x="532.60" y="513.00" width="1.25" height="55.60" fill="#3fbebb"/>
<rect x="533.60" y="513.00" width="1.25" height="55.60" fill="#84c95c"/>
<rect x="534.60" y="513.00" width="1.25" height="55.60" fill="#3ebbc1"/>
<rect x="535.60" y="513.00" width="1.25" height="55.60" fill="#adc148"/>
<rect x="536.60" y="513.00" width="1.25" height="55.60" fill="#4ac79b"/>
<rect x="537.60" y="513.00" width="1.25" height="55.60" fill="#edc336"/>
<rect x="538.60" y="513.00" width="1.25" height="55.60" fill="#f2f236"/>
<rect x="539.60" y="513.00" width="1.25" height="55.60" fill="#60cc78"/>
<rect x="540.60" y="513.00" width="1.25" height="55.60" fill="#6dcb6d"/>
<rect x="541.60" y="513.00" width="1.25" height="55.60" fill="#4fc993"/>
<rect x="542.60" y="513.00" width="1.25" height="55.60" fill="#57cc84"/>
<rect x="543.60" y="513.00" width="1.25" height="55.60" fill="#e1b43f"/>
<rect x="544.60" y="513.00" width="1.25" height="55.60" fill="#5fcc79"/>
<rect x="545.60" y="513.00" width="1.25" height="55.60" fill="#59cd7e"/>
<rect x="546.60" y="513.00" width="1.25" height="55.60" fill="#6dcb6e"/>
<rect x="547.60" y="513.00" width="1.25" height="55.60" fill="#a8c24a"/>
<rect x="548.60" y="513.00" width="1.25" height="55.60" fill="#f0d533"/>
<rect x="549.60" y="513.00" width="1.25" height="55.60" fill="#62cc77"/>
<rect x="550.60" y="513.00" width="1.25" height="55.60" fill="#6ecb6d"/>
<rect x="551.60" y="513.00" width="1.25" height="55.60" fill="#f1eb36"/>
<rect x="552.60" y="513.00" width="1.25" height="55.60" fill="#54cb88"/>
<rect x="553.60" y="513.00" width="1.25" height="55.60" fill="#7ec960"/>
<rect x="554.60" y="513.00" width="1.25" height="55.60" fill="#6bcb6f"/>
<rect x="555.60" y="513.00" width="1.25" height="55.60" fill="#40c2b1"/>
<rect x="556.60" y="513.00" width="1.25" height="55.60" fill="#6acb70"/>
<rect x="557.60" y="513.00" width="1.25" height="55.60" fill="#82c95d"/>
<rect x="558.60" y="513.00" width="1.25" height="55.60" fill="#f1e134"/>
<rect x="559.60" y="513.00" width="1.25" height="55.60" fill="#3fbeba"/>
<rect x="560.60" y="513.00" width="1.25" height="55.60" fill="#6ccb6e"/>
<rect x="561.60" y="513.00" width="1.25" height="55.60" fill="#f1de34"/>
<rect x="562.60" y="513.00" width="1.25" height="55.60" fill="#f1eb35"/>
<rect x="563.60" y="513.00" width="1.25" height="55.60" fill="#5acd7e"/>
<rect x="564.60" y="513.00" width="1.25" height="55.60" fill="#53ca8a"/>
<rect x="565.60" y="513.00" width="1.25" height="55.60" fill="#d1b840"/>
<rect x="566.60" y="513.00" width="1.25" height="55.60" fill="#56cb85"/>
<rect x="567.60" y="513.00" width="1.25" height="55.60" fill="#e7b23e"/>
<rect x="568.60" y="513.00" width="1.25" height="55.60" fill="#7cca62"/>
<rect x="569.60" y="513.00" width="1.25" height="55.60" fill="#47c6a1"/>
<rect x="570.60" y="513.00" width="1.25" height="55.60" fill="#49c69f"/>
<rect x="571.60" y="513.00" width="1.25" height="55.60" fill="#59cc80"/>
<rect x="572.60" y="513.00" width="1.25" height="55.60" fill="#63cc76"/>
<rect x="573.60" y="513.00" width="1.25" height="55.60" fill="#4ec895"/>
<rect x="574.60" y="513.00" width="1.25" height="55.60" fill="#6fcb6c"/>
<rect x="575.60" y="513.00" width="1.25" height="55.60" fill="#e9b53d"/>
<rect x="576.60" y="513.00" width="1.25" height="55.60" fill="#46c5a4"/>
<rect x="577.60" y="513.00" width="1.25" height="55.60" fill="#5ecd7a"/>
<rect x="578.60" y="513.00" width="1.25" height="55.60" fill="#f1df34"/>
<rect x="579.60" y="513.00" width="1.25" height="55.60" fill="#64cc75"/>
<rect x="580.60" y="513.00" width="1.25" height="55.60" fill="#7aca63"/>
<rect x="581.60" y="513.00" width="1.25" height="55.60" fill="#45c5a6"/>
<rect x="582.60" y="513.00" width="1.25" height="55.60" fill="#75ca67"/>
<rect x="583.60" y="513.00" width="1.25" height="55.60" fill="#3ebac3"/>
<rect x="584.60" y="513.00" width="1.25" height="55.60" fill="#f0cf32"/>
<rect x="585.60" y="513.00" width="1.25" height="55.60" fill="#5ecd7a"/>
<rect x="586.60" y="513.00" width="1.25" height="55.60" fill="#f1e935"/>
<rect x="587.60" y="513.00" width="1.25" height="55.60" fill="#f1e835"/>
<rect x="588.60" y="513.00" width="1.25" height="55.60" fill="#77ca66"/>
<rect x="589.60" y="513.00" width="1.25" height="55.60" fill="#f1e535"/>
<rect x="590.60" y="513.00" width="1.25" height="55.60" fill="#f1ec36"/>
<rect x="591.60" y="513.00" width="1.25" height="55.60" fill="#f0d333"/>
<rect x="592.60" y="513.00" width="1.25" height="55.60" fill="#5fcd79"/>
<rect x="593.60" y="513.00" width="1.25" height="55.60" fill="#4fc991"/>
<rect x="594.60" y="513.00" width="1.25" height="55.60" fill="#59cd7f"/>
<rect x="595.60" y="513.00" width="1.25" height="55.60" fill="#86c959"/>
<rect x="596.60" y="513.00" width="1.25" height="55.60" fill="#53ca8b"/>
<rect x="597.60" y="513.00" width="1.25" height="55.60" fill="#96c651"/>
<rect x="598.60" y="513.00" width="1.25" height="55.60" fill="#45c5a6"/>
<rect x="599.60" y="513.00" width="1.25" height="55.60" fill="#8ac856"/>
<rect x="600.60" y="513.00" width="1.25" height="55.60" fill="#4dc896"/>
<rect x="601.60" y="513.00" width="1.25" height="55.60" fill="#88c858"/>
<rect x="602.60" y="513.00" width="1.25" height="55.60" fill="#70cb6b"/>
<rect x="603.60" y="513.00" width="1.25" height="55.60" fill="#f1d833"/>
<rect x="604.60" y="513.00" width="1.25" height="55.60" fill="#83c95c"/>
<rect x="605.60" y="513.00" width="1.25" height="55.60" fill="#3ebdbe"/>
<rect x="606.60" y="513.00" width="1.25" height="55.60" fill="#8cc855"/>
<rect x="607.60" y="513.00" width="1.25" height="55.60" fill="#41c3ae"/>
<rect x="608.60" y="513.00" width="1.25" height="55.60" fill="#70cb6b"/>
<rect x="609.60" y="513.00" width="1.25" height="55.60" fill="#f2f236"/>
<rect x="610.60" y="513.00" width="1.25" height="55.60" fill="#4cc898"/>
<rect x="611.60" y="513.00" width="1.25" height="55.60" fill="#7bca63"/>
<rect x="612.60" y="513.00" width="1.25" height="55.60" fill="#e9b63c"/>
<rect x="613.60" y="513.00" width="1.25" height="55.60" fill="#45c5a5"/>
<rect x="614.60" y="513.00" width="1.25" height="55.60" fill="#5fcc79"/>
<rect x="615.60" y="513.00" width="1.25" height="55.60" fill="#3ebcbf"/>
<rect x="616.60" y="513.00" width="1.25" height="55.60" fill="#80c95f"/>
<rect x="617.60" y="513.00" width="1.25" height="55.60" fill="#f1df34"/>
<rect x="618.60" y="513.00" width="1.25" height="55.60" fill="#f1de34"/>
<rect x="619.60" y="513.00" width="1.25" height="55.60" fill="#69cc71"/>
<rect x="620.60" y="513.00" width="1.25" height="55.60" fill="#60cc78"/>
<rect x="621.60" y="513.00" width="1.25" height="55.60" fill="#47c6a2"/>
<rect x="622.60" y="513.00" width="1.25" height="55.60" fill="#3ebdbc"/>
<rect x="623.60" y="513.00" width="1.25" height="55.60" fill="#60cc78"/>
<rect x="624.60" y="513.00" width="1.25" height="55.60" fill="#5ccd7c"/>
<rect x="625.60" y="513.00" width="1.25" height="55.60" fill="#52ca8d"/>
<rect x="626.60" y="513.00" width="1.25" height="55.60" fill="#cdba40"/>
<rect x="627.60" y="513.00" width="1.25" height="55.60" fill="#f0d333"/>
<rect x="628.60" y="513.00" width="1.25" height="55.60" fill="#6ccb6f"/>
<rect x="629.60" y="513.00" width="1.25" height="55.60" fill="#50c990"/>
<rect x="630.60" y="513.00" width="1.25" height="55.60" fill="#49c69e"/>
<rect x="631.60" y="513.00" width="1.25" height="55.60" fill="#40c3ae"/>
<rect x="632.60" y="513.00" width="1.25" height="55.60" fill="#82c95d"/>
<rect x="633.60" y="513.00" width="1.25" height="55.60" fill="#66cc73"/>
<rect x="634.60" y="513.00" width="1.25" height="55.60" fill="#5acd7d"/>
<rect x="635.60" y="513.00" width="1.25" height="55.60" fill="#9dc54e"/>
<rect x="636.60" y="513.00" width="1.25" height="55.60" fill="#3fc1b4"/>
<rect x="637.60" y="513.00" width="1.25" height="55.60" fill="#78ca65"/>
<rect x="638.60" y="513.00" width="1.25" height="55.60" fill="#56cb85"/>
<rect x="639.60" y="513.00" width="1.25" height="55.60" fill="#54cb89"/>
<rect x="640.60" y="513.00" width="1.25" height="55.60" fill="#58cc81"/>
<rect x="641.60" y="513.00" width="1.25" height="55.60" fill="#6fcb6c"/>
<rect x="642.60" y="513.00" width="1.25" height="55.60" fill="#4dc896"/>
<rect x="643.60" y="513.00" width="1.25" height="55.60" fill="#73cb69"/>
<rect x="644.60" y="513.00" width="1.25" height="55.60" fill="#3ebac4"/>
<rect x="645.60" y="513.00" width="1.25" height="55.60" fill="#f1e134"/>
<rect x="646.60" y="513.00" width="1.25" height="55.60" fill="#52ca8c"/>
<rect x="647.60" y="513.00" width="1.25" height="55.60" fill="#f1e835"/>
<rect x="648.60" y="513.00" width="1.25" height="55.60" fill="#5bcd7d"/>
<rect x="649.60" y="513.00" width="1.25" height="55.60" fill="#cfb940"/>
<rect x="650.60" y="513.00" width="1.25" height="55.60" fill="#3cb2d4"/>
<rect x="651.60" y="513.00" width="0.35" height="55.60" fill="#7dc961"/>
<line x1="504.30" y1="457.20" x2="504.30" y2="568.60" stroke="#000" stroke-width="1.2" stroke-dasharray="4.4 2.6"/>
<rect x="656.40" y="457.20" width="9.00" height="111.40" fill="url(#pg)"/>
<text x="668.00" y="464.32" font-size="12.9">5</text>
<text x="667.00" y="574.02" font-size="12.9">-2</text>
<line x1="663.40" y1="473.11" x2="665.40" y2="473.11" stroke="#222" stroke-width="0.6"/>
<line x1="663.40" y1="489.03" x2="665.40" y2="489.03" stroke="#222" stroke-width="0.6"/>
<line x1="663.40" y1="504.94" x2="665.40" y2="504.94" stroke="#222" stroke-width="0.6"/>
<line x1="663.40" y1="520.86" x2="665.40" y2="520.86" stroke="#222" stroke-width="0.6"/>
<line x1="663.40" y1="536.77" x2="665.40" y2="536.77" stroke="#222" stroke-width="0.6"/>
<line x1="663.40" y1="552.69" x2="665.40" y2="552.69" stroke="#222" stroke-width="0.6"/>
<line x1="649.90" y1="485.05" x2="651.70" y2="485.05" stroke="#222" stroke-width="0.6"/>
<line x1="649.90" y1="512.90" x2="651.70" y2="512.90" stroke="#222" stroke-width="0.6"/>
<line x1="649.90" y1="540.75" x2="651.70" y2="540.75" stroke="#222" stroke-width="0.6"/>
<line x1="504.60" y1="568.60" x2="504.60" y2="571.40" stroke="#000" stroke-width="1.0"/>
<line x1="516.86" y1="568.60" x2="516.86" y2="571.40" stroke="#000" stroke-width="1.0"/>
<line x1="529.12" y1="568.60" x2="529.12" y2="571.40" stroke="#000" stroke-width="1.0"/>
<line x1="541.38" y1="568.60" x2="541.38" y2="571.40" stroke="#000" stroke-width="1.0"/>
<line x1="553.63" y1="568.60" x2="553.63" y2="571.40" stroke="#000" stroke-width="1.0"/>
<line x1="565.89" y1="568.60" x2="565.89" y2="571.40" stroke="#000" stroke-width="1.0"/>
<line x1="578.15" y1="568.60" x2="578.15" y2="571.40" stroke="#000" stroke-width="1.0"/>
<line x1="590.41" y1="568.60" x2="590.41" y2="571.40" stroke="#000" stroke-width="1.0"/>
<line x1="602.67" y1="568.60" x2="602.67" y2="571.40" stroke="#000" stroke-width="1.0"/>
<line x1="614.93" y1="568.60" x2="614.93" y2="571.40" stroke="#000" stroke-width="1.0"/>
<line x1="627.18" y1="568.60" x2="627.18" y2="571.40" stroke="#000" stroke-width="1.0"/>
<line x1="639.44" y1="568.60" x2="639.44" y2="571.40" stroke="#000" stroke-width="1.0"/>
<line x1="651.70" y1="568.60" x2="651.70" y2="571.40" stroke="#000" stroke-width="1.0"/>
<text x="504.60" y="585.22" font-size="12.9" text-anchor="middle">0</text>
<text x="529.12" y="585.22" font-size="12.9" text-anchor="middle">10</text>
<text x="553.63" y="585.22" font-size="12.9" text-anchor="middle">20</text>
<text x="578.15" y="585.22" font-size="12.9" text-anchor="middle">30</text>
<text x="602.67" y="585.22" font-size="12.9" text-anchor="middle">40</text>
<text x="627.18" y="585.22" font-size="12.9" text-anchor="middle">50</text>
<text x="651.70" y="585.22" font-size="12.9" text-anchor="middle">60</text>
<text x="582.00" y="600.62" font-size="12.9" text-anchor="middle">Time (min)</text>
<text x="484.20" y="455.32" font-size="12.9">Veh/CNO</text>
<text x="471.28" y="511.00" font-size="12.8" text-anchor="middle" transform="rotate(-90 471.28 511.00)">&#916;F/F (%)</text>
<text x="489.62" y="484.10" font-size="12.9" text-anchor="middle" transform="rotate(-90 489.62 484.10)">Veh</text>
<text x="489.62" y="538.50" font-size="12.9" text-anchor="middle" transform="rotate(-90 489.62 538.50)">CNO</text>
<text x="472.09" y="580.60" font-size="10.3" text-anchor="middle" transform="rotate(-90 472.09 580.60)">&#916;F/F (%)</text>
<path d="M475.8 577.4 V587.9 H487.7" fill="none" stroke="#000" stroke-width="1.3"/>
<text x="475.10" y="599.78" font-size="10">30 s</text>
<rect x="494.90" y="640.30" width="156.80" height="110.70" fill="#4a8af5"/>
<rect x="494.90" y="640.30" width="0.35" height="55.30" fill="#4a82f7"/>
<rect x="495.00" y="640.30" width="1.25" height="55.30" fill="#40a0e8"/>
<rect x="496.00" y="640.30" width="1.25" height="55.30" fill="#4b72fa"/>
<rect x="497.00" y="640.30" width="1.25" height="55.30" fill="#4a85f6"/>
<rect x="498.00" y="640.30" width="1.25" height="55.30" fill="#4a83f6"/>
<rect x="499.00" y="640.30" width="1.25" height="55.30" fill="#4a84f6"/>
<rect x="500.00" y="640.30" width="1.25" height="55.30" fill="#4791f1"/>
<rect x="501.00" y="640.30" width="1.25" height="55.30" fill="#4a8af5"/>
<rect x="502.00" y="640.30" width="1.25" height="55.30" fill="#498cf4"/>
<rect x="503.00" y="640.30" width="1.05" height="55.30" fill="#3fa3e5"/>
<rect x="503.80" y="640.30" width="1.25" height="55.30" fill="#3eacda"/>
<rect x="504.80" y="640.30" width="1.25" height="55.30" fill="#40a2e5"/>
<rect x="505.80" y="640.30" width="1.25" height="55.30" fill="#498df3"/>
<rect x="506.80" y="640.30" width="1.25" height="55.30" fill="#3db7ca"/>
<rect x="507.80" y="640.30" width="1.25" height="55.30" fill="#4594ef"/>
<rect x="508.80" y="640.30" width="1.25" height="55.30" fill="#4692f0"/>
<rect x="509.80" y="640.30" width="1.25" height="55.30" fill="#4791f1"/>
<rect x="510.80" y="640.30" width="1.25" height="55.30" fill="#3fa6e2"/>
<rect x="511.80" y="640.30" width="1.25" height="55.30" fill="#3cb3d3"/>
<rect x="512.80" y="640.30" width="1.25" height="55.30" fill="#4692f0"/>
<rect x="513.80" y="640.30" width="1.25" height="55.30" fill="#4a7df8"/>
<rect x="514.80" y="640.30" width="1.25" height="55.30" fill="#4496ee"/>
<rect x="515.80" y="640.30" width="1.25" height="55.30" fill="#3cb4d2"/>
<rect x="516.80" y="640.30" width="1.25" height="55.30" fill="#3cb3d3"/>
<rect x="517.80" y="640.30" width="1.25" height="55.30" fill="#4692f0"/>
<rect x="518.80" y="640.30" width="1.25" height="55.30" fill="#4790f2"/>
<rect x="519.80" y="640.30" width="1.25" height="55.30" fill="#4496ee"/>
<rect x="520.80" y="640.30" width="1.25" height="55.30" fill="#8cc855"/>
<rect x="521.80" y="640.30" width="1.25" height="55.30" fill="#4a86f6"/>
<rect x="522.80" y="640.30" width="1.25" height="55.30" fill="#4595ee"/>
<rect x="523.80" y="640.30" width="1.25" height="55.30" fill="#3db1d6"/>
<rect x="524.80" y="640.30" width="1.25" height="55.30" fill="#b2c046"/>
<rect x="525.80" y="640.30" width="1.25" height="55.30" fill="#4a84f6"/>
<rect x="526.80" y="640.30" width="1.25" height="55.30" fill="#498cf4"/>
<rect x="527.80" y="640.30" width="1.25" height="55.30" fill="#3fa6e1"/>
<rect x="528.80" y="640.30" width="1.25" height="55.30" fill="#488ff2"/>
<rect x="529.80" y="640.30" width="1.25" height="55.30" fill="#3db1d5"/>
<rect x="530.80" y="640.30" width="1.25" height="55.30" fill="#3ea9de"/>
<rect x="531.80" y="640.30" width="1.25" height="55.30" fill="#4a88f5"/>
<rect x="532.80" y="640.30" width="1.25" height="55.30" fill="#3cb5d0"/>
<rect x="533.80" y="640.30" width="1.25" height="55.30" fill="#3cb2d4"/>
<rect x="534.80" y="640.30" width="1.25" height="55.30" fill="#3dafd7"/>
<rect x="535.80" y="640.30" width="1.25" height="55.30" fill="#3fa3e5"/>
<rect x="536.80" y="640.30" width="1.25" height="55.30" fill="#7aca64"/>
<rect x="537.80" y="640.30" width="1.25" height="55.30" fill="#3ebac4"/>
<rect x="538.80" y="640.30" width="1.25" height="55.30" fill="#4791f1"/>
<rect x="539.80" y="640.30" width="1.25" height="55.30" fill="#4791f1"/>
<rect x="540.80" y="640.30" width="1.25" height="55.30" fill="#4497ed"/>
<rect x="541.80" y="640.30" width="1.25" height="55.30" fill="#498df3"/>
<rect x="542.80" y="640.30" width="1.25" height="55.30" fill="#3ea8df"/>
<rect x="543.80" y="640.30" width="1.25" height="55.30" fill="#4692f0"/>
<rect x="544.80" y="640.30" width="1.25" height="55.30" fill="#4a7ff7"/>
<rect x="545.80" y="640.30" width="1.25" height="55.30" fill="#3eabdc"/>
<rect x="546.80" y="640.30" width="1.25" height="55.30" fill="#429beb"/>
<rect x="547.80" y="640.30" width="1.25" height="55.30" fill="#4496ee"/>
<rect x="548.80" y="640.30" width="1.25" height="55.30" fill="#488ef3"/>
<rect x="549.80" y="640.30" width="1.25" height="55.30" fill="#40a2e6"/>
<rect x="550.80" y="640.30" width="1.25" height="55.30" fill="#4497ed"/>
<rect x="551.80" y="640.30" width="1.25" height="55.30" fill="#3eabdc"/>
<rect x="552.80" y="640.30" width="1.25" height="55.30" fill="#7bca63"/>
<rect x="553.80" y="640.30" width="1.25" height="55.30" fill="#40a2e6"/>
<rect x="554.80" y="640.30" width="1.25" height="55.30" fill="#3fa3e5"/>
<rect x="555.80" y="640.30" width="1.25" height="55.30" fill="#4694ef"/>
<rect x="556.80" y="640.30" width="1.25" height="55.30" fill="#4791f1"/>
<rect x="557.80" y="640.30" width="1.25" height="55.30" fill="#3cb3d3"/>
<rect x="558.80" y="640.30" width="1.25" height="55.30" fill="#488ef3"/>
<rect x="559.80" y="640.30" width="1.25" height="55.30" fill="#3daed9"/>
<rect x="560.80" y="640.30" width="1.25" height="55.30" fill="#3daed9"/>
<rect x="561.80" y="640.30" width="1.25" height="55.30" fill="#3cb4d2"/>
<rect x="562.80" y="640.30" width="1.25" height="55.30" fill="#3dafd7"/>
<rect x="563.80" y="640.30" width="1.25" height="55.30" fill="#419dea"/>
<rect x="564.80" y="640.30" width="1.25" height="55.30" fill="#4399ec"/>
<rect x="565.80" y="640.30" width="1.25" height="55.30" fill="#3daed9"/>
<rect x="566.80" y="640.30" width="1.25" height="55.30" fill="#4a7cf8"/>
<rect x="567.80" y="640.30" width="1.25" height="55.30" fill="#4498ed"/>
<rect x="568.80" y="640.30" width="1.25" height="55.30" fill="#4692f0"/>
<rect x="569.80" y="640.30" width="1.25" height="55.30" fill="#3db8c9"/>
<rect x="570.80" y="640.30" width="1.25" height="55.30" fill="#4596ee"/>
<rect x="571.80" y="640.30" width="1.25" height="55.30" fill="#4693f0"/>
<rect x="572.80" y="640.30" width="1.25" height="55.30" fill="#3cb4d2"/>
<rect x="573.80" y="640.30" width="1.25" height="55.30" fill="#4693f0"/>
<rect x="574.80" y="640.30" width="1.25" height="55.30" fill="#a6c34b"/>
<rect x="575.80" y="640.30" width="1.25" height="55.30" fill="#4791f1"/>
<rect x="576.80" y="640.30" width="1.25" height="55.30" fill="#61cc77"/>
<rect x="577.80" y="640.30" width="1.25" height="55.30" fill="#40a1e7"/>
<rect x="578.80" y="640.30" width="1.25" height="55.30" fill="#498df3"/>
<rect x="579.80" y="640.30" width="1.25" height="55.30" fill="#3db6cc"/>
<rect x="580.80" y="640.30" width="1.25" height="55.30" fill="#4693ef"/>
<rect x="581.80" y="640.30" width="1.25" height="55.30" fill="#488ef3"/>
<rect x="582.80" y="640.30" width="1.25" height="55.30" fill="#4a81f7"/>
<rect x="583.80" y="640.30" width="1.25" height="55.30" fill="#40a1e7"/>
<rect x="584.80" y="640.30" width="1.25" height="55.30" fill="#3daed9"/>
<rect x="585.80" y="640.30" width="1.25" height="55.30" fill="#4a8af5"/>
<rect x="586.80" y="640.30" width="1.25" height="55.30" fill="#3fa6e1"/>
<rect x="587.80" y="640.30" width="1.25" height="55.30" fill="#4594ef"/>
<rect x="588.80" y="640.30" width="1.25" height="55.30" fill="#419ee9"/>
<rect x="589.80" y="640.30" width="1.25" height="55.30" fill="#3db6cd"/>
<rect x="590.80" y="640.30" width="1.25" height="55.30" fill="#3daed9"/>
<rect x="591.80" y="640.30" width="1.25" height="55.30" fill="#3ea8df"/>
<rect x="592.80" y="640.30" width="1.25" height="55.30" fill="#4791f1"/>
<rect x="593.80" y="640.30" width="1.25" height="55.30" fill="#3eacda"/>
<rect x="594.80" y="640.30" width="1.25" height="55.30" fill="#4692f0"/>
<rect x="595.80" y="640.30" width="1.25" height="55.30" fill="#488ef3"/>
<rect x="596.80" y="640.30" width="1.25" height="55.30" fill="#3eabdc"/>
<rect x="597.80" y="640.30" width="1.25" height="55.30" fill="#4790f2"/>
<rect x="598.80" y="640.30" width="1.25" height="55.30" fill="#5ecd79"/>
<rect x="599.80" y="640.30" width="1.25" height="55.30" fill="#40c2b1"/>
<rect x="600.80" y="640.30" width="1.25" height="55.30" fill="#3fa7e0"/>
<rect x="601.80" y="640.30" width="1.25" height="55.30" fill="#498df3"/>
<rect x="602.80" y="640.30" width="1.25" height="55.30" fill="#3db0d6"/>
<rect x="603.80" y="640.30" width="1.25" height="55.30" fill="#4790f1"/>
<rect x="604.80" y="640.30" width="1.25" height="55.30" fill="#4693f0"/>
<rect x="605.80" y="640.30" width="1.25" height="55.30" fill="#a2c44c"/>
<rect x="606.80" y="640.30" width="1.25" height="55.30" fill="#3eaadd"/>
<rect x="607.80" y="640.30" width="1.25" height="55.30" fill="#4a88f5"/>
<rect x="608.80" y="640.30" width="1.25" height="55.30" fill="#3eaadd"/>
<rect x="609.80" y="640.30" width="1.25" height="55.30" fill="#488ff2"/>
<rect x="610.80" y="640.30" width="1.25" height="55.30" fill="#4498ed"/>
<rect x="611.80" y="640.30" width="1.25" height="55.30" fill="#4791f1"/>
<rect x="612.80" y="640.30" width="1.25" height="55.30" fill="#488ff2"/>
<rect x="613.80" y="640.30" width="1.25" height="55.30" fill="#3db1d5"/>
<rect x="614.80" y="640.30" width="1.25" height="55.30" fill="#3daed9"/>
<rect x="615.80" y="640.30" width="1.25" height="55.30" fill="#3eacdb"/>
<rect x="616.80" y="640.30" width="1.25" height="55.30" fill="#4692f0"/>
<rect x="617.80" y="640.30" width="1.25" height="55.30" fill="#4595ee"/>
<rect x="618.80" y="640.30" width="1.25" height="55.30" fill="#4791f1"/>
<rect x="619.80" y="640.30" width="1.25" height="55.30" fill="#3ebac3"/>
<rect x="620.80" y="640.30" width="1.25" height="55.30" fill="#3fa3e4"/>
<rect x="621.80" y="640.30" width="1.25" height="55.30" fill="#94c652"/>
<rect x="622.80" y="640.30" width="1.25" height="55.30" fill="#4693f0"/>
<rect x="623.80" y="640.30" width="1.25" height="55.30" fill="#3fa3e5"/>
<rect x="624.80" y="640.30" width="1.25" height="55.30" fill="#3eacdb"/>
<rect x="625.80" y="640.30" width="1.25" height="55.30" fill="#4791f1"/>
<rect x="626.80" y="640.30" width="1.25" height="55.30" fill="#4595ef"/>
<rect x="627.80" y="640.30" width="1.25" height="55.30" fill="#40a2e5"/>
<rect x="628.80" y="640.30" width="1.25" height="55.30" fill="#498cf4"/>
<rect x="629.80" y="640.30" width="1.25" height="55.30" fill="#488ef3"/>
<rect x="630.80" y="640.30" width="1.25" height="55.30" fill="#4693f0"/>
<rect x="631.80" y="640.30" width="1.25" height="55.30" fill="#498df3"/>
<rect x="632.80" y="640.30" width="1.25" height="55.30" fill="#4a83f7"/>
<rect x="633.80" y="640.30" width="1.25" height="55.30" fill="#3fa6e1"/>
<rect x="634.80" y="640.30" width="1.25" height="55.30" fill="#3cb3d3"/>
<rect x="635.80" y="640.30" width="1.25" height="55.30" fill="#3cb6ce"/>
<rect x="636.80" y="640.30" width="1.25" height="55.30" fill="#4a87f6"/>
<rect x="637.80" y="640.30" width="1.25" height="55.30" fill="#488ff2"/>
<rect x="638.80" y="640.30" width="1.25" height="55.30" fill="#3dadda"/>
<rect x="639.80" y="640.30" width="1.25" height="55.30" fill="#4694ef"/>
<rect x="640.80" y="640.30" width="1.25" height="55.30" fill="#3fa5e2"/>
<rect x="641.80" y="640.30" width="1.25" height="55.30" fill="#4398ed"/>
<rect x="642.80" y="640.30" width="1.25" height="55.30" fill="#4596ee"/>
<rect x="643.80" y="640.30" width="1.25" height="55.30" fill="#4790f1"/>
<rect x="644.80" y="640.30" width="1.25" height="55.30" fill="#6acb70"/>
<rect x="645.80" y="640.30" width="1.25" height="55.30" fill="#4692f0"/>
<rect x="646.80" y="640.30" width="1.25" height="55.30" fill="#4693f0"/>
<rect x="647.80" y="640.30" width="1.25" height="55.30" fill="#3db7ca"/>
<rect x="648.80" y="640.30" width="1.25" height="55.30" fill="#488ff2"/>
<rect x="649.80" y="640.30" width="1.25" height="55.30" fill="#3fa6e1"/>
<rect x="650.80" y="640.30" width="1.15" height="55.30" fill="#3eabdc"/>
<rect x="494.90" y="695.60" width="0.35" height="55.40" fill="#3cb6ce"/>
<rect x="495.00" y="695.60" width="1.25" height="55.40" fill="#3cb6ce"/>
<rect x="496.00" y="695.60" width="1.25" height="55.40" fill="#3cb6ce"/>
<rect x="497.00" y="695.60" width="1.25" height="55.40" fill="#3cb6ce"/>
<rect x="498.00" y="695.60" width="1.25" height="55.40" fill="#3cb6ce"/>
<rect x="499.00" y="695.60" width="1.25" height="55.40" fill="#3cb6ce"/>
<rect x="500.00" y="695.60" width="1.25" height="55.40" fill="#3cb6ce"/>
<rect x="501.00" y="695.60" width="1.25" height="55.40" fill="#4a7cf8"/>
<rect x="502.00" y="695.60" width="1.25" height="55.40" fill="#4a7cf8"/>
<rect x="503.00" y="695.60" width="1.05" height="55.40" fill="#4a7cf8"/>
<rect x="503.80" y="695.60" width="1.25" height="55.40" fill="#3e26b5"/>
<rect x="504.80" y="695.60" width="1.25" height="55.40" fill="#3f27ba"/>
<rect x="505.80" y="695.60" width="1.25" height="55.40" fill="#3e26b2"/>
<rect x="506.80" y="695.60" width="1.25" height="55.40" fill="#3e26b2"/>
<rect x="507.80" y="695.60" width="1.25" height="55.40" fill="#3e26b5"/>
<rect x="508.80" y="695.60" width="1.25" height="55.40" fill="#3e26b5"/>
<rect x="509.80" y="695.60" width="1.25" height="55.40" fill="#4129c9"/>
<rect x="510.80" y="695.60" width="1.25" height="55.40" fill="#3f27bc"/>
<rect x="511.80" y="695.60" width="1.25" height="55.40" fill="#3f27b9"/>
<rect x="512.80" y="695.60" width="1.25" height="55.40" fill="#3f27ba"/>
<rect x="513.80" y="695.60" width="1.25" height="55.40" fill="#3e26b2"/>
<rect x="514.80" y="695.60" width="1.25" height="55.40" fill="#4028bd"/>
<rect x="515.80" y="695.60" width="1.25" height="55.40" fill="#3e26b2"/>
<rect x="516.80" y="695.60" width="1.25" height="55.40" fill="#3e26b2"/>
<rect x="517.80" y="695.60" width="1.25" height="55.40" fill="#3f27b7"/>
<rect x="518.80" y="695.60" width="1.25" height="55.40" fill="#3e26b2"/>
<rect x="519.80" y="695.60" width="1.25" height="55.40" fill="#4a80f7"/>
<rect x="520.80" y="695.60" width="1.25" height="55.40" fill="#4a81f7"/>
<rect x="521.80" y="695.60" width="1.25" height="55.40" fill="#4b69fc"/>
<rect x="522.80" y="695.60" width="1.25" height="55.40" fill="#4b77f9"/>
<rect x="523.80" y="695.60" width="1.25" height="55.40" fill="#4a7ef8"/>
<rect x="524.80" y="695.60" width="1.25" height="55.40" fill="#4a82f7"/>
<rect x="525.80" y="695.60" width="1.25" height="55.40" fill="#4b79f9"/>
<rect x="526.80" y="695.60" width="1.25" height="55.40" fill="#4b73fa"/>
<rect x="527.80" y="695.60" width="1.25" height="55.40" fill="#463aeb"/>
<rect x="528.80" y="695.60" width="1.25" height="55.40" fill="#3f27b6"/>
<rect x="529.80" y="695.60" width="1.25" height="55.40" fill="#4028bf"/>
<rect x="530.80" y="695.60" width="1.25" height="55.40" fill="#3f27b9"/>
<rect x="531.80" y="695.60" width="1.25" height="55.40" fill="#3e26b2"/>
<rect x="532.80" y="695.60" width="1.25" height="55.40" fill="#3e26b2"/>
<rect x="533.80" y="695.60" width="1.25" height="55.40" fill="#4430d9"/>
<rect x="534.80" y="695.60" width="1.25" height="55.40" fill="#3e26b5"/>
<rect x="535.80" y="695.60" width="1.25" height="55.40" fill="#432fd7"/>
<rect x="536.80" y="695.60" width="1.25" height="55.40" fill="#3e26b2"/>
<rect x="537.80" y="695.60" width="1.25" height="55.40" fill="#3f27bc"/>
<rect x="538.80" y="695.60" width="1.25" height="55.40" fill="#3e26b3"/>
<rect x="539.80" y="695.60" width="1.25" height="55.40" fill="#484ef8"/>
<rect x="540.80" y="695.60" width="1.25" height="55.40" fill="#432fd8"/>
<rect x="541.80" y="695.60" width="1.25" height="55.40" fill="#3f27b9"/>
<rect x="542.80" y="695.60" width="1.25" height="55.40" fill="#4028bf"/>
<rect x="543.80" y="695.60" width="1.25" height="55.40" fill="#3e26b5"/>
<rect x="544.80" y="695.60" width="1.25" height="55.40" fill="#3f27b7"/>
<rect x="545.80" y="695.60" width="1.25" height="55.40" fill="#3e26b5"/>
<rect x="546.80" y="695.60" width="1.25" height="55.40" fill="#3f27ba"/>
<rect x="547.80" y="695.60" width="1.25" height="55.40" fill="#3f27ba"/>
<rect x="548.80" y="695.60" width="1.25" height="55.40" fill="#3f27bb"/>
<rect x="549.80" y="695.60" width="1.25" height="55.40" fill="#3e26b2"/>
<rect x="550.80" y="695.60" width="1.25" height="55.40" fill="#432cd2"/>
<rect x="551.80" y="695.60" width="1.25" height="55.40" fill="#4430da"/>
<rect x="552.80" y="695.60" width="1.25" height="55.40" fill="#3e26b4"/>
<rect x="553.80" y="695.60" width="1.25" height="55.40" fill="#4744f3"/>
<rect x="554.80" y="695.60" width="1.25" height="55.40" fill="#3f27b8"/>
<rect x="555.80" y="695.60" width="1.25" height="55.40" fill="#3f27ba"/>
<rect x="556.80" y="695.60" width="1.25" height="55.40" fill="#3e26b2"/>
<rect x="557.80" y="695.60" width="1.25" height="55.40" fill="#4743f2"/>
<rect x="558.80" y="695.60" width="1.25" height="55.40" fill="#3e26b5"/>
<rect x="559.80" y="695.60" width="1.25" height="55.40" fill="#484bf7"/>
<rect x="560.80" y="695.60" width="1.25" height="55.40" fill="#3f27b6"/>
<rect x="561.80" y="695.60" width="1.25" height="55.40" fill="#3e26b2"/>
<rect x="562.80" y="695.60" width="1.25" height="55.40" fill="#432dd3"/>
<rect x="563.80" y="695.60" width="1.25" height="55.40" fill="#3f27bc"/>
<rect x="564.80" y="695.60" width="1.25" height="55.40" fill="#3f27b6"/>
<rect x="565.80" y="695.60" width="1.25" height="55.40" fill="#3f27b6"/>
<rect x="566.80" y="695.60" width="1.25" height="55.40" fill="#3f27b9"/>
<rect x="567.80" y="695.60" width="1.25" height="55.40" fill="#4740f0"/>
<rect x="568.80" y="695.60" width="1.25" height="55.40" fill="#3f27bb"/>
<rect x="569.80" y="695.60" width="1.25" height="55.40" fill="#432cd2"/>
<rect x="570.80" y="695.60" width="1.25" height="55.40" fill="#432dd3"/>
<rect x="571.80" y="695.60" width="1.25" height="55.40" fill="#3f27b7"/>
<rect x="572.80" y="695.60" width="1.25" height="55.40" fill="#432ed5"/>
<rect x="573.80" y="695.60" width="1.25" height="55.40" fill="#3e26b2"/>
<rect x="574.80" y="695.60" width="1.25" height="55.40" fill="#3f27bb"/>
<rect x="575.80" y="695.60" width="1.25" height="55.40" fill="#3e26b3"/>
<rect x="576.80" y="695.60" width="1.25" height="55.40" fill="#463aeb"/>
<rect x="577.80" y="695.60" width="1.25" height="55.40" fill="#3e26b2"/>
<rect x="578.80" y="695.60" width="1.25" height="55.40" fill="#422bcf"/>
<rect x="579.80" y="695.60" width="1.25" height="55.40" fill="#3e26b2"/>
<rect x="580.80" y="695.60" width="1.25" height="55.40" fill="#3e26b2"/>
<rect x="581.80" y="695.60" width="1.25" height="55.40" fill="#3f27b7"/>
<rect x="582.80" y="695.60" width="1.25" height="55.40" fill="#484af7"/>
<rect x="583.80" y="695.60" width="1.25" height="55.40" fill="#3e26b2"/>
<rect x="584.80" y="695.60" width="1.25" height="55.40" fill="#432fd7"/>
<rect x="585.80" y="695.60" width="1.25" height="55.40" fill="#3f27b6"/>
<rect x="586.80" y="695.60" width="1.25" height="55.40" fill="#422bcf"/>
<rect x="587.80" y="695.60" width="1.25" height="55.40" fill="#432cd1"/>
<rect x="588.80" y="695.60" width="1.25" height="55.40" fill="#3e26b2"/>
<rect x="589.80" y="695.60" width="1.25" height="55.40" fill="#4028c2"/>
<rect x="590.80" y="695.60" width="1.25" height="55.40" fill="#3f27bb"/>
<rect x="591.80" y="695.60" width="1.25" height="55.40" fill="#4955f9"/>
<rect x="592.80" y="695.60" width="1.25" height="55.40" fill="#4534e3"/>
<rect x="593.80" y="695.60" width="1.25" height="55.40" fill="#3e26b5"/>
<rect x="594.80" y="695.60" width="1.25" height="55.40" fill="#3f27b6"/>
<rect x="595.80" y="695.60" width="1.25" height="55.40" fill="#4129c3"/>
<rect x="596.80" y="695.60" width="1.25" height="55.40" fill="#4741f0"/>
<rect x="597.80" y="695.60" width="1.25" height="55.40" fill="#484ef8"/>
<rect x="598.80" y="695.60" width="1.25" height="55.40" fill="#3f27b7"/>
<rect x="599.80" y="695.60" width="1.25" height="55.40" fill="#3f27bb"/>
<rect x="600.80" y="695.60" width="1.25" height="55.40" fill="#3f27ba"/>
<rect x="601.80" y="695.60" width="1.25" height="55.40" fill="#3e26b2"/>
<rect x="602.80" y="695.60" width="1.25" height="55.40" fill="#4954f9"/>
<rect x="603.80" y="695.60" width="1.25" height="55.40" fill="#3f27ba"/>
<rect x="604.80" y="695.60" width="1.25" height="55.40" fill="#3e26b2"/>
<rect x="605.80" y="695.60" width="1.25" height="55.40" fill="#3e26b5"/>
<rect x="606.80" y="695.60" width="1.25" height="55.40" fill="#3e26b2"/>
<rect x="607.80" y="695.60" width="1.25" height="55.40" fill="#3e26b2"/>
<rect x="608.80" y="695.60" width="1.25" height="55.40" fill="#4129c9"/>
<rect x="609.80" y="695.60" width="1.25" height="55.40" fill="#3e26b2"/>
<rect x="610.80" y="695.60" width="1.25" height="55.40" fill="#4535e3"/>
<rect x="611.80" y="695.60" width="1.25" height="55.40" fill="#3e26b2"/>
<rect x="612.80" y="695.60" width="1.25" height="55.40" fill="#3e26b2"/>
<rect x="613.80" y="695.60" width="1.25" height="55.40" fill="#3e26b2"/>
<rect x="614.80" y="695.60" width="1.25" height="55.40" fill="#4432df"/>
<rect x="615.80" y="695.60" width="1.25" height="55.40" fill="#3e26b2"/>
<rect x="616.80" y="695.60" width="1.25" height="55.40" fill="#3f27b7"/>
<rect x="617.80" y="695.60" width="1.25" height="55.40" fill="#3e26b2"/>
<rect x="618.80" y="695.60" width="1.25" height="55.40" fill="#3e26b2"/>
<rect x="619.80" y="695.60" width="1.25" height="55.40" fill="#484af7"/>
<rect x="620.80" y="695.60" width="1.25" height="55.40" fill="#3e26b5"/>
<rect x="621.80" y="695.60" width="1.25" height="55.40" fill="#4028c2"/>
<rect x="622.80" y="695.60" width="1.25" height="55.40" fill="#4028bc"/>
<rect x="623.80" y="695.60" width="1.25" height="55.40" fill="#432ed5"/>
<rect x="624.80" y="695.60" width="1.25" height="55.40" fill="#432ed5"/>
<rect x="625.80" y="695.60" width="1.25" height="55.40" fill="#3e26b2"/>
<rect x="626.80" y="695.60" width="1.25" height="55.40" fill="#4430d9"/>
<rect x="627.80" y="695.60" width="1.25" height="55.40" fill="#3f27b6"/>
<rect x="628.80" y="695.60" width="1.25" height="55.40" fill="#4745f3"/>
<rect x="629.80" y="695.60" width="1.25" height="55.40" fill="#3e26b3"/>
<rect x="630.80" y="695.60" width="1.25" height="55.40" fill="#4533e0"/>
<rect x="631.80" y="695.60" width="1.25" height="55.40" fill="#3e26b2"/>
<rect x="632.80" y="695.60" width="1.25" height="55.40" fill="#4534e1"/>
<rect x="633.80" y="695.60" width="1.25" height="55.40" fill="#3f27b8"/>
<rect x="634.80" y="695.60" width="1.25" height="55.40" fill="#4129c4"/>
<rect x="635.80" y="695.60" width="1.25" height="55.40" fill="#3e26b2"/>
<rect x="636.80" y="695.60" width="1.25" height="55.40" fill="#4430da"/>
<rect x="637.80" y="695.60" width="1.25" height="55.40" fill="#3f27b9"/>
<rect x="638.80" y="695.60" width="1.25" height="55.40" fill="#432ed6"/>
<rect x="639.80" y="695.60" width="1.25" height="55.40" fill="#422cd0"/>
<rect x="640.80" y="695.60" width="1.25" height="55.40" fill="#432dd2"/>
<rect x="641.80" y="695.60" width="1.25" height="55.40" fill="#432cd1"/>
<rect x="642.80" y="695.60" width="1.25" height="55.40" fill="#3f27bc"/>
<rect x="643.80" y="695.60" width="1.25" height="55.40" fill="#3e26b5"/>
<rect x="644.80" y="695.60" width="1.25" height="55.40" fill="#3e26b2"/>
<rect x="645.80" y="695.60" width="1.25" height="55.40" fill="#4535e3"/>
<rect x="646.80" y="695.60" width="1.25" height="55.40" fill="#4433df"/>
<rect x="647.80" y="695.60" width="1.25" height="55.40" fill="#3e26b3"/>
<rect x="648.80" y="695.60" width="1.25" height="55.40" fill="#3f27b8"/>
<rect x="649.80" y="695.60" width="1.25" height="55.40" fill="#484bf8"/>
<rect x="650.80" y="695.60" width="1.15" height="55.40" fill="#3e26b2"/>
<line x1="503.50" y1="640.30" x2="503.50" y2="751.00" stroke="#000" stroke-width="1.2" stroke-dasharray="4.4 2.6"/>
<rect x="656.40" y="640.30" width="9.00" height="110.70" fill="url(#pg)"/>
<text x="668.00" y="647.42" font-size="12.9">5</text>
<text x="667.00" y="756.42" font-size="12.9">-2</text>
<line x1="663.40" y1="656.11" x2="665.40" y2="656.11" stroke="#222" stroke-width="0.6"/>
<line x1="663.40" y1="671.93" x2="665.40" y2="671.93" stroke="#222" stroke-width="0.6"/>
<line x1="663.40" y1="687.74" x2="665.40" y2="687.74" stroke="#222" stroke-width="0.6"/>
<line x1="663.40" y1="703.56" x2="665.40" y2="703.56" stroke="#222" stroke-width="0.6"/>
<line x1="663.40" y1="719.37" x2="665.40" y2="719.37" stroke="#222" stroke-width="0.6"/>
<line x1="663.40" y1="735.19" x2="665.40" y2="735.19" stroke="#222" stroke-width="0.6"/>
<line x1="649.90" y1="667.97" x2="651.70" y2="667.97" stroke="#222" stroke-width="0.6"/>
<line x1="649.90" y1="695.65" x2="651.70" y2="695.65" stroke="#222" stroke-width="0.6"/>
<line x1="649.90" y1="723.33" x2="651.70" y2="723.33" stroke="#222" stroke-width="0.6"/>
<line x1="503.80" y1="751.00" x2="503.80" y2="753.80" stroke="#000" stroke-width="1.0"/>
<line x1="516.12" y1="751.00" x2="516.12" y2="753.80" stroke="#000" stroke-width="1.0"/>
<line x1="528.45" y1="751.00" x2="528.45" y2="753.80" stroke="#000" stroke-width="1.0"/>
<line x1="540.77" y1="751.00" x2="540.77" y2="753.80" stroke="#000" stroke-width="1.0"/>
<line x1="553.10" y1="751.00" x2="553.10" y2="753.80" stroke="#000" stroke-width="1.0"/>
<line x1="565.43" y1="751.00" x2="565.43" y2="753.80" stroke="#000" stroke-width="1.0"/>
<line x1="577.75" y1="751.00" x2="577.75" y2="753.80" stroke="#000" stroke-width="1.0"/>
<line x1="590.08" y1="751.00" x2="590.08" y2="753.80" stroke="#000" stroke-width="1.0"/>
<line x1="602.40" y1="751.00" x2="602.40" y2="753.80" stroke="#000" stroke-width="1.0"/>
<line x1="614.73" y1="751.00" x2="614.73" y2="753.80" stroke="#000" stroke-width="1.0"/>
<line x1="627.05" y1="751.00" x2="627.05" y2="753.80" stroke="#000" stroke-width="1.0"/>
<line x1="639.38" y1="751.00" x2="639.38" y2="753.80" stroke="#000" stroke-width="1.0"/>
<line x1="651.70" y1="751.00" x2="651.70" y2="753.80" stroke="#000" stroke-width="1.0"/>
<text x="503.80" y="767.62" font-size="12.9" text-anchor="middle">0</text>
<text x="528.45" y="767.62" font-size="12.9" text-anchor="middle">10</text>
<text x="553.10" y="767.62" font-size="12.9" text-anchor="middle">20</text>
<text x="577.75" y="767.62" font-size="12.9" text-anchor="middle">30</text>
<text x="602.40" y="767.62" font-size="12.9" text-anchor="middle">40</text>
<text x="627.05" y="767.62" font-size="12.9" text-anchor="middle">50</text>
<text x="651.70" y="767.62" font-size="12.9" text-anchor="middle">60</text>
<text x="582.00" y="781.32" font-size="12.9" text-anchor="middle">Time (min)</text>
<text x="485.00" y="639.02" font-size="12.9">Veh/CNO</text>
<text x="470.88" y="697.30" font-size="12.8" text-anchor="middle" transform="rotate(-90 470.88 697.30)">&#916;F/F (%)</text>
<text x="490.42" y="671.60" font-size="12.9" text-anchor="middle" transform="rotate(-90 490.42 671.60)">Veh</text>
<text x="490.42" y="725.90" font-size="12.9" text-anchor="middle" transform="rotate(-90 490.42 725.90)">CNO</text>
<text x="472.09" y="762.70" font-size="10.3" text-anchor="middle" transform="rotate(-90 472.09 762.70)">&#916;F/F (%)</text>
<path d="M475.8 759.2 V770.0 H487.7" fill="none" stroke="#000" stroke-width="1.3"/>
<text x="475.00" y="781.88" font-size="10">30 s</text>
<text x="3.40" y="42.00" font-size="15" font-weight="bold">a</text>
<text x="32.40" y="48.97" font-size="13.05" font-style="italic">AAV2/9-DIO-VGAT1-<tspan fill="#45b957">GCaMp6s</tspan></text>
<text x="30.90" y="63.95" font-size="13.0" font-style="italic">AAV2/9-DIO-CaMKII-<tspan fill="#f02222">jRGECO1a</tspan></text>
<path d="M94.3 186 H22.8 V67.9 L118.6 104.7 C108 118 96.5 140 94.3 161.3 Z" fill="none" stroke="#444" stroke-width="1" stroke-dasharray="3.6 2.6"/>
<path d="M135.1 83.7 C128 100 112 135 108.2 158 C104.5 182 122 192.5 136 192.3 C154 192 176.5 180 176 153 C175.5 132 160 108 135.1 83.7 Z" fill="none" stroke="#444" stroke-width="1" stroke-dasharray="3.6 2.6"/>
<text x="36.60" y="104.72" font-size="12.9">mPFC</text>
<text x="1.00" y="144.42" font-size="12.9">L/R</text>
<text x="133.20" y="110.62" font-size="12.9">CL</text>
<text x="178.80" y="170.82" font-size="12.9">R/L</text>
<path d="M67 137.4 L122.8 158.6 M85.4 144.2 L119 134.9 M122.4 127.7 L119 134.9 L123.1 141.5 M130 154 L122.8 158.6 L122.4 166.4" fill="none" stroke="#a8a8a8" stroke-width="1.3"/>
<circle cx="59.2" cy="135.1" r="8.6" fill="#a8a8a8"/>
<line x1="152.20" y1="123.50" x2="160.32" y2="84.30" stroke="#222" stroke-width="0.8"/>
<path d="M157.84 84.95 L162.34 85.89 L164.89 73.57 L160.39 72.63Z" fill="#fff" stroke="#222" stroke-width="0.7"/>
<path d="M158.07 83.83 L162.57 84.77 L164.20 76.93 L159.69 75.99Z" fill="#45b957" stroke="#222" stroke-width="0.6"/>
<line x1="158.63" y1="72.27" x2="166.65" y2="73.93" stroke="#222" stroke-width="0.8"/>
<line x1="162.64" y1="73.10" x2="163.80" y2="67.50" stroke="#222" stroke-width="0.8"/>
<line x1="160.96" y1="66.91" x2="166.64" y2="68.09" stroke="#222" stroke-width="0.8"/>
<line x1="153.10" y1="121.60" x2="166.31" y2="91.47" stroke="#222" stroke-width="0.8"/>
<path d="M163.77 91.52 L167.99 93.36 L174.38 78.78 L170.16 76.94Z" fill="#fff" stroke="#222" stroke-width="0.7"/>
<path d="M164.20 90.54 L168.41 92.39 L171.82 84.62 L167.61 82.77Z" fill="#f02222" stroke="#222" stroke-width="0.6"/>
<line x1="168.51" y1="76.21" x2="176.03" y2="79.51" stroke="#222" stroke-width="0.8"/>
<line x1="172.27" y1="77.86" x2="174.40" y2="73.00" stroke="#222" stroke-width="0.8"/>
<line x1="171.74" y1="71.84" x2="177.06" y2="74.16" stroke="#222" stroke-width="0.8"/>
<line x1="67.40" y1="160.30" x2="75.14" y2="176.67" stroke="#222" stroke-width="0.8"/>
<path d="M76.87 174.94 L72.71 176.91 L81.16 194.76 L85.32 192.80Z" fill="#fff" stroke="#222" stroke-width="0.7"/>
<path d="M77.22 175.68 L73.06 177.65 L77.64 187.32 L81.80 185.36Z" fill="#999" stroke="#222" stroke-width="0.6"/>
<line x1="86.95" y1="192.03" x2="79.53" y2="195.53" stroke="#222" stroke-width="0.8"/>
<line x1="83.24" y1="193.78" x2="85.00" y2="197.50" stroke="#222" stroke-width="0.8"/>
<line x1="87.62" y1="196.26" x2="82.38" y2="198.74" stroke="#222" stroke-width="0.8"/>
<ellipse cx="138.90" cy="138.30" rx="16.3" ry="11.6" transform="rotate(18 138.90 138.30)" fill="none" stroke="#f02222" stroke-width="1.2" stroke-dasharray="3.4 1.6"/>
<ellipse cx="138.90" cy="138.30" rx="14.100000000000001" ry="9.399999999999999" transform="rotate(18 138.90 138.30)" fill="none" stroke="#f02222" stroke-width="0.5" opacity="0.55"/>
<circle cx="133.20" cy="134.90" r="4.9" fill="#f02222"/>
<circle cx="145.20" cy="140.20" r="4.9" fill="#f02222"/>
<ellipse cx="142.10" cy="168.70" rx="16.3" ry="11.6" transform="rotate(22 142.10 168.70)" fill="none" stroke="#45b957" stroke-width="1.2" stroke-dasharray="3.4 1.6"/>
<ellipse cx="142.10" cy="168.70" rx="14.100000000000001" ry="9.399999999999999" transform="rotate(22 142.10 168.70)" fill="none" stroke="#45b957" stroke-width="0.5" opacity="0.55"/>
<circle cx="134.20" cy="165.20" r="5.3" fill="#45b957"/>
<circle cx="147.40" cy="171.90" r="5.3" fill="#45b957"/>
<line x1="154.10" y1="146.30" x2="162.91" y2="151.72" stroke="#f02222" stroke-width="1.4"/>
<path d="M167.60 154.60 L160.28 154.09 L163.84 148.30Z" fill="#f02222"/>
<line x1="156.90" y1="173.80" x2="164.59" y2="162.01" stroke="#45b957" stroke-width="1.4"/>
<path d="M167.60 157.40 L166.90 164.70 L161.20 160.99Z" fill="#45b957"/>
<g transform="translate(189.80 96.50) rotate(107.67)">
<rect x="32.77" y="-2" width="29.38" height="4" fill="#dfe8f6" stroke="#4f7fd0" stroke-width="0.9"/>
<rect x="0" y="-6.80" width="33.27" height="13.60" rx="2.2" fill="#dfe8f6" stroke="#4f7fd0" stroke-width="0.9"/>
<ellipse cx="2" cy="0" rx="1.8" ry="6.80" fill="none" stroke="#4f7fd0" stroke-width="0.7"/>
<text x="17.64" y="3.6" font-size="10.5" text-anchor="middle">Fiber</text>
</g>
<text x="2.70" y="203.62" font-size="12.9" font-style="italic">AAV2/1-Cre</text>
<text x="2.70" y="218.82" font-size="12.9" font-style="italic">AAV2/9-DIO-hM3D(Gq)+AAV2/9-Cre</text>
<text x="3.90" y="251.00" font-size="15" font-weight="bold">b</text>
<text x="50.40" y="252.32" font-size="12.9"><tspan fill="#45b957">GCaMp6s</tspan>/<tspan fill="#f02222">jRGECO1a</tspan></text>
<defs><clipPath id="cpb"><rect x="60.9" y="258.7" width="110.2" height="110.1"/></clipPath><filter id="nzb" x="0" y="0" width="100%" height="100%" color-interpolation-filters="sRGB"><feTurbulence type="fractalNoise" baseFrequency="0.1" numOctaves="2" seed="4" result="a"/><feColorMatrix in="a" type="matrix" values="0.25 0 0 0 -0.09  0 0.3 0 0 -0.115  0 0 0 0 0  0 0 0 0 1" result="A"/><feTurbulence type="fractalNoise" baseFrequency="0.55" numOctaves="2" seed="11" result="b"/><feColorMatrix in="b" type="matrix" values="2.2 0 0 0 -1.39  0 2.5 0 0 -1.41  0 0 0 0 0  0 0 0 0 1" result="B"/><feComposite in="A" in2="B" operator="arithmetic" k1="0" k2="1" k3="1" k4="0" result="C"/><feGaussianBlur in="C" stdDeviation="0.45"/></filter><filter id="blb" x="-30%" y="-30%" width="160%" height="160%"><feGaussianBlur stdDeviation="0.65"/></filter></defs>
<rect x="60.90" y="258.70" width="110.20" height="110.10" fill="#000"/>
<rect x="60.9" y="258.7" width="110.2" height="110.1" filter="url(#nzb)"/>
<g clip-path="url(#cpb)"><g filter="url(#blb)">
<ellipse cx="72.5" cy="328.2" rx="4.6" ry="4.3" transform="rotate(0 72.5 328.2)" fill="#ff3418" opacity="1"/>
<ellipse cx="100.4" cy="321.6" rx="3.0" ry="4.8" transform="rotate(-20 100.4 321.6)" fill="#ff3418" opacity="1"/>
<ellipse cx="91" cy="353.1" rx="4.9" ry="4.6" transform="rotate(0 91 353.1)" fill="#ff3418" opacity="1"/>
<ellipse cx="120.9" cy="291.3" rx="2.4" ry="2.0" transform="rotate(30 120.9 291.3)" fill="#ff3418" opacity="0.9"/>
<ellipse cx="135.5" cy="299" rx="2.4" ry="2.2" transform="rotate(0 135.5 299)" fill="#ff3418" opacity="0.9"/>
<ellipse cx="101.7" cy="286.8" rx="2.6" ry="1.8" transform="rotate(40 101.7 286.8)" fill="#ff3418" opacity="0.8"/>
<ellipse cx="126.2" cy="276.2" rx="2.2" ry="1.8" transform="rotate(0 126.2 276.2)" fill="#ff3418" opacity="0.8"/>
<ellipse cx="70.1" cy="311.8" rx="1.6" ry="3.0" transform="rotate(10 70.1 311.8)" fill="#ff3418" opacity="0.9"/>
<ellipse cx="95.6" cy="329.2" rx="2.2" ry="2.4" transform="rotate(0 95.6 329.2)" fill="#ff3418" opacity="0.85"/>
<ellipse cx="112" cy="339.4" rx="2.2" ry="2.0" transform="rotate(0 112 339.4)" fill="#ff3418" opacity="0.6"/>
<ellipse cx="169" cy="326" rx="2.0" ry="2.4" transform="rotate(0 169 326)" fill="#ff3418" opacity="0.9"/>
<ellipse cx="78" cy="328.8" rx="5" ry="1.0" transform="rotate(10 78 328.8)" fill="#ff3418" opacity="0.8"/>
<ellipse cx="103.5" cy="327" rx="1.2" ry="3.5" transform="rotate(-25 103.5 327)" fill="#ff3418" opacity="0.8"/>
<ellipse cx="133" cy="362" rx="2" ry="1.6" transform="rotate(0 133 362)" fill="#ff3418" opacity="0.7"/>
<ellipse cx="75" cy="297" rx="2.2" ry="1.2" transform="rotate(0 75 297)" fill="#ff3418" opacity="0.5"/>
<circle cx="79.6" cy="285.9" r="3.0" fill="#3a0a04" stroke="#f83a1c" stroke-width="1.9" opacity="1"/>
<circle cx="136.4" cy="274.4" r="2.7" fill="#3a0a04" stroke="#f83a1c" stroke-width="1.9" opacity="0.9"/>
<circle cx="116.4" cy="314.4" r="3.0" fill="#3a0a04" stroke="#f83a1c" stroke-width="1.9" opacity="1"/>
<circle cx="88.8" cy="323" r="3.0" fill="#3a0a04" stroke="#f83a1c" stroke-width="1.9" opacity="1"/>
<circle cx="122.7" cy="352.7" r="3.3" fill="#3a0a04" stroke="#f83a1c" stroke-width="1.9" opacity="0.9"/>
<circle cx="158.3" cy="291.3" r="2.6" fill="#3a0a04" stroke="#f83a1c" stroke-width="1.9" opacity="0.45"/>
<circle cx="107.5" cy="310.5" r="2.3" fill="#3a0a04" stroke="#f83a1c" stroke-width="1.9" opacity="0.8"/>
<circle cx="113" cy="342" r="1.7" fill="#3a0a04" stroke="#f83a1c" stroke-width="1.9" opacity="0.5"/>
<circle cx="111.6" cy="269.4" r="3.0" fill="#35e83a" opacity="0.95"/>
<circle cx="88" cy="311.4" r="3.2" fill="#35e83a" opacity="1"/>
<circle cx="138.7" cy="341.2" r="3.0" fill="#35e83a" opacity="1"/>
<circle cx="163.6" cy="339" r="2.2" fill="#35e83a" opacity="0.9"/>
<circle cx="142.3" cy="270.8" r="1.8" fill="#35e83a" opacity="0.8"/>
<circle cx="103.1" cy="281.5" r="1.7" fill="#35e83a" opacity="0.8"/>
<circle cx="142.3" cy="310" r="1.6" fill="#35e83a" opacity="0.7"/>
<circle cx="133.4" cy="318.9" r="1.6" fill="#35e83a" opacity="0.7"/>
<circle cx="110" cy="272.5" r="1.6" fill="#35e83a" opacity="0.8"/>
<circle cx="114" cy="266.5" r="1.4" fill="#35e83a" opacity="0.8"/>
<circle cx="136" cy="344" r="1.5" fill="#35e83a" opacity="0.8"/>
<circle cx="141" cy="338" r="1.4" fill="#35e83a" opacity="0.8"/>
<circle cx="164" cy="296" r="1.2" fill="#35e83a" opacity="0.6"/>
<circle cx="126.5" cy="275.5" r="1.2" fill="#35e83a" opacity="0.7"/>
</g></g>
<text x="65.30" y="273.42" font-size="12.9" fill="#fff">CL</text>
<rect x="108.10" y="364.00" width="60.50" height="1.70" fill="#f4f4f4"/>
<text x="3.90" y="648.60" font-size="15" font-weight="bold">f</text>
<text x="51.00" y="655.02" font-size="12.9"><tspan fill="#45b957">GCaMp6s</tspan>/<tspan fill="#f02222">jRGECO1a</tspan></text>
<defs><clipPath id="cpf"><rect x="60" y="660.2" width="109.9" height="109.6"/></clipPath><filter id="nzf" x="0" y="0" width="100%" height="100%" color-interpolation-filters="sRGB"><feTurbulence type="fractalNoise" baseFrequency="0.1" numOctaves="2" seed="9" result="a"/><feColorMatrix in="a" type="matrix" values="0.9 0 0 0 -0.275  0 0.5 0 0 -0.165  0 0 0 0 0  0 0 0 0 1" result="A"/><feTurbulence type="fractalNoise" baseFrequency="0.6" numOctaves="2" seed="16" result="b"/><feColorMatrix in="b" type="matrix" values="2.0 0 0 0 -1.16  0 2.2 0 0 -1.24  0 0 0 0 0  0 0 0 0 1" result="B"/><feComposite in="A" in2="B" operator="arithmetic" k1="0" k2="1" k3="1" k4="0" result="C"/><feGaussianBlur in="C" stdDeviation="0.45"/></filter><filter id="blf" x="-30%" y="-30%" width="160%" height="160%"><feGaussianBlur stdDeviation="0.65"/></filter></defs>
<rect x="60.00" y="660.20" width="109.90" height="109.60" fill="#000"/>
<rect x="60" y="660.2" width="109.9" height="109.6" filter="url(#nzf)"/>
<g clip-path="url(#cpf)"><g filter="url(#blf)">
<ellipse cx="118.2" cy="680.7" rx="4.6" ry="4.0" transform="rotate(0 118.2 680.7)" fill="#ff3418" opacity="0.95"/>
<ellipse cx="153" cy="678" rx="4.8" ry="4.2" transform="rotate(-20 153 678)" fill="#ff3418" opacity="0.9"/>
<ellipse cx="81.7" cy="663.8" rx="4" ry="3.4" transform="rotate(0 81.7 663.8)" fill="#ff3418" opacity="0.85"/>
<ellipse cx="84.4" cy="672.7" rx="3.4" ry="3" transform="rotate(0 84.4 672.7)" fill="#ff3418" opacity="0.6"/>
<ellipse cx="133.4" cy="692.3" rx="5.2" ry="3.2" transform="rotate(-20 133.4 692.3)" fill="#ff3418" opacity="1"/>
<ellipse cx="101.3" cy="687" rx="3" ry="2.2" transform="rotate(-30 101.3 687)" fill="#ff3418" opacity="1"/>
<ellipse cx="108" cy="683" rx="6" ry="0.9" transform="rotate(-28 108 683)" fill="#ff3418" opacity="0.9"/>
<ellipse cx="130.7" cy="710.1" rx="4.2" ry="3.6" transform="rotate(0 130.7 710.1)" fill="#ff3418" opacity="0.9"/>
<ellipse cx="110.2" cy="716.3" rx="4" ry="3.4" transform="rotate(20 110.2 716.3)" fill="#ff3418" opacity="0.6"/>
<ellipse cx="166.3" cy="722.6" rx="4.4" ry="4.2" transform="rotate(0 166.3 722.6)" fill="#ff3418" opacity="1"/>
<ellipse cx="148.5" cy="728.8" rx="5.2" ry="3.6" transform="rotate(25 148.5 728.8)" fill="#ff3418" opacity="1"/>
<ellipse cx="106.6" cy="728.8" rx="4.8" ry="3.4" transform="rotate(10 106.6 728.8)" fill="#ff3418" opacity="0.6"/>
<ellipse cx="121.8" cy="744.8" rx="4.6" ry="4" transform="rotate(-20 121.8 744.8)" fill="#ff3418" opacity="1"/>
<ellipse cx="120.9" cy="752" rx="4" ry="2.8" transform="rotate(0 120.9 752)" fill="#ff3418" opacity="0.9"/>
<ellipse cx="154.7" cy="750.2" rx="5.2" ry="3.2" transform="rotate(15 154.7 750.2)" fill="#ff3418" opacity="1"/>
<ellipse cx="93.3" cy="757.3" rx="3.6" ry="4" transform="rotate(0 93.3 757.3)" fill="#ff3418" opacity="0.85"/>
<ellipse cx="73.7" cy="754.6" rx="4" ry="3.6" transform="rotate(0 73.7 754.6)" fill="#ff3418" opacity="0.55"/>
<ellipse cx="126.2" cy="764.4" rx="5" ry="2.6" transform="rotate(0 126.2 764.4)" fill="#ff3418" opacity="1"/>
<ellipse cx="103.1" cy="697.6" rx="4" ry="3" transform="rotate(0 103.1 697.6)" fill="#ff3418" opacity="0.5"/>
<ellipse cx="143.2" cy="712.8" rx="4" ry="3" transform="rotate(0 143.2 712.8)" fill="#ff3418" opacity="0.5"/>
<ellipse cx="115.6" cy="687.8" rx="3.4" ry="3" transform="rotate(0 115.6 687.8)" fill="#ff3418" opacity="0.55"/>
<ellipse cx="164" cy="752" rx="6" ry="0.9" transform="rotate(8 164 752)" fill="#ff3418" opacity="0.9"/>
<ellipse cx="142" cy="688" rx="4" ry="1.0" transform="rotate(-30 142 688)" fill="#ff3418" opacity="0.8"/>
<ellipse cx="157" cy="733" rx="3" ry="0.9" transform="rotate(35 157 733)" fill="#ff3418" opacity="0.8"/>
<ellipse cx="160" cy="705" rx="9" ry="0.8" transform="rotate(12 160 705)" fill="#ff3418" opacity="0.55"/>
<ellipse cx="150" cy="762" rx="14" ry="0.7" transform="rotate(-14 150 762)" fill="#ff3418" opacity="0.5"/>
<ellipse cx="98" cy="740" rx="3.4" ry="2.8" transform="rotate(0 98 740)" fill="#ff3418" opacity="0.45"/>
<ellipse cx="160" cy="716" rx="3" ry="2.6" transform="rotate(0 160 716)" fill="#ff3418" opacity="0.5"/>
<ellipse cx="88" cy="722" rx="3" ry="2.6" transform="rotate(0 88 722)" fill="#ff3418" opacity="0.4"/>
<ellipse cx="70" cy="735" rx="3" ry="2.4" transform="rotate(0 70 735)" fill="#ff3418" opacity="0.4"/>
<circle cx="75.5" cy="687" r="3.0" fill="#35e83a" opacity="0.9"/>
<circle cx="132.5" cy="731.8" r="3.4" fill="#35e83a" opacity="1"/>
<circle cx="107" cy="751.6" r="3.7" fill="#35e83a" opacity="1"/>
<circle cx="114.7" cy="743" r="1.9" fill="#35e83a" opacity="0.9"/>
<circle cx="66.6" cy="706.5" r="2.6" fill="#35e83a" opacity="0.4"/>
<circle cx="157.4" cy="688.7" r="2.8" fill="#35e83a" opacity="0.4"/>
<circle cx="77.3" cy="706.5" r="2.2" fill="#35e83a" opacity="0.5"/>
<circle cx="101" cy="750" r="1.8" fill="#35e83a" opacity="0.7"/>
<circle cx="144" cy="662" r="2.0" fill="#35e83a" opacity="0.45"/>
<circle cx="87" cy="720" r="1.6" fill="#35e83a" opacity="0.5"/>
<circle cx="156" cy="729" r="1.6" fill="#35e83a" opacity="0.6"/>
<circle cx="120" cy="768" r="1.6" fill="#35e83a" opacity="0.7"/>
</g></g>
<text x="63.90" y="674.82" font-size="12.9" fill="#fff">mPFC</text>
<rect x="110.20" y="765.00" width="57.00" height="1.80" fill="#d4d4d4"/>
<text x="3.40" y="433.70" font-size="15" font-weight="bold">e</text>
<text x="29.00" y="436.07" font-size="13.05" font-style="italic">AAV2/9-DIO-VGAT1-<tspan fill="#45b957">GCaMp6s</tspan></text>
<text x="27.90" y="451.14" font-size="12.95" font-style="italic">AAV2/9-DIO-CaMKII-<tspan fill="#f02222">jRGECO1a</tspan></text>
<path d="M45.5 486.1 C38 502 22 535 18.6 560 C15.5 584 32 594 47 594 C66 594 87 582 86.5 557 C86 535 70 510 45.5 486.1 Z" fill="none" stroke="#444" stroke-width="1" stroke-dasharray="3.6 2.6"/>
<path d="M75.5 501.7 L171.6 464.7 V582.8 H99.6 V556 C98.5 540 90 518 75.5 501.7 Z" fill="none" stroke="#444" stroke-width="1" stroke-dasharray="3.6 2.6"/>
<text x="42.10" y="517.32" font-size="12.9">CL</text>
<text x="4.20" y="533.82" font-size="12.9">R/L</text>
<text x="175.00" y="547.12" font-size="12.9">R/L</text>
<text x="119.40" y="582.22" font-size="12.9">mPFC</text>
<path d="M58 557.7 L121.4 553.5 M93 554.8 L110 539.6 M105.3 530.7 L110 539.6 L119.5 539 M129 543.4 L121.4 553.5 L130 559.8" fill="none" stroke="#a8a8a8" stroke-width="1.3"/>
<circle cx="50.3" cy="557.7" r="8.6" fill="#a8a8a8"/>
<line x1="103.40" y1="511.20" x2="89.17" y2="477.92" stroke="#222" stroke-width="0.8"/>
<path d="M87.49 479.85 L91.72 478.04 L85.80 464.22 L81.58 466.02Z" fill="#fff" stroke="#222" stroke-width="0.7"/>
<path d="M87.05 478.82 L91.28 477.02 L87.78 468.82 L83.55 470.63Z" fill="#f02222" stroke="#222" stroke-width="0.6"/>
<line x1="79.92" y1="466.73" x2="87.46" y2="463.51" stroke="#222" stroke-width="0.8"/>
<line x1="83.69" y1="465.12" x2="81.50" y2="460.00" stroke="#222" stroke-width="0.8"/>
<line x1="78.83" y1="461.14" x2="84.17" y2="458.86" stroke="#222" stroke-width="0.8"/>
<line x1="104.00" y1="508.30" x2="95.84" y2="471.72" stroke="#222" stroke-width="0.8"/>
<path d="M93.84 473.29 L98.32 472.29 L95.44 459.38 L90.96 460.38Z" fill="#fff" stroke="#222" stroke-width="0.7"/>
<path d="M93.60 472.22 L98.08 471.22 L96.28 463.15 L91.80 464.15Z" fill="#45b957" stroke="#222" stroke-width="0.6"/>
<line x1="89.20" y1="460.77" x2="97.20" y2="458.99" stroke="#222" stroke-width="0.8"/>
<line x1="93.20" y1="459.88" x2="92.00" y2="454.50" stroke="#222" stroke-width="0.8"/>
<line x1="89.17" y1="455.13" x2="94.83" y2="453.87" stroke="#222" stroke-width="0.8"/>
<line x1="57.80" y1="572.20" x2="52.34" y2="588.92" stroke="#222" stroke-width="0.8"/>
<path d="M54.79 588.83 L50.41 587.41 L43.91 607.31 L48.29 608.73Z" fill="#fff" stroke="#222" stroke-width="0.7"/>
<path d="M54.53 589.63 L50.15 588.20 L46.51 599.35 L50.89 600.77Z" fill="#999" stroke="#222" stroke-width="0.6"/>
<line x1="50.00" y1="609.29" x2="42.20" y2="606.75" stroke="#222" stroke-width="0.8"/>
<line x1="46.10" y1="608.02" x2="44.80" y2="612.00" stroke="#222" stroke-width="0.8"/>
<line x1="47.56" y1="612.90" x2="42.04" y2="611.10" stroke="#222" stroke-width="0.8"/>
<ellipse cx="125.10" cy="522.50" rx="16.3" ry="11.4" transform="rotate(-22 125.10 522.50)" fill="none" stroke="#f02222" stroke-width="1.2" stroke-dasharray="3.4 1.6"/>
<ellipse cx="125.10" cy="522.50" rx="14.100000000000001" ry="9.2" transform="rotate(-22 125.10 522.50)" fill="none" stroke="#f02222" stroke-width="0.5" opacity="0.55"/>
<circle cx="120.00" cy="526.90" r="5.1" fill="#f02222"/>
<circle cx="129.80" cy="519.30" r="5.1" fill="#f02222"/>
<ellipse cx="145.00" cy="547.20" rx="16.3" ry="11.4" transform="rotate(-26 145.00 547.20)" fill="none" stroke="#45b957" stroke-width="1.2" stroke-dasharray="3.4 1.6"/>
<ellipse cx="145.00" cy="547.20" rx="14.100000000000001" ry="9.2" transform="rotate(-26 145.00 547.20)" fill="none" stroke="#45b957" stroke-width="0.5" opacity="0.55"/>
<circle cx="138.40" cy="551.60" r="5.5" fill="#45b957"/>
<circle cx="151.30" cy="543.40" r="5.5" fill="#45b957"/>
<line x1="139.70" y1="513.10" x2="152.11" y2="514.00" stroke="#f02222" stroke-width="1.4"/>
<path d="M157.60 514.40 L150.87 517.32 L151.36 510.54Z" fill="#f02222"/>
<line x1="154.50" y1="534.50" x2="156.20" y2="523.04" stroke="#45b957" stroke-width="1.4"/>
<path d="M157.00 517.60 L159.41 524.53 L152.69 523.53Z" fill="#45b957"/>
<g transform="translate(183.60 459.40) rotate(111.62)">
<rect x="29.62" y="-2" width="31.13" height="4" fill="#dfe8f6" stroke="#4f7fd0" stroke-width="0.9"/>
<rect x="0" y="-6.80" width="30.12" height="13.60" rx="2.2" fill="#dfe8f6" stroke="#4f7fd0" stroke-width="0.9"/>
<ellipse cx="2" cy="0" rx="1.8" ry="6.80" fill="none" stroke="#4f7fd0" stroke-width="0.7"/>
<text x="16.06" y="3.6" font-size="10.5" text-anchor="middle">Fiber</text>
</g>
<text x="59.80" y="611.02" font-size="12.9" font-style="italic">AAV2/1-Cre</text>
<text x="2.70" y="626.22" font-size="12.9" font-style="italic">AAV2/9-DIO-hM3D(Gq)+AAV2/9-Cre</text>
<text x="3.30" y="825.00" font-size="15" font-weight="bold">i</text>
<rect x="27.2" y="828.6" width="159.4" height="145.4" fill="none" stroke="#555" stroke-width="1.4" stroke-dasharray="4.8 2.4"/>
<text x="49.00" y="845.52" font-size="12.9">Stimulating mPFC</text>
<path d="M63.6 854 C58 868 44 898 39.6 909.2 C35.5 920 32.6 930 32.2 938 C31.8 950 40 959.5 56 959.8 C72 960 84 954 91 947 C98 940 102.6 930 102.4 918 C102 898 84 874 63.6 854 Z" fill="#eef3f9" stroke="#4a4a4a" stroke-width="0.9"/>
<path d="M96.4 876.5 L179.6 839.4 V956.6 L117.8 958.1 V931 C117 912 109 892 96.4 876.5 Z" fill="#faf7ee" stroke="#666" stroke-width="0.9"/>
<text x="56.90" y="880.52" font-size="12.9" fill="#444">CL</text>
<text x="132.30" y="879.12" font-size="12.9" fill="#555">mPFC</text>
<text x="52.60" y="973.12" font-size="12.9">L/R</text>
<text x="139.60" y="973.12" font-size="12.9">R/L</text>
<path d="M58.6 898.2 C50 899 40.3 908 40.3 920.9 C40.3 932 47 937.5 56.4 937.7" fill="none" stroke="#555" stroke-width="1.6"/>
<path d="M76.1 898.2 C90 899.5 100.9 908 100.9 920.9 C100.9 930 96 935.5 83.4 935.8" fill="none" stroke="#555" stroke-width="1.6"/>
<path d="M154.7 925.5 C155.2 931 153.5 936.2 145 936.2 L83 935.8" fill="none" stroke="#555" stroke-width="1.6"/>
<path d="M56.4 897.9 L63.7 895.3 L59.3 907.2 Z M71.7 895.3 L79 897.9 L76.1 907.2 Z" fill="#555"/>
<path d="M77.6 927.4 L83.6 935.6 L77.6 942.2 Z" fill="#555"/>
<path d="M67.70 894.60 L79.00 912.80 L56.80 912.80Z" fill="#eaa982"/>
<text x="68.20" y="909.51" font-size="7" text-anchor="middle" font-weight="bold" fill="#1a1a1a">Glu</text>
<circle cx="66.60" cy="936.20" r="10.6" fill="#a8d888"/>
<text x="66.60" y="938.87" font-size="6.9" text-anchor="middle" font-weight="bold" fill="#1a1a1a">GABA</text>
<line x1="67.60" y1="887.00" x2="67.60" y2="895.40" stroke="#3b7ed6" stroke-width="1.3"/>
<path d="M67.60 900.60 L64.10 894.40 L71.10 894.40Z" fill="#3b7ed6"/>
<line x1="66.60" y1="930.60" x2="66.60" y2="921.60" stroke="#c41a1a" stroke-width="1.3"/>
<path d="M66.60 916.40 L70.10 922.60 L63.10 922.60Z" fill="#c41a1a"/>
<path d="M152.60 909.90 L163.50 925.50 L141.60 925.50Z" fill="#bcbcbc"/>
<text x="152.60" y="922.11" font-size="7" text-anchor="middle" font-weight="bold" fill="#1a1a1a">Glu</text>
<path transform="translate(154.80 904.80) scale(1.0)" d="M0.8 -6.6 L4.2 -5.2 L1.8 -1.9 L3.2 -1.4 L-4.2 6.6 L-0.9 0.4 L-2.4 0 Z" fill="#f0201a"/>
<path transform="translate(196.20 908.80) scale(1.03)" d="M0.8 -6.6 L4.2 -5.2 L1.8 -1.9 L3.2 -1.4 L-4.2 6.6 L-0.9 0.4 L-2.4 0 Z" fill="#f0201a"/>
<text x="203.20" y="912.61" font-size="10.35">activating</text>
<line x1="194.10" y1="918.40" x2="194.10" y2="927.20" stroke="#3b7ed6" stroke-width="1.3"/>
<path d="M194.10 932.40 L190.60 926.20 L197.60 926.20Z" fill="#3b7ed6"/>
<text x="204.90" y="930.81" font-size="10.35">decreased response in activity</text>
<line x1="194.30" y1="951.00" x2="194.30" y2="941.80" stroke="#c41a1a" stroke-width="1.3"/>
<path d="M194.30 936.60 L197.80 942.80 L190.80 942.80Z" fill="#c41a1a"/>
<text x="204.90" y="948.31" font-size="10.35">increased response in activity</text>
<text x="345.00" y="825.00" font-size="15" font-weight="bold">j</text>
<rect x="361.6" y="828.3" width="159.8" height="145.4" fill="none" stroke="#555" stroke-width="1.4" stroke-dasharray="4.8 2.4"/>
<text x="382.40" y="844.92" font-size="12.9">Stimulating CL</text>
<path d="M398.4 853.4 C394 864 385 880 380.5 889.8 C376 900 370 912 367.4 930.7 C366 943 372 955 388 958 C400 960 412 955 420 948 C430 939 437.8 928 437.5 914.6 C437 898 418 874 398.4 853.4 Z" fill="#eef3f9" stroke="#4a4a4a" stroke-width="0.9"/>
<path d="M430.3 875.9 L514.1 838.8 V957 L451.3 958.1 V936 C451 918 444 893 430.3 875.9 Z" fill="#faf7ee" stroke="#666" stroke-width="0.9"/>
<text x="393.70" y="876.02" font-size="12.9" fill="#444">CL</text>
<text x="465.10" y="873.02" font-size="12.9" fill="#555">mPFC</text>
<text x="389.60" y="972.52" font-size="12.9">R/L</text>
<text x="476.80" y="971.02" font-size="12.9">R/L</text>
<path d="M389.3 924.1 C394 919.5 399 917.5 403.2 916.8 C412 914 420 912.5 425.1 911.7 C433 910.2 438 909 442.6 908.1 C450 906.5 455 903.5 458.6 900 C461 897.5 463 896.2 465 895.7" fill="none" stroke="#555" stroke-width="1.6"/>
<path d="M440 908.8 C447 908 452 913 457.1 920.5 C461 927 463 931 467.3 935 C471 939 475 941.6 479 941.6 L485 941.6" fill="none" stroke="#555" stroke-width="1.6"/>
<path d="M491.4 903.7 C494.5 907 495.8 910 495.8 914.6 L495.8 924" fill="none" stroke="#555" stroke-width="1.6"/>
<path d="M471.4 886.9 L471.4 903.7 L464.4 895.7 Z" fill="#555"/>
<path d="M485.3 934.6 L492.4 945.7 L483.2 944.6 Z" fill="#555"/>
<path d="M489.2 928.2 L503.1 928.2 L496.1 922.5 Z" fill="#555"/>
<circle cx="483.10" cy="894.90" r="10.6" fill="#a8d888"/>
<text x="483.10" y="897.57" font-size="6.9" text-anchor="middle" font-weight="bold" fill="#1a1a1a">GABA</text>
<line x1="483.10" y1="888.60" x2="483.10" y2="879.50" stroke="#c41a1a" stroke-width="1.3"/>
<path d="M483.10 874.30 L486.60 880.50 L479.60 880.50Z" fill="#c41a1a"/>
<path d="M374.00 924.60 L396.20 924.60 L385.20 942.40Z" fill="#bcbcbc"/>
<text x="385.20" y="933.41" font-size="7" text-anchor="middle" font-weight="bold" fill="#1a1a1a">Glu</text>
<path transform="translate(387.50 919.40) scale(0.95)" d="M0.8 -6.6 L4.2 -5.2 L1.8 -1.9 L3.2 -1.4 L-4.2 6.6 L-0.9 0.4 L-2.4 0 Z" fill="#f0201a"/>
<path d="M484.10 929.20 L506.50 929.20 L495.40 946.80Z" fill="#eaa982"/>
<text x="495.50" y="938.51" font-size="7" text-anchor="middle" font-weight="bold" fill="#1a1a1a">Glu</text>
<line x1="496.20" y1="940.60" x2="496.20" y2="949.80" stroke="#3b7ed6" stroke-width="1.3"/>
<path d="M496.20 955.00 L492.70 948.80 L499.70 948.80Z" fill="#3b7ed6"/>
<path transform="translate(531.20 914.20) scale(1.0)" d="M0.8 -6.6 L4.2 -5.2 L1.8 -1.9 L3.2 -1.4 L-4.2 6.6 L-0.9 0.4 L-2.4 0 Z" fill="#f0201a"/>
<text x="536.80" y="917.99" font-size="10.3">activating</text>
<line x1="528.90" y1="924.20" x2="528.90" y2="932.50" stroke="#3b7ed6" stroke-width="1.3"/>
<path d="M528.90 937.70 L525.40 931.50 L532.40 931.50Z" fill="#3b7ed6"/>
<text x="537.50" y="935.99" font-size="10.3">decreased response in activity</text>
<line x1="529.30" y1="956.20" x2="529.30" y2="947.60" stroke="#c41a1a" stroke-width="1.3"/>
<path d="M529.30 942.40 L532.80 948.60 L525.80 948.60Z" fill="#c41a1a"/>
<text x="539.20" y="953.49" font-size="10.3">increased response in activity</text>
</svg>
</body></html>
